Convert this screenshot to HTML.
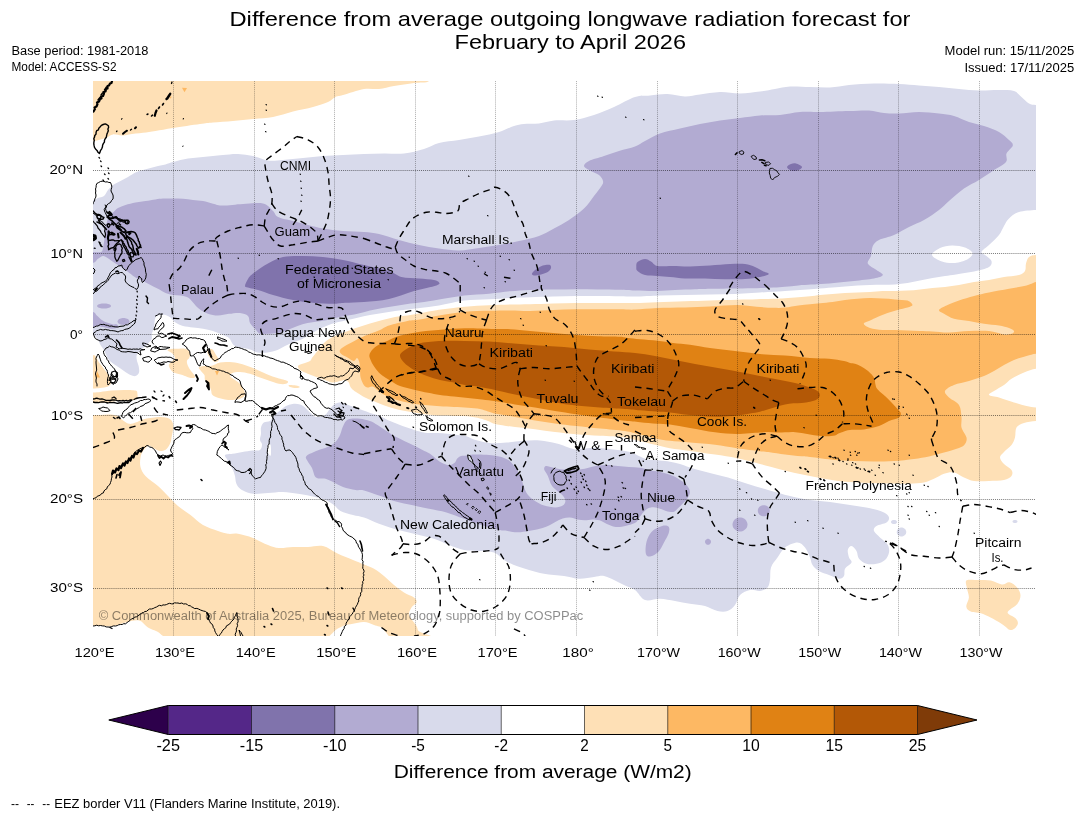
<!DOCTYPE html>
<html><head><meta charset="utf-8"><title>OLR forecast</title>
<style>
html,body{margin:0;padding:0;background:#fff;}
body{width:1085px;height:816px;overflow:hidden;font-family:"Liberation Sans",sans-serif;}
svg{display:block;position:absolute;left:0;top:0;}
svg text{font-family:"Liberation Sans",sans-serif;fill:#000;}
.tx{filter:grayscale(1);}
</style></head><body>
<svg width="1085" height="816" viewBox="0 0 1085 816">
<rect x="0" y="0" width="1085" height="816" fill="#fff"/>
<defs><clipPath id="mc"><rect x="93" y="81" width="943" height="555"/></clipPath></defs>
<g clip-path="url(#mc)" stroke="none">
<path fill="#fee0b6" d="M80.0,70.0C138.2,58.0 370.8,68.2 429.0,70.0C487.2,71.8 431.5,78.8 429.0,81.0C426.5,83.2 419.8,82.2 414.0,83.0C408.2,83.8 399.8,85.0 394.0,86.0C388.2,87.0 384.0,88.5 379.0,89.0C374.0,89.5 370.0,88.0 364.0,89.0C358.0,90.0 347.8,93.7 343.0,95.0C338.2,96.3 338.0,95.8 335.5,97.0C333.0,98.2 331.8,100.3 328.0,102.0C324.2,103.7 318.8,105.4 313.0,107.0C307.2,108.6 299.7,109.8 293.0,111.5C286.3,113.2 279.7,115.8 273.0,117.0C266.3,118.2 259.7,118.3 253.0,119.0C246.3,119.7 239.7,120.4 233.0,121.0C226.3,121.6 218.5,122.0 213.0,122.5C207.5,123.0 206.7,123.1 200.0,124.0C193.3,124.9 180.4,126.8 173.0,128.0C165.6,129.2 160.5,130.2 155.5,131.0C150.5,131.8 147.4,132.2 143.0,132.8C138.6,133.4 132.5,133.9 129.0,134.4C125.5,134.9 124.5,135.6 121.8,135.6C119.1,135.6 115.5,134.1 113.0,134.4C110.5,134.7 108.9,136.7 106.8,137.5C104.7,138.3 102.8,138.8 100.5,139.4C98.2,140.0 96.4,140.6 93.0,141.0C89.6,141.4 82.2,153.8 80.0,142.0C77.8,130.2 21.8,82.0 80.0,70.0Z"/>
<path fill="#fee0b6" d="M80.0,354.0C82.2,348.4 90.3,354.5 93.0,355.0C95.7,355.5 95.0,355.8 96.0,357.0C97.0,358.2 97.8,360.8 99.0,362.5C100.2,364.2 101.7,365.8 103.0,367.5C104.3,369.2 105.5,370.8 106.8,372.5C108.0,374.2 109.8,375.8 110.5,377.5C111.2,379.2 111.4,381.5 111.0,383.0C110.6,384.5 109.8,385.7 108.0,386.5C106.2,387.3 102.5,387.7 100.0,388.0C97.5,388.3 96.3,388.4 93.0,388.5C89.7,388.6 82.2,394.2 80.0,388.5C77.8,382.8 77.8,359.6 80.0,354.0Z"/>
<path fill="#fee0b6" d="M80.0,392.5C82.2,390.8 89.6,392.6 93.0,392.5C96.4,392.4 97.4,392.3 100.5,392.0C103.6,391.7 107.9,390.9 111.8,390.6C115.7,390.3 120.0,390.0 124.0,390.0C128.0,390.0 133.3,390.0 135.5,390.6C137.7,391.2 137.2,392.4 137.4,393.8C137.6,395.2 138.0,397.7 136.8,398.8C135.7,399.9 133.6,400.2 130.5,400.6C127.4,401.0 122.2,400.7 118.0,401.0C113.8,401.3 108.8,402.2 105.5,402.5C102.2,402.8 100.1,402.7 98.0,402.8C95.9,402.9 96.0,403.0 93.0,403.0C90.0,403.0 82.2,404.8 80.0,403.0C77.8,401.2 77.8,394.2 80.0,392.5Z"/>
<path fill="#fee0b6" d="M80.0,415.0C82.2,376.2 89.6,415.0 93.0,415.0C96.4,415.0 97.8,415.1 100.5,415.0C103.2,414.9 106.3,414.3 109.0,414.4C111.7,414.5 114.7,414.8 116.8,415.6C118.9,416.4 119.8,418.0 121.8,419.4C123.8,420.8 126.7,423.3 129.0,423.8C131.3,424.3 133.2,423.2 135.5,422.5C137.8,421.8 140.5,420.1 143.0,419.4C145.5,418.6 148.0,418.4 150.5,418.0C153.0,417.6 155.5,417.1 158.0,417.0C160.5,416.9 163.4,417.1 165.5,417.5C167.6,417.9 169.2,418.3 170.5,419.4C171.8,420.4 172.6,422.0 173.0,423.8C173.4,425.6 173.2,428.0 173.0,430.0C172.8,432.0 172.2,433.9 171.8,436.0C171.4,438.1 171.3,440.4 170.5,442.5C169.7,444.6 168.2,447.4 166.8,448.8C165.4,450.2 163.5,450.8 161.8,451.0C160.1,451.2 158.5,450.7 156.8,450.0C155.1,449.3 153.3,447.7 151.8,447.0C150.3,446.3 149.5,445.3 148.0,446.0C146.5,446.7 144.2,449.1 143.0,451.0C141.8,452.9 140.9,454.8 140.5,457.5C140.1,460.2 139.7,463.9 140.5,467.0C141.3,470.1 142.6,472.8 145.5,476.0C148.4,479.2 154.2,482.7 158.0,486.0C161.8,489.3 164.7,492.7 168.0,496.0C171.3,499.3 174.2,502.8 178.0,506.0C181.8,509.2 186.3,511.8 190.5,515.0C194.7,518.2 198.4,522.3 203.0,525.0C207.6,527.7 213.8,529.5 218.0,531.0C222.2,532.5 224.7,533.3 228.0,533.8C231.3,534.3 233.8,533.1 238.0,533.8C242.2,534.5 248.0,536.1 253.0,538.0C258.0,539.9 263.7,543.3 268.0,545.0C272.3,546.7 274.8,547.7 279.0,548.0C283.2,548.3 288.2,547.2 293.0,547.0C297.8,546.8 303.0,547.2 308.0,547.0C313.0,546.8 318.0,544.9 323.0,546.0C328.0,547.1 333.0,551.5 338.0,553.8C343.0,556.1 348.7,558.2 353.0,560.0C357.3,561.8 360.5,563.0 364.0,564.5C367.5,566.0 370.7,566.9 374.0,568.8C377.3,570.7 380.7,573.3 384.0,576.0C387.3,578.7 390.7,582.2 394.0,585.0C397.3,587.8 400.7,590.4 404.0,592.5C407.3,594.6 411.9,595.8 414.0,597.5C416.1,599.2 416.9,600.8 416.5,602.5C416.1,604.2 412.8,605.4 411.5,607.5C410.2,609.6 408.6,612.5 409.0,615.0C409.4,617.5 412.5,620.0 414.0,622.5C415.5,625.0 417.2,625.8 417.8,630.0C418.4,634.2 474.1,645.0 417.8,648.0C361.5,651.0 136.3,686.8 80.0,648.0C23.7,609.2 77.8,453.8 80.0,415.0Z"/>
<path fill="#ffffff" d="M80.0,625.5C82.2,621.8 87.5,625.4 93.0,625.5C98.5,625.6 107.6,626.5 113.0,626.0C118.4,625.5 121.2,623.4 125.5,622.5C129.8,621.6 135.2,619.7 139.0,620.5C142.8,621.3 144.4,625.2 148.0,627.5C151.6,629.8 157.2,630.6 160.5,634.0C163.8,637.4 181.4,645.7 168.0,648.0C154.6,650.3 94.7,651.8 80.0,648.0C65.3,644.2 77.8,629.2 80.0,625.5Z"/>
<path fill="#ffffff" d="M325.5,648.0C316.2,645.4 330.1,636.2 333.0,632.5C335.9,628.8 339.7,627.5 343.0,626.0C346.3,624.5 349.5,624.5 353.0,623.8C356.5,623.1 360.5,621.8 364.0,622.0C367.5,622.2 370.7,623.7 374.0,625.0C377.3,626.3 381.5,626.2 384.0,630.0C386.5,633.8 398.8,645.0 389.0,648.0C379.2,651.0 334.8,650.6 325.5,648.0Z"/>
<path fill="#fee0b6" d="M167.5,350.0C168.0,349.4 171.9,349.0 173.8,348.8C175.7,348.6 176.9,348.8 178.8,348.8C180.7,348.8 183.1,348.3 185.0,348.8C186.9,349.3 189.3,350.6 190.0,352.0C190.7,353.4 189.9,356.0 189.4,357.5C188.9,359.0 187.1,359.6 186.9,361.0C186.7,362.4 187.3,364.3 188.0,366.0C188.7,367.7 189.8,369.3 191.0,371.0C192.2,372.7 194.5,374.8 195.0,376.0C195.5,377.2 194.8,377.8 193.8,378.0C192.8,378.2 190.7,378.0 188.8,377.5C186.9,377.0 184.8,375.8 182.5,375.0C180.2,374.2 176.9,373.8 175.0,373.0C173.1,372.2 172.0,371.3 171.0,370.0C170.0,368.7 168.6,366.5 168.8,365.0C169.1,363.5 171.5,362.0 172.5,361.0C173.5,360.0 174.8,359.8 175.0,358.8C175.2,357.8 174.5,356.1 173.8,355.0C173.1,353.9 172.1,353.3 171.0,352.5C169.9,351.7 167.0,350.6 167.5,350.0Z"/>
<path fill="#fee0b6" d="M207.5,350.0C208.2,349.2 211.1,348.6 212.5,349.4C213.9,350.2 214.9,353.2 216.0,355.0C217.1,356.8 219.0,358.8 218.8,360.0C218.6,361.2 216.3,362.2 215.0,362.0C213.7,361.8 212.2,360.1 211.0,358.8C209.8,357.5 208.6,355.9 208.0,354.4C207.4,352.9 206.8,350.8 207.5,350.0Z"/>
<path fill="#fee0b6" d="M198.8,367.5C199.3,366.7 201.9,366.2 203.8,366.0C205.7,365.8 208.1,366.3 210.0,366.0C211.9,365.7 213.3,365.0 215.0,364.4C216.7,363.8 217.9,362.9 220.0,362.5C222.1,362.1 224.6,361.9 227.5,362.0C230.4,362.1 234.2,362.3 237.5,363.0C240.8,363.7 244.2,364.8 247.5,366.0C250.8,367.2 254.2,368.6 257.5,370.0C260.8,371.4 264.2,373.1 267.5,374.4C270.8,375.7 274.2,376.9 277.5,378.0C280.8,379.1 286.1,380.0 287.5,381.0C288.9,382.0 287.4,383.3 286.0,383.8C284.6,384.3 281.5,384.3 278.8,383.8C276.1,383.3 273.1,382.1 270.0,381.0C266.9,379.9 263.3,378.7 260.0,377.5C256.7,376.3 253.3,374.7 250.0,373.8C246.7,372.9 242.9,372.1 240.0,372.0C237.1,371.9 234.2,372.3 232.5,373.0C230.8,373.7 229.6,374.8 230.0,376.0C230.4,377.2 233.3,378.7 235.0,380.0C236.7,381.3 238.5,382.1 240.0,383.8C241.5,385.5 243.0,388.1 243.8,390.0C244.6,391.9 245.6,393.5 245.0,395.0C244.4,396.5 242.1,398.0 240.0,398.8C237.9,399.6 235.0,399.9 232.5,400.0C230.0,400.1 227.3,399.7 225.0,399.4C222.7,399.1 220.9,398.7 218.8,398.0C216.7,397.3 213.8,396.3 212.5,395.0C211.2,393.7 211.6,391.7 211.0,390.0C210.4,388.3 209.8,386.7 208.8,385.0C207.8,383.3 205.7,381.7 205.0,380.0C204.3,378.3 205.1,376.5 204.4,375.0C203.7,373.5 201.9,372.2 201.0,371.0C200.1,369.8 198.3,368.3 198.8,367.5Z"/>
<path fill="#fee0b6" d="M289.0,385.0C290.0,384.8 294.2,385.2 296.0,385.5C297.8,385.8 300.0,386.6 300.0,387.0C300.0,387.4 297.7,388.0 296.0,388.0C294.3,388.0 291.2,387.5 290.0,387.0C288.8,386.5 288.0,385.2 289.0,385.0Z"/>
<path fill="#fee0b6" d="M298.0,366.0C298.4,365.0 300.5,364.6 302.5,363.8C304.5,363.0 308.4,362.0 310.0,361.0C311.6,360.0 310.8,359.7 312.0,358.0C313.2,356.3 315.8,353.2 317.5,351.0C319.2,348.8 320.3,346.8 322.0,345.0C323.7,343.2 325.3,341.5 327.5,340.0C329.7,338.5 332.1,337.3 335.0,336.0C337.9,334.7 341.2,333.4 345.0,332.0C348.8,330.6 353.3,328.9 357.5,327.5C361.7,326.1 365.8,324.8 370.0,323.5C374.2,322.2 378.3,321.1 382.5,320.0C386.7,318.9 390.8,317.8 395.0,317.0C399.2,316.2 403.3,316.1 407.5,315.5C411.7,314.9 414.8,314.2 420.0,313.3C425.2,312.4 431.5,310.9 439.0,309.8C446.5,308.7 456.7,307.4 465.0,306.7C473.3,305.9 481.5,305.6 489.0,305.3C496.5,305.0 503.2,304.8 510.0,304.6C516.8,304.4 522.8,304.5 530.0,304.3C537.2,304.1 545.3,303.7 553.0,303.5C560.7,303.3 568.5,303.1 576.0,303.0C583.5,302.9 590.7,303.0 598.0,303.0C605.3,303.0 613.8,303.0 620.0,303.0C626.2,303.0 628.8,303.1 635.0,303.0C641.2,302.9 648.7,302.5 657.0,302.2C665.3,301.9 676.2,301.6 685.0,301.3C693.8,301.0 701.3,300.8 710.0,300.5C718.7,300.2 729.2,299.9 737.0,299.7C744.8,299.5 750.7,299.4 756.7,299.2C762.8,299.1 768.6,299.0 773.3,298.8C778.0,298.6 780.8,298.5 785.0,298.2C789.2,297.9 794.1,297.5 798.3,297.2C802.5,296.9 806.4,296.7 810.0,296.3C813.6,295.9 816.2,295.4 820.0,295.0C823.8,294.6 828.3,294.3 832.5,294.0C836.7,293.7 840.8,293.2 845.0,293.0C849.2,292.8 853.3,292.7 857.5,292.5C861.7,292.3 865.8,292.2 870.0,292.0C874.2,291.8 878.3,291.2 882.5,291.0C886.7,290.8 890.8,291.1 895.0,291.0C899.2,290.9 903.3,290.9 907.5,290.6C911.7,290.3 915.8,289.8 920.0,289.4C924.2,289.0 928.3,288.4 932.5,288.0C936.7,287.6 940.6,287.5 945.0,287.0C949.4,286.5 954.2,285.8 959.0,285.0C963.8,284.2 969.0,282.8 974.0,282.0C979.0,281.2 984.0,280.8 989.0,280.0C994.0,279.2 999.0,277.8 1004.0,277.0C1009.0,276.2 1015.5,276.0 1019.0,275.0C1022.5,274.0 1023.8,272.9 1025.0,271.0C1026.2,269.1 1025.3,265.8 1026.0,263.5C1026.7,261.2 1027.3,258.4 1029.0,257.0C1030.7,255.6 1032.8,255.3 1036.0,255.0C1039.2,254.7 1046.0,236.0 1048.0,255.0C1050.0,274.0 1050.0,349.8 1048.0,368.8C1046.0,387.8 1040.0,368.2 1036.0,368.8C1032.0,369.4 1028.1,370.8 1024.0,372.5C1019.9,374.2 1014.8,376.7 1011.5,378.8C1008.2,380.9 1006.9,383.0 1004.0,385.0C1001.1,387.0 996.5,389.3 994.0,391.0C991.5,392.7 988.2,393.9 989.0,395.0C989.8,396.1 994.8,396.2 999.0,397.5C1003.2,398.8 1009.4,401.1 1014.0,402.5C1018.6,403.9 1022.8,405.2 1026.5,406.0C1030.2,406.8 1032.4,407.2 1036.0,407.5C1039.6,407.8 1046.0,405.2 1048.0,407.5C1050.0,409.8 1050.0,418.8 1048.0,421.0C1046.0,423.2 1040.0,420.7 1036.0,421.0C1032.0,421.3 1027.2,421.9 1024.0,423.0C1020.8,424.1 1018.0,425.1 1016.5,427.5C1015.0,429.9 1015.8,434.6 1015.0,437.5C1014.2,440.4 1013.3,442.6 1011.5,445.0C1009.7,447.4 1005.9,449.9 1004.0,452.0C1002.1,454.1 1000.0,455.5 1000.0,457.5C1000.0,459.5 1002.1,461.9 1004.0,464.0C1005.9,466.1 1010.2,468.0 1011.5,470.0C1012.8,472.0 1012.8,474.3 1011.5,476.0C1010.2,477.7 1007.8,479.2 1004.0,480.0C1000.2,480.8 994.0,480.8 989.0,481.0C984.0,481.2 978.2,481.6 974.0,481.0C969.8,480.4 967.3,478.9 964.0,477.5C960.7,476.1 957.3,473.1 954.0,472.5C950.7,471.9 947.3,472.8 944.0,473.8C940.7,474.9 937.3,477.4 934.0,478.8C930.7,480.2 928.2,481.7 924.0,482.5C919.8,483.3 914.8,483.6 909.0,483.8C903.2,484.0 895.7,483.6 889.0,483.5C882.3,483.4 875.7,483.2 869.0,483.0C862.3,482.8 854.7,482.4 849.0,482.0C843.3,481.6 840.7,481.3 835.0,480.5C829.3,479.7 821.7,478.2 815.0,477.0C808.3,475.8 801.7,474.5 795.0,473.0C788.3,471.5 780.8,469.5 775.0,468.0C769.2,466.5 766.3,465.6 760.0,464.0C753.7,462.4 744.5,459.9 737.0,458.3C729.5,456.7 722.8,455.8 715.0,454.6C707.2,453.4 697.5,452.1 690.0,451.0C682.5,449.9 675.5,449.2 670.0,448.3C664.5,447.4 662.0,446.5 657.0,445.3C652.0,444.1 645.3,442.3 640.0,441.0C634.7,439.7 631.7,438.3 625.0,437.4C618.3,436.5 608.2,436.3 600.0,435.8C591.8,435.3 583.5,434.8 576.0,434.2C568.5,433.6 561.8,432.8 555.0,432.0C548.2,431.2 541.7,430.0 535.0,429.2C528.3,428.4 521.5,427.8 515.0,427.0C508.5,426.2 500.5,425.2 496.0,424.2C491.5,423.2 490.7,421.9 488.0,421.0C485.3,420.1 483.3,419.3 480.0,418.5C476.7,417.7 472.3,416.7 468.0,416.3C463.7,415.9 458.7,416.1 454.0,416.0C449.3,415.9 444.0,415.8 440.0,415.6C436.0,415.4 433.3,415.2 430.0,414.8C426.7,414.4 423.2,414.0 420.0,413.5C416.8,413.0 413.9,412.5 411.0,412.0C408.1,411.5 405.2,411.1 402.5,410.6C399.8,410.1 397.5,409.5 395.0,408.8C392.5,408.1 390.0,407.3 387.5,406.5C385.0,405.7 382.5,404.8 380.0,403.8C377.5,402.8 375.0,401.7 372.5,400.6C370.0,399.6 367.5,398.8 365.0,397.5C362.5,396.2 359.6,394.3 357.5,393.0C355.4,391.7 353.8,390.7 352.5,389.5C351.2,388.3 350.6,387.2 350.0,386.0C349.4,384.8 349.6,383.5 348.8,382.5C348.0,381.5 346.5,380.2 345.0,380.0C343.5,379.8 342.1,380.6 340.0,381.0C337.9,381.4 335.0,382.7 332.5,382.5C330.0,382.3 327.5,380.8 325.0,380.0C322.5,379.2 319.8,378.3 317.5,377.5C315.2,376.7 313.1,375.8 311.0,375.0C308.9,374.2 306.8,373.3 305.0,372.5C303.2,371.7 301.2,371.1 300.0,370.0C298.8,368.9 297.6,367.0 298.0,366.0Z"/>
<path fill="#fee0b6" d="M966.3,580.6C967.6,579.2 970.9,580.0 975.0,580.0C979.1,580.0 986.3,579.9 990.8,580.6C995.3,581.4 998.7,584.2 1001.8,584.5C1004.9,584.8 1006.9,581.7 1009.5,582.2C1012.1,582.7 1015.5,585.5 1017.3,587.7C1019.1,589.9 1020.5,592.8 1020.5,595.5C1020.5,598.2 1019.4,601.1 1017.3,603.9C1015.1,606.7 1007.9,609.9 1007.6,612.3C1007.3,614.6 1013.6,616.2 1015.3,618.0C1017.0,619.8 1018.0,621.5 1017.9,623.2C1017.8,624.9 1016.1,627.3 1014.7,628.4C1013.3,629.5 1011.6,630.5 1009.5,629.7C1007.4,629.0 1006.1,626.5 1001.8,623.9C997.5,621.3 988.9,616.2 983.7,614.2C978.5,612.2 973.7,612.9 970.8,611.6C967.9,610.3 966.6,608.9 966.3,606.5C966.0,604.1 968.8,600.4 968.9,597.4C969.0,594.4 967.4,591.2 967.0,588.4C966.6,585.6 965.0,582.0 966.3,580.6Z"/>
<path fill="#d8daeb" d="M80.0,200.0C82.2,177.5 90.0,200.3 93.0,200.0C96.0,199.7 96.2,198.7 98.0,198.0C99.8,197.3 102.3,197.3 104.0,196.0C105.7,194.7 106.5,191.8 108.0,190.0C109.5,188.2 110.9,186.5 113.0,185.0C115.1,183.5 118.0,182.3 120.5,181.0C123.0,179.7 125.5,178.4 128.0,177.0C130.5,175.6 133.0,173.7 135.5,172.5C138.0,171.3 140.5,170.8 143.0,170.0C145.5,169.2 148.0,168.7 150.5,168.0C153.0,167.3 155.5,166.6 158.0,166.0C160.5,165.4 163.0,165.1 165.5,164.4C168.0,163.7 170.1,162.8 173.0,162.0C175.9,161.2 179.7,160.1 183.0,159.4C186.3,158.7 189.7,158.4 193.0,158.0C196.3,157.6 199.7,157.3 203.0,157.0C206.3,156.7 209.7,156.3 213.0,156.0C216.3,155.7 218.8,155.3 223.0,155.0C227.2,154.7 233.0,153.8 238.0,154.0C243.0,154.2 248.0,154.9 253.0,156.0C258.0,157.1 263.0,159.8 268.0,160.5C273.0,161.2 277.2,160.4 283.0,160.0C288.8,159.6 296.3,158.7 303.0,158.0C309.7,157.3 316.3,156.5 323.0,156.0C329.7,155.5 336.2,155.3 343.0,155.0C349.8,154.7 357.2,154.2 364.0,154.0C370.8,153.8 377.3,153.6 384.0,153.5C390.7,153.4 397.3,154.2 404.0,153.5C410.7,152.8 418.2,150.8 424.0,149.0C429.8,147.2 433.2,144.5 439.0,143.0C444.8,141.5 452.3,141.1 459.0,140.0C465.7,138.9 472.3,137.8 479.0,136.5C485.7,135.2 493.2,133.8 499.0,132.0C504.8,130.2 509.8,127.3 514.0,126.0C518.2,124.7 519.8,124.4 524.0,124.0C528.2,123.6 534.0,124.1 539.0,123.5C544.0,122.9 548.2,121.1 554.0,120.5C559.8,119.9 567.3,120.9 574.0,120.0C580.7,119.1 587.3,117.2 594.0,115.0C600.7,112.8 607.2,110.0 614.0,107.0C620.8,104.0 629.0,98.9 635.0,97.0C641.0,95.1 644.6,96.0 650.0,95.5C655.4,95.0 661.7,93.8 667.5,94.0C673.3,94.2 679.6,96.4 685.0,96.5C690.4,96.6 694.2,95.2 700.0,94.5C705.8,93.8 713.3,92.2 720.0,92.0C726.7,91.8 733.3,93.6 740.0,93.5C746.7,93.4 754.2,92.2 760.0,91.5C765.8,90.8 770.0,89.8 775.0,89.0C780.0,88.2 784.2,86.8 790.0,86.5C795.8,86.2 803.3,86.8 810.0,87.0C816.7,87.2 823.5,87.8 830.0,87.5C836.5,87.2 841.7,85.7 849.0,85.0C856.3,84.3 865.7,83.7 874.0,83.5C882.3,83.3 891.5,83.7 899.0,84.0C906.5,84.3 912.3,85.0 919.0,85.5C925.7,86.0 932.3,86.4 939.0,87.0C945.7,87.6 952.3,88.4 959.0,89.0C965.7,89.6 972.3,90.3 979.0,90.5C985.7,90.7 993.2,89.9 999.0,90.0C1004.8,90.1 1010.2,89.8 1014.0,91.0C1017.8,92.2 1019.0,94.9 1021.5,97.0C1024.0,99.1 1026.6,102.2 1029.0,103.5C1031.4,104.8 1032.8,104.8 1036.0,105.0C1039.2,105.2 1046.0,87.5 1048.0,105.0C1050.0,122.5 1050.0,192.5 1048.0,210.0C1046.0,227.5 1040.8,209.7 1036.0,210.0C1031.2,210.3 1023.5,210.6 1019.0,212.0C1014.5,213.4 1011.5,216.2 1009.0,218.5C1006.5,220.8 1005.7,223.2 1004.0,226.0C1002.3,228.8 1001.5,231.8 999.0,235.0C996.5,238.2 991.9,242.2 989.0,245.0C986.1,247.8 981.9,250.2 981.5,252.0C981.1,253.8 984.8,254.5 986.5,256.0C988.2,257.5 991.1,259.2 991.5,261.0C991.9,262.8 991.9,265.2 989.0,267.0C986.1,268.8 979.5,270.3 974.0,271.5C968.5,272.7 960.8,273.6 956.0,274.4C951.2,275.1 948.9,275.4 945.0,276.0C941.1,276.6 936.7,277.2 932.5,278.0C928.3,278.8 924.2,279.8 920.0,280.6C915.8,281.4 911.7,282.4 907.5,283.0C903.3,283.6 899.2,284.1 895.0,284.4C890.8,284.7 886.7,284.7 882.5,284.8C878.3,284.9 874.2,284.9 870.0,285.0C865.8,285.1 861.7,285.4 857.5,285.6C853.3,285.9 849.2,286.2 845.0,286.5C840.8,286.8 837.7,287.1 832.5,287.5C827.3,287.9 821.9,288.4 814.0,289.0C806.1,289.6 794.0,290.4 785.0,291.0C776.0,291.6 768.3,292.0 760.0,292.5C751.7,293.0 743.3,293.7 735.0,294.0C726.7,294.3 718.3,294.3 710.0,294.5C701.7,294.7 693.3,294.8 685.0,295.0C676.7,295.2 668.3,295.2 660.0,295.5C651.7,295.8 641.7,296.5 635.0,296.6C628.3,296.7 626.2,296.4 620.0,296.3C613.8,296.2 605.3,296.2 598.0,296.1C590.7,296.1 583.5,295.9 576.0,296.0C568.5,296.1 560.7,296.3 553.0,296.5C545.3,296.7 537.2,297.0 530.0,297.2C522.8,297.4 516.8,297.5 510.0,297.9C503.2,298.2 496.7,298.9 489.0,299.3C481.3,299.7 472.3,299.5 464.0,300.5C455.7,301.5 446.3,304.2 439.0,305.5C431.7,306.8 425.2,307.3 420.0,308.0C414.8,308.7 411.7,309.0 407.5,309.5C403.3,310.0 399.2,310.4 395.0,311.0C390.8,311.6 386.7,312.3 382.5,313.0C378.3,313.7 374.2,314.2 370.0,315.0C365.8,315.8 361.7,316.9 357.5,317.8C353.3,318.7 348.8,319.7 345.0,320.6C341.2,321.5 337.9,322.2 335.0,323.0C332.1,323.8 330.4,324.3 327.5,325.5C324.6,326.7 320.8,328.2 317.5,330.0C314.2,331.8 310.4,334.3 307.5,336.0C304.6,337.7 302.5,338.9 300.0,340.0C297.5,341.1 295.0,341.5 292.5,342.5C290.0,343.5 287.5,344.8 285.0,346.0C282.5,347.2 280.4,348.9 277.5,350.0C274.6,351.1 270.8,352.1 267.5,352.5C264.2,352.9 260.4,353.0 257.5,352.5C254.6,352.0 252.9,350.2 250.0,349.4C247.1,348.6 242.5,348.1 240.0,347.5C237.5,346.9 236.2,346.6 235.0,346.0C233.8,345.4 233.5,345.1 232.5,343.8C231.5,342.5 230.6,339.5 229.0,338.0C227.4,336.5 225.7,336.2 223.0,335.0C220.3,333.8 216.3,332.0 213.0,331.0C209.7,330.0 206.3,329.4 203.0,328.8C199.7,328.2 196.3,328.0 193.0,327.5C189.7,327.0 185.9,326.8 183.0,326.0C180.1,325.2 177.6,323.9 175.5,322.5C173.4,321.1 172.2,318.8 170.5,317.5C168.8,316.2 167.2,315.4 165.5,315.0C163.8,314.6 162.2,314.6 160.5,315.0C158.8,315.4 156.6,315.4 155.5,317.5C154.4,319.6 154.6,324.8 154.0,327.5C153.4,330.2 152.2,331.9 151.8,333.8C151.4,335.7 152.3,337.4 151.8,338.8C151.3,340.2 150.1,341.3 149.0,342.5C147.9,343.7 146.9,344.8 145.5,346.0C144.1,347.2 141.9,348.5 140.5,350.0C139.1,351.5 137.4,353.3 136.8,355.0C136.2,356.7 136.5,358.2 136.8,360.0C137.1,361.8 138.2,363.9 138.6,366.0C139.0,368.1 139.5,370.8 139.0,372.5C138.5,374.2 136.9,375.6 135.5,376.0C134.1,376.4 132.4,375.8 130.5,375.0C128.6,374.2 126.3,372.5 124.0,371.0C121.7,369.5 119.3,367.8 116.8,366.0C114.3,364.2 111.1,362.7 109.0,360.0C106.9,357.3 105.4,352.5 104.0,350.0C102.6,347.5 101.5,346.7 100.5,345.0C99.5,343.3 99.2,341.7 98.0,340.0C96.8,338.3 96.0,335.8 93.0,335.0C90.0,334.2 82.2,357.5 80.0,335.0C77.8,312.5 77.8,222.5 80.0,200.0Z"/>
<path fill="#ffffff" d="M932.0,255.0C931.7,252.8 936.7,249.6 940.0,248.0C943.3,246.4 947.8,245.6 952.0,245.5C956.2,245.4 961.6,246.2 965.0,247.5C968.4,248.8 972.0,251.1 972.5,253.0C973.0,254.9 970.9,257.3 968.0,259.0C965.1,260.7 959.3,262.6 955.0,263.0C950.7,263.4 945.8,262.8 942.0,261.5C938.2,260.2 932.3,257.2 932.0,255.0Z"/>
<path fill="#d8daeb" d="M341.0,402.5C339.3,402.5 336.8,402.8 335.0,403.8C333.2,404.9 331.7,406.9 330.0,408.8C328.3,410.7 327.3,413.6 325.0,415.0C322.7,416.4 318.5,417.4 316.0,417.0C313.5,416.6 311.8,414.1 310.0,412.5C308.2,410.9 306.7,408.9 305.0,407.5C303.3,406.1 302.1,405.0 300.0,404.4C297.9,403.8 294.8,403.7 292.5,404.0C290.2,404.3 288.1,404.9 286.0,406.0C283.9,407.1 282.2,408.8 280.0,410.6C277.8,412.4 274.7,415.3 273.0,417.0C271.3,418.7 271.5,420.1 270.0,421.0C268.5,421.9 265.3,421.4 263.8,422.5C262.3,423.6 261.5,425.6 261.0,427.5C260.5,429.4 261.2,431.7 261.0,433.8C260.8,435.9 259.8,438.2 260.0,440.0C260.2,441.8 262.0,442.7 262.0,444.4C262.0,446.1 261.6,449.0 260.0,450.0C258.4,451.0 255.4,450.3 252.5,450.6C249.6,450.9 245.8,451.5 242.5,452.0C239.2,452.5 235.4,453.3 232.5,453.8C229.6,454.3 225.8,454.0 225.0,455.0C224.2,456.0 226.7,458.3 227.5,460.0C228.3,461.7 229.1,463.3 230.0,465.0C230.9,466.7 232.2,468.2 233.0,470.0C233.8,471.8 234.5,473.9 235.0,476.0C235.5,478.1 235.4,480.6 236.0,482.5C236.6,484.4 237.6,486.2 238.8,487.5C240.0,488.8 240.6,489.4 243.0,490.5C245.4,491.6 248.8,493.4 253.0,493.8C257.2,494.2 263.0,493.3 268.0,493.0C273.0,492.7 278.0,491.9 283.0,492.0C288.0,492.1 293.4,493.1 298.0,493.8C302.6,494.5 305.9,495.0 310.5,496.0C315.1,497.0 321.6,498.5 325.5,500.0C329.4,501.5 331.5,503.2 334.0,505.0C336.5,506.8 337.3,509.3 340.5,511.0C343.7,512.7 349.1,513.9 353.0,515.0C356.9,516.1 359.7,516.0 364.0,517.5C368.3,519.0 374.0,521.9 379.0,523.8C384.0,525.7 388.2,527.1 394.0,528.8C399.8,530.5 407.3,532.1 414.0,533.8C420.7,535.5 428.2,536.9 434.0,538.8C439.8,540.7 444.0,543.1 449.0,545.0C454.0,546.9 459.0,549.0 464.0,550.0C469.0,551.0 474.0,550.6 479.0,551.0C484.0,551.4 489.8,551.0 494.0,552.5C498.2,554.0 500.7,557.9 504.0,560.0C507.3,562.1 509.8,563.3 514.0,565.0C518.2,566.7 524.0,568.5 529.0,570.0C534.0,571.5 538.2,572.8 544.0,573.8C549.8,574.8 558.2,575.2 564.0,576.0C569.8,576.8 574.0,578.6 579.0,578.8C584.0,579.0 589.8,577.5 594.0,577.0C598.2,576.5 600.7,575.5 604.0,576.0C607.3,576.5 610.7,578.5 614.0,580.0C617.3,581.5 620.5,583.3 624.0,585.0C627.5,586.7 631.5,587.5 635.0,590.0C638.5,592.5 640.8,598.5 645.0,600.0C649.2,601.5 655.0,598.6 660.0,598.8C665.0,599.0 670.0,600.2 675.0,601.0C680.0,601.8 685.0,603.0 690.0,603.8C695.0,604.6 700.4,604.8 705.0,606.0C709.6,607.2 713.8,610.2 717.5,611.0C721.2,611.8 724.6,612.0 727.5,611.0C730.4,610.0 732.9,607.7 735.0,605.0C737.1,602.3 737.5,597.5 740.0,595.0C742.5,592.5 746.7,590.7 750.0,590.0C753.3,589.3 757.1,591.4 760.0,591.0C762.9,590.6 765.8,589.3 767.5,587.5C769.2,585.7 769.4,583.3 770.0,580.0C770.6,576.7 769.8,571.2 771.0,567.5C772.2,563.8 775.2,560.8 777.5,557.5C779.8,554.2 781.7,550.0 785.0,547.5C788.3,545.0 794.2,542.5 797.5,542.5C800.8,542.5 802.9,545.0 805.0,547.5C807.1,550.0 808.8,554.6 810.0,557.5C811.2,560.4 811.0,562.8 812.5,565.0C814.0,567.2 816.2,569.3 819.0,571.0C821.8,572.7 825.7,573.7 829.0,575.0C832.3,576.3 836.5,578.6 839.0,578.8C841.5,579.0 843.0,577.7 844.0,576.0C845.0,574.3 843.8,571.0 845.0,568.8C846.2,566.5 850.8,564.4 851.5,562.5C852.2,560.6 849.6,559.6 849.0,557.5C848.4,555.4 847.4,551.9 847.8,550.0C848.2,548.1 850.0,545.8 851.5,546.0C853.0,546.2 855.2,548.9 856.5,551.0C857.8,553.1 857.3,556.7 859.0,558.8C860.7,560.9 863.6,563.0 866.5,563.8C869.4,564.6 873.4,564.4 876.5,563.8C879.6,563.2 882.9,561.9 885.0,560.0C887.1,558.1 888.5,555.0 889.0,552.5C889.5,550.0 889.0,547.3 887.8,545.0C886.5,542.7 883.8,541.1 881.5,538.8C879.2,536.5 874.8,533.1 874.0,531.0C873.2,528.9 874.4,527.4 876.5,526.0C878.6,524.6 884.4,523.9 886.5,522.5C888.6,521.1 889.4,519.2 889.0,517.5C888.6,515.8 887.3,514.1 884.0,512.5C880.7,510.9 874.7,509.2 869.0,508.0C863.3,506.8 856.5,506.0 850.0,505.0C843.5,504.0 836.7,502.8 830.0,502.0C823.3,501.2 816.7,501.0 810.0,500.0C803.3,499.0 797.0,497.7 790.0,496.0C783.0,494.3 775.0,492.0 768.0,490.0C761.0,488.0 754.7,486.1 748.0,484.0C741.3,481.9 734.7,479.4 728.0,477.5C721.3,475.6 714.3,474.2 708.0,472.5C701.7,470.8 694.7,468.9 690.0,467.5C685.3,466.1 683.3,465.0 680.0,464.0C676.7,463.0 673.3,462.3 670.0,461.7C666.7,461.1 663.7,460.9 660.0,460.5C656.3,460.1 651.3,460.2 648.0,459.5C644.7,458.8 643.0,457.8 640.0,456.5C637.0,455.2 634.5,453.2 630.0,452.0C625.5,450.8 618.8,450.2 613.3,449.5C607.8,448.8 602.2,447.9 596.7,447.8C591.2,447.7 583.9,448.8 580.0,449.0C576.1,449.2 577.2,449.9 573.3,449.0C569.4,448.1 562.2,444.9 556.7,443.5C551.2,442.1 545.6,440.9 540.0,440.4C534.4,439.9 528.8,440.3 523.3,440.7C517.8,441.1 512.2,442.1 506.7,442.5C501.1,442.9 495.4,443.5 490.0,443.0C484.6,442.5 478.0,440.7 474.0,439.5C470.0,438.3 468.8,436.8 466.0,436.0C463.2,435.2 460.6,435.4 457.5,435.0C454.4,434.6 450.8,434.1 447.5,433.8C444.2,433.5 440.8,433.1 437.5,433.0C434.2,432.9 430.8,433.3 427.5,433.0C424.2,432.7 420.4,431.8 417.5,431.0C414.6,430.2 412.5,429.3 410.0,428.5C407.5,427.7 405.0,426.9 402.5,426.0C400.0,425.1 397.5,424.0 395.0,423.0C392.5,422.0 390.0,421.2 387.5,420.0C385.0,418.8 382.5,417.0 380.0,416.0C377.5,415.0 375.0,414.6 372.5,413.8C370.0,413.0 367.9,412.1 365.0,411.0C362.1,409.9 358.3,408.7 355.0,407.5C351.7,406.3 347.3,404.6 345.0,403.8C342.7,403.0 342.7,402.5 341.0,402.5Z"/>
<path fill="#d8daeb" d="M897.0,522.0C897.0,522.4 896.8,522.9 896.4,523.2C896.1,523.5 895.5,523.8 894.9,523.9C894.4,524.0 893.6,524.0 893.1,523.9C892.5,523.8 891.9,523.5 891.6,523.2C891.2,522.9 891.0,522.4 891.0,522.0C891.0,521.6 891.2,521.1 891.6,520.8C891.9,520.5 892.5,520.2 893.1,520.1C893.6,520.0 894.4,520.0 894.9,520.1C895.5,520.2 896.1,520.5 896.4,520.8C896.8,521.1 897.0,521.6 897.0,522.0Z"/>
<path fill="#d8daeb" d="M906.3,532.0C906.3,532.9 905.9,533.9 905.4,534.6C904.8,535.4 903.9,536.0 903.0,536.3C902.1,536.6 900.9,536.6 900.0,536.3C899.1,536.0 898.2,535.4 897.6,534.6C897.1,533.9 896.7,532.9 896.7,532.0C896.7,531.1 897.1,530.1 897.6,529.4C898.2,528.6 899.1,528.0 900.0,527.7C900.9,527.4 902.1,527.4 903.0,527.7C903.9,528.0 904.8,528.6 905.4,529.4C905.9,530.1 906.3,531.1 906.3,532.0Z"/>
<path fill="#d8daeb" d="M1017.5,521.5C1017.5,521.8 1017.3,522.1 1017.0,522.4C1016.7,522.6 1016.2,522.8 1015.8,522.9C1015.3,523.0 1014.7,523.0 1014.2,522.9C1013.8,522.8 1013.3,522.6 1013.0,522.4C1012.7,522.1 1012.5,521.8 1012.5,521.5C1012.5,521.2 1012.7,520.9 1013.0,520.6C1013.3,520.4 1013.8,520.2 1014.2,520.1C1014.7,520.0 1015.3,520.0 1015.8,520.1C1016.2,520.2 1016.7,520.4 1017.0,520.6C1017.3,520.9 1017.5,521.2 1017.5,521.5Z"/>
<path fill="#b2abd2" d="M113.0,212.5C114.5,211.2 115.9,209.2 118.0,208.0C120.1,206.8 122.6,205.9 125.5,205.0C128.4,204.1 132.2,203.2 135.5,202.5C138.8,201.8 142.2,201.5 145.5,201.0C148.8,200.5 152.6,199.8 155.5,199.4C158.4,199.0 160.1,198.7 163.0,198.5C165.9,198.3 169.7,198.4 173.0,198.5C176.3,198.6 179.7,198.6 183.0,198.8C186.3,199.1 189.7,199.6 193.0,200.0C196.3,200.4 199.7,200.4 203.0,201.0C206.3,201.6 209.7,203.0 213.0,203.8C216.3,204.6 218.0,205.6 223.0,205.6C228.0,205.6 236.3,204.3 243.0,204.0C249.7,203.7 258.0,202.3 263.0,203.5C268.0,204.7 270.5,208.8 273.0,211.0C275.5,213.2 274.7,215.3 278.0,217.0C281.3,218.7 288.0,219.7 293.0,221.0C298.0,222.3 303.0,223.8 308.0,225.0C313.0,226.2 317.2,227.5 323.0,228.5C328.8,229.5 336.2,230.4 343.0,231.0C349.8,231.6 358.0,231.5 364.0,232.0C370.0,232.5 373.2,232.7 379.0,234.0C384.8,235.3 392.3,238.2 399.0,240.0C405.7,241.8 412.3,243.6 419.0,245.0C425.7,246.4 432.3,247.6 439.0,248.5C445.7,249.4 452.3,250.6 459.0,250.5C465.7,250.4 472.3,248.9 479.0,248.0C485.7,247.1 492.3,246.2 499.0,245.0C505.7,243.8 512.3,242.5 519.0,241.0C525.7,239.5 533.2,238.1 539.0,236.0C544.8,233.9 549.0,231.2 554.0,228.5C559.0,225.8 564.0,223.3 569.0,220.0C574.0,216.7 579.8,212.5 584.0,208.5C588.2,204.5 591.1,199.8 594.0,196.0C596.9,192.2 600.0,188.5 601.5,186.0C603.0,183.5 603.4,182.8 603.0,181.0C602.6,179.2 601.3,176.8 599.0,175.0C596.7,173.2 591.5,171.5 589.0,170.0C586.5,168.5 584.0,167.5 584.0,166.0C584.0,164.5 585.7,162.7 589.0,161.0C592.3,159.3 599.0,157.7 604.0,156.0C609.0,154.3 613.8,152.6 619.0,151.0C624.2,149.4 630.7,148.2 635.0,146.5C639.3,144.8 640.8,143.2 645.0,141.0C649.2,138.8 654.2,135.6 660.0,133.5C665.8,131.4 673.3,130.1 680.0,128.5C686.7,126.9 693.3,125.3 700.0,124.0C706.7,122.7 713.3,121.5 720.0,120.5C726.7,119.5 733.3,118.8 740.0,118.0C746.7,117.2 753.3,116.0 760.0,115.5C766.7,115.0 773.3,115.6 780.0,115.0C786.7,114.4 793.3,112.5 800.0,112.0C806.7,111.5 811.8,112.2 820.0,112.0C828.2,111.8 840.8,111.2 849.0,111.0C857.2,110.8 863.2,110.2 869.0,110.5C874.8,110.8 879.0,112.5 884.0,113.0C889.0,113.5 893.2,113.7 899.0,113.5C904.8,113.3 912.3,112.0 919.0,112.0C925.7,112.0 933.2,112.8 939.0,113.5C944.8,114.2 949.0,114.6 954.0,116.0C959.0,117.4 964.0,120.3 969.0,122.0C974.0,123.7 979.0,124.3 984.0,126.0C989.0,127.7 994.8,129.7 999.0,132.0C1003.2,134.3 1006.7,137.8 1009.0,140.0C1011.3,142.2 1013.2,143.2 1012.8,145.5C1012.4,147.8 1007.6,150.8 1006.5,153.5C1005.4,156.2 1008.1,159.2 1006.0,162.0C1003.9,164.8 998.5,167.0 994.0,170.0C989.5,173.0 984.0,176.9 979.0,180.0C974.0,183.1 969.0,185.0 964.0,188.5C959.0,192.0 953.2,197.4 949.0,201.0C944.8,204.6 943.2,206.8 939.0,210.0C934.8,213.2 929.0,217.2 924.0,220.0C919.0,222.8 914.0,224.5 909.0,227.0C904.0,229.5 899.0,232.8 894.0,235.0C889.0,237.2 882.5,238.2 879.0,240.0C875.5,241.8 874.1,243.3 872.8,246.0C871.5,248.7 871.8,253.1 871.0,256.0C870.2,258.9 866.9,261.2 867.8,263.5C868.7,265.8 874.0,268.1 876.5,270.0C879.0,271.9 883.2,273.6 882.8,275.0C882.4,276.4 878.8,277.5 874.0,278.5C869.2,279.5 860.7,280.2 854.0,281.0C847.3,281.8 840.1,282.4 834.0,283.0C827.9,283.6 821.4,284.0 817.5,284.3C813.6,284.6 814.0,284.4 810.8,284.6C807.6,284.8 802.6,285.1 798.3,285.5C794.0,285.9 789.2,286.4 785.0,286.8C780.8,287.1 778.0,287.4 773.3,287.6C768.6,287.8 762.8,288.1 756.7,288.2C750.7,288.3 744.8,288.3 737.0,288.4C729.2,288.5 717.0,288.6 710.0,288.8C703.0,289.0 700.8,289.1 695.0,289.3C689.2,289.5 681.3,289.7 675.0,290.0C668.7,290.3 663.7,290.8 657.0,290.9C650.3,291.0 641.2,290.7 635.0,290.5C628.8,290.3 626.2,289.9 620.0,289.7C613.8,289.5 605.3,289.5 598.0,289.4C590.7,289.3 583.5,289.2 576.0,289.2C568.5,289.3 560.7,289.5 553.0,289.6C545.3,289.7 537.2,289.7 530.0,290.0C522.8,290.3 516.8,290.7 510.0,291.3C503.2,291.9 496.7,293.0 489.0,293.7C481.3,294.4 472.3,294.5 464.0,295.5C455.7,296.5 446.3,298.3 439.0,299.5C431.7,300.7 425.2,301.8 420.0,302.5C414.8,303.2 411.7,303.4 407.5,304.0C403.3,304.6 399.2,305.3 395.0,306.0C390.8,306.7 386.7,307.2 382.5,308.0C378.3,308.8 374.2,309.6 370.0,310.6C365.8,311.6 361.7,312.9 357.5,313.8C353.3,314.7 348.8,315.3 345.0,316.0C341.2,316.7 337.9,317.3 335.0,318.0C332.1,318.7 330.4,319.4 327.5,320.0C324.6,320.6 320.8,321.0 317.5,321.5C314.2,322.0 310.8,322.2 307.5,323.0C304.2,323.8 300.8,324.8 297.5,326.0C294.2,327.2 290.8,328.8 287.5,330.0C284.2,331.2 280.8,332.4 277.5,333.0C274.2,333.6 270.4,333.7 267.5,333.8C264.6,333.9 262.1,334.6 260.0,333.8C257.9,333.0 256.7,330.6 255.0,328.8C253.3,327.0 251.2,325.1 250.0,323.0C248.8,320.9 249.7,317.7 248.0,316.0C246.3,314.3 243.2,313.4 240.0,313.0C236.8,312.6 232.7,313.4 229.0,313.8C225.3,314.2 221.5,315.6 218.0,315.6C214.5,315.6 211.2,314.9 208.0,313.8C204.8,312.7 201.5,310.7 199.0,308.8C196.5,306.9 194.8,304.4 193.0,302.5C191.2,300.6 190.1,298.6 188.0,297.5C185.9,296.4 183.0,296.0 180.5,295.6C178.0,295.2 175.5,295.4 173.0,295.0C170.5,294.6 168.0,294.0 165.5,293.0C163.0,292.0 160.5,290.1 158.0,288.8C155.5,287.5 153.0,286.3 150.5,285.0C148.0,283.7 145.5,282.2 143.0,281.0C140.5,279.8 137.6,278.7 135.5,277.5C133.4,276.3 132.2,275.1 130.5,273.8C128.8,272.6 127.6,271.5 125.5,270.0C123.4,268.5 120.3,266.5 118.0,265.0C115.7,263.5 113.7,262.2 111.8,261.0C109.9,259.8 108.3,258.3 106.8,257.5C105.3,256.7 104.5,255.8 103.0,256.0C101.5,256.2 99.7,257.6 98.0,258.8C96.3,260.0 96.0,262.3 93.0,263.0C90.0,263.7 82.2,264.8 80.0,263.0C77.8,261.2 77.8,253.8 80.0,252.0C82.2,250.2 89.5,252.0 93.0,252.0C96.5,252.0 99.3,252.7 101.0,252.0C102.7,251.3 102.3,250.8 103.0,248.0C103.7,245.2 104.6,238.2 105.0,235.0C105.4,231.8 105.2,230.9 105.5,228.8C105.8,226.7 106.2,224.6 106.8,222.5C107.4,220.4 108.0,217.7 109.0,216.0C110.0,214.3 111.5,213.8 113.0,212.5Z"/>
<path fill="#b2abd2" d="M111.0,306.0C111.0,306.5 110.5,307.1 109.7,307.5C108.9,307.9 107.5,308.3 106.2,308.5C104.9,308.6 103.1,308.6 101.8,308.5C100.5,308.3 99.1,307.9 98.3,307.5C97.5,307.1 97.0,306.5 97.0,306.0C97.0,305.5 97.5,304.9 98.3,304.5C99.1,304.1 100.5,303.7 101.8,303.5C103.1,303.4 104.9,303.4 106.2,303.5C107.5,303.7 108.9,304.1 109.7,304.5C110.5,304.9 111.0,305.5 111.0,306.0Z"/>
<path fill="#b2abd2" d="M129.5,321.5C129.5,322.2 129.0,323.0 128.4,323.6C127.7,324.1 126.5,324.6 125.4,324.8C124.2,325.0 122.8,325.0 121.6,324.8C120.5,324.6 119.3,324.1 118.6,323.6C118.0,323.0 117.5,322.2 117.5,321.5C117.5,320.8 118.0,320.0 118.6,319.4C119.3,318.9 120.5,318.4 121.6,318.2C122.8,318.0 124.2,318.0 125.4,318.2C126.5,318.4 127.7,318.9 128.4,319.4C129.0,320.0 129.5,320.8 129.5,321.5Z"/>
<path fill="#b2abd2" d="M80.0,312.0C82.2,309.5 90.2,311.4 93.0,312.0C95.8,312.6 95.3,314.3 96.8,315.6C98.3,316.9 100.1,318.9 101.8,320.0C103.5,321.1 104.9,321.8 106.8,322.5C108.7,323.2 111.3,324.1 113.0,324.4C114.7,324.7 116.0,324.1 116.8,324.5C117.6,324.9 118.8,326.3 118.0,327.0C117.2,327.7 114.3,328.8 111.8,328.8C109.3,328.8 105.5,327.5 103.0,327.0C100.5,326.5 98.5,326.0 96.8,326.0C95.1,326.0 95.8,326.8 93.0,327.0C90.2,327.2 82.2,329.5 80.0,327.0C77.8,324.5 77.8,314.5 80.0,312.0Z"/>
<path fill="#b2abd2" d="M370.0,421.0C372.9,422.0 375.0,423.5 377.5,425.0C380.0,426.5 382.5,428.3 385.0,430.0C387.5,431.7 390.0,433.5 392.5,435.0C395.0,436.5 397.5,437.6 400.0,438.8C402.5,440.1 405.0,441.3 407.5,442.5C410.0,443.7 412.5,444.8 415.0,446.0C417.5,447.2 420.0,448.7 422.5,450.0C425.0,451.3 427.5,452.1 430.0,453.8C432.5,455.5 435.2,458.3 437.5,460.0C439.8,461.7 441.7,463.0 443.8,463.8C445.9,464.6 448.1,465.2 450.0,465.0C451.9,464.8 453.8,463.5 455.0,462.5C456.2,461.5 456.0,459.9 457.0,458.8C458.0,457.7 459.2,456.5 461.0,456.0C462.8,455.5 465.3,455.9 467.5,455.6C469.7,455.4 469.6,454.5 474.0,454.5C478.4,454.5 488.4,454.7 494.0,455.5C499.6,456.3 503.9,457.6 507.4,459.5C510.8,461.4 512.6,464.1 514.7,466.9C516.9,469.6 518.8,472.6 520.3,476.0C521.8,479.4 522.8,483.9 524.0,487.0C525.2,490.1 525.8,492.2 527.6,494.5C529.4,496.8 532.2,499.1 535.0,501.0C537.8,502.9 540.8,504.5 544.2,505.6C547.6,506.7 552.2,507.4 555.3,507.4C558.4,507.4 561.0,506.7 562.7,505.6C564.4,504.5 565.4,502.7 565.4,501.0C565.4,499.3 564.1,497.1 562.7,495.4C561.3,493.7 558.9,492.5 557.0,490.8C555.1,489.1 553.1,487.8 551.6,485.3C550.1,482.8 549.1,478.6 547.9,476.0C546.7,473.4 544.5,471.3 544.2,469.6C543.9,467.9 544.5,466.3 546.0,466.0C547.5,465.7 550.7,467.2 553.5,467.8C556.3,468.4 559.3,469.3 562.7,469.6C566.1,469.9 570.0,469.8 573.7,469.6C577.4,469.5 581.1,469.3 584.8,468.7C588.5,468.1 592.2,466.6 595.9,466.0C599.6,465.4 603.2,465.0 606.9,465.0C610.6,465.0 614.3,465.7 618.0,466.0C621.7,466.3 625.3,466.6 629.0,466.9C632.7,467.2 636.3,467.2 640.0,467.8C643.7,468.4 647.3,469.8 651.0,470.6C654.7,471.4 658.5,471.5 662.2,472.4C665.9,473.3 669.9,474.5 673.3,476.0C676.7,477.5 680.0,479.8 682.5,481.6C685.0,483.4 686.8,485.1 688.0,487.0C689.2,488.9 690.1,490.7 689.9,492.7C689.7,494.7 688.2,497.2 687.0,499.0C685.8,500.8 684.2,502.0 682.5,503.7C680.8,505.4 678.5,507.9 677.0,509.3C675.5,510.7 675.1,511.7 673.3,512.0C671.5,512.3 668.5,511.6 666.0,511.0C663.5,510.4 661.0,508.9 658.5,508.3C656.0,507.7 653.1,507.1 651.0,507.4C648.9,507.7 647.4,508.5 645.6,510.0C643.8,511.5 641.5,514.6 640.0,516.6C638.5,518.6 638.2,520.6 636.4,522.0C634.6,523.4 631.5,524.2 629.0,525.0C626.5,525.8 624.2,526.5 621.7,526.8C619.2,527.1 616.8,527.3 614.3,526.8C611.8,526.3 609.4,525.1 606.9,524.0C604.4,522.9 602.0,521.1 599.5,520.3C597.0,519.5 594.7,519.4 592.2,519.4C589.8,519.4 587.3,520.3 584.8,520.3C582.3,520.3 579.9,519.8 577.4,519.4C574.9,519.0 572.5,517.8 570.0,517.6C567.5,517.5 565.2,517.8 562.7,518.5C560.2,519.2 557.8,520.8 555.3,522.0C552.8,523.2 551.0,524.6 547.9,525.9C544.8,527.1 540.6,528.6 536.9,529.5C533.2,530.4 529.5,530.9 525.8,531.4C522.1,531.9 518.1,532.4 514.7,532.3C511.3,532.1 508.1,530.9 505.5,530.5C502.9,530.1 503.0,530.9 499.0,530.0C495.0,529.1 487.3,526.9 481.5,525.0C475.7,523.1 469.8,520.9 464.0,518.8C458.2,516.7 452.3,514.2 446.5,512.5C440.7,510.8 434.4,510.0 429.0,508.8C423.6,507.6 419.8,506.8 414.0,505.5C408.2,504.2 399.8,502.7 394.0,501.0C388.2,499.3 384.0,497.2 379.0,495.5C374.0,493.8 367.9,491.4 364.0,490.5C360.1,489.6 359.0,490.6 355.5,490.0C352.0,489.4 346.8,488.3 343.0,487.0C339.2,485.7 335.9,483.4 333.0,482.0C330.1,480.6 328.3,479.6 325.5,478.8C322.7,478.1 318.2,479.3 316.0,477.5C313.8,475.7 313.4,470.8 312.0,468.0C310.6,465.2 308.4,463.0 307.5,461.0C306.6,459.0 304.8,457.8 306.5,456.0C308.2,454.2 314.0,452.0 317.5,450.5C321.0,449.0 324.6,448.3 327.5,447.0C330.4,445.7 332.9,444.5 335.0,442.5C337.1,440.5 338.8,437.5 340.0,435.0C341.2,432.5 341.5,429.8 342.5,427.5C343.5,425.2 344.6,422.4 346.0,421.0C347.4,419.6 348.7,419.2 351.0,418.8C353.3,418.4 356.8,418.4 360.0,418.8C363.2,419.2 367.1,420.0 370.0,421.0Z"/>
<path fill="#b2abd2" d="M645.6,548.0C645.8,545.2 646.3,541.7 647.5,538.8C648.7,535.9 650.5,532.6 653.0,530.5C655.5,528.4 659.6,526.5 662.2,525.9C664.8,525.3 667.6,525.6 668.7,526.8C669.8,528.0 669.5,530.6 668.7,533.2C667.9,535.8 665.7,539.3 664.0,542.4C662.3,545.5 660.7,549.4 658.5,551.7C656.3,554.0 653.0,555.7 651.0,556.3C649.0,556.9 647.4,556.7 646.5,555.3C645.6,553.9 645.4,550.8 645.6,548.0Z"/>
<path fill="#d8daeb" d="M468.0,455.5C468.5,455.2 469.8,455.2 470.6,456.0C471.4,456.8 472.2,458.5 472.8,460.0C473.4,461.5 474.2,464.3 474.0,464.8C473.8,465.3 472.3,463.7 471.5,463.0C470.7,462.3 469.6,461.5 469.0,460.6C468.4,459.7 467.8,458.4 467.6,457.5C467.4,456.6 467.5,455.8 468.0,455.5Z"/>
<path fill="#ffffff" d="M268.0,445.0C268.5,444.2 270.1,443.3 270.6,445.0C271.1,446.7 271.2,453.4 270.9,455.0C270.6,456.6 269.4,455.2 268.8,454.4C268.2,453.6 267.6,451.6 267.5,450.0C267.4,448.4 267.5,445.8 268.0,445.0Z"/>
<path fill="#b2abd2" d="M747.5,524.5C747.5,525.9 746.9,527.5 746.1,528.6C745.2,529.7 743.7,530.7 742.3,531.2C740.9,531.6 739.1,531.6 737.7,531.2C736.3,530.7 734.8,529.7 733.9,528.6C733.1,527.5 732.5,525.9 732.5,524.5C732.5,523.1 733.1,521.5 733.9,520.4C734.8,519.3 736.3,518.3 737.7,517.8C739.1,517.4 740.9,517.4 742.3,517.8C743.7,518.3 745.2,519.3 746.1,520.4C746.9,521.5 747.5,523.1 747.5,524.5Z"/>
<path fill="#b2abd2" d="M769.8,510.8C769.8,511.9 769.3,513.2 768.7,514.0C768.0,514.9 766.8,515.7 765.7,516.0C764.5,516.4 763.1,516.4 761.9,516.0C760.8,515.7 759.6,514.9 758.9,514.0C758.3,513.2 757.8,511.9 757.8,510.8C757.8,509.7 758.3,508.4 758.9,507.6C759.6,506.7 760.8,505.9 761.9,505.6C763.1,505.2 764.5,505.2 765.7,505.6C766.8,505.9 768.0,506.7 768.7,507.6C769.3,508.4 769.8,509.7 769.8,510.8Z"/>
<path fill="#b2abd2" d="M711.0,541.8C711.0,542.4 710.8,543.1 710.4,543.6C710.1,544.0 709.5,544.5 708.9,544.7C708.4,544.8 707.6,544.8 707.1,544.7C706.5,544.5 705.9,544.0 705.6,543.6C705.2,543.1 705.0,542.4 705.0,541.8C705.0,541.2 705.2,540.5 705.6,540.0C705.9,539.6 706.5,539.1 707.1,538.9C707.6,538.8 708.4,538.8 708.9,538.9C709.5,539.1 710.1,539.6 710.4,540.0C710.8,540.5 711.0,541.2 711.0,541.8Z"/>
<path fill="#8073ac" d="M245.0,286.0C245.0,284.6 246.7,281.1 248.0,279.0C249.3,276.9 249.7,276.1 253.0,273.5C256.3,270.9 263.0,266.2 268.0,263.5C273.0,260.8 277.2,258.2 283.0,257.0C288.8,255.8 296.3,256.0 303.0,256.0C309.7,256.0 316.3,256.3 323.0,257.0C329.7,257.7 336.2,258.7 343.0,260.0C349.8,261.3 356.3,263.2 364.0,265.0C371.7,266.8 382.8,269.0 389.0,271.0C395.2,273.0 396.5,275.8 401.5,277.0C406.5,278.2 413.6,278.0 419.0,278.5C424.4,279.0 430.7,279.3 434.0,280.0C437.3,280.7 438.6,281.6 439.0,282.5C439.4,283.4 440.7,284.1 436.5,285.5C432.3,286.9 421.9,288.8 414.0,291.0C406.1,293.2 397.3,297.2 389.0,299.0C380.7,300.8 371.3,301.4 364.0,302.0C356.7,302.6 350.2,302.5 345.0,302.8C339.8,303.1 338.3,303.8 333.0,303.8C327.7,303.8 319.7,303.4 313.0,302.8C306.3,302.2 299.7,301.3 293.0,300.0C286.3,298.7 278.8,296.7 273.0,295.0C267.2,293.3 262.2,291.2 258.0,290.0C253.8,288.8 250.2,288.2 248.0,287.5C245.8,286.8 245.0,287.4 245.0,286.0Z"/>
<path fill="#8073ac" d="M636.3,267.3C636.3,265.8 636.0,263.4 637.5,262.0C639.0,260.6 642.8,259.1 645.0,259.0C647.2,258.9 648.9,260.3 651.0,261.5C653.1,262.7 653.9,265.2 657.5,266.0C661.1,266.8 667.1,265.9 672.5,266.0C677.9,266.1 683.8,266.6 690.0,266.5C696.2,266.4 703.3,265.9 710.0,265.5C716.7,265.1 724.2,264.2 730.0,264.0C735.8,263.8 740.8,263.5 745.0,264.0C749.2,264.5 752.1,265.8 755.0,267.0C757.9,268.2 760.2,269.8 762.5,271.0C764.8,272.2 769.2,273.0 768.8,274.0C768.4,275.0 764.0,276.2 760.0,277.0C756.0,277.8 750.8,278.6 745.0,279.0C739.2,279.4 731.7,279.4 725.0,279.3C718.3,279.2 711.7,278.6 705.0,278.5C698.3,278.4 690.8,278.8 685.0,278.5C679.2,278.2 674.6,277.4 670.0,277.0C665.4,276.6 661.7,276.3 657.5,276.0C653.3,275.7 648.3,275.8 645.0,275.0C641.7,274.2 639.0,272.3 637.5,271.0C636.0,269.7 636.3,268.8 636.3,267.3Z"/>
<path fill="#8073ac" d="M532.0,273.5C532.4,272.4 534.7,270.3 536.5,269.0C538.3,267.7 540.6,266.2 542.8,265.5C545.0,264.8 548.1,264.4 549.5,264.8C550.9,265.2 551.3,266.8 551.0,268.0C550.7,269.2 549.6,270.9 547.8,272.0C546.0,273.1 542.3,274.2 540.0,274.8C537.7,275.4 535.3,275.7 534.0,275.5C532.7,275.3 531.6,274.6 532.0,273.5Z"/>
<path fill="#8073ac" d="M787.0,167.0C787.0,165.9 789.5,164.6 791.0,164.0C792.5,163.4 794.2,163.0 796.0,163.5C797.8,164.0 801.8,165.8 802.0,167.0C802.2,168.2 799.3,169.9 797.5,170.5C795.7,171.1 792.8,171.1 791.0,170.5C789.2,169.9 787.0,168.1 787.0,167.0Z"/>
<path fill="#fdb863" d="M340.0,350.0C340.7,348.7 342.9,347.3 345.0,346.0C347.1,344.7 350.0,343.3 352.5,342.0C355.0,340.7 357.1,339.4 360.0,338.0C362.9,336.6 366.7,335.1 370.0,333.8C373.3,332.5 376.8,331.4 380.0,330.0C383.2,328.6 384.4,327.0 389.0,325.5C393.6,324.0 402.3,322.0 407.5,321.0C412.7,320.0 414.8,320.5 420.0,319.6C425.2,318.7 431.5,316.8 439.0,315.5C446.5,314.2 456.7,312.5 465.0,311.7C473.3,310.9 481.5,311.0 489.0,310.8C496.5,310.6 503.2,310.4 510.0,310.4C516.8,310.4 522.8,311.1 530.0,311.0C537.2,310.9 545.3,310.3 553.0,310.0C560.7,309.7 568.5,309.4 576.0,309.3C583.5,309.2 590.7,309.3 598.0,309.3C605.3,309.3 613.8,309.2 620.0,309.3C626.2,309.4 628.8,309.8 635.0,309.6C641.2,309.4 648.7,308.4 657.0,308.0C665.3,307.6 676.2,307.6 685.0,307.4C693.8,307.1 701.3,306.9 710.0,306.5C718.7,306.1 729.2,305.0 737.0,305.0C744.8,305.0 750.7,306.3 756.7,306.8C762.8,307.2 768.6,307.7 773.3,307.8C778.0,307.9 780.8,308.0 785.0,307.6C789.2,307.2 794.1,306.1 798.3,305.5C802.5,304.9 806.4,304.7 810.0,304.3C813.6,303.9 816.2,303.6 820.0,303.2C823.8,302.8 828.3,302.5 832.5,302.0C836.7,301.5 840.8,300.5 845.0,300.0C849.2,299.5 853.3,299.1 857.5,298.8C861.7,298.5 865.8,298.1 870.0,298.0C874.2,297.9 878.3,298.3 882.5,298.5C886.7,298.7 890.8,299.0 895.0,299.4C899.2,299.8 904.6,299.7 907.5,300.6C910.4,301.5 912.5,303.9 912.5,305.0C912.5,306.1 910.0,306.7 907.5,307.5C905.0,308.3 900.8,309.1 897.5,310.0C894.2,310.9 890.8,311.8 887.5,313.0C884.2,314.2 880.4,315.7 877.5,317.0C874.6,318.3 872.3,319.5 870.0,320.6C867.7,321.7 863.8,322.6 863.8,323.8C863.8,325.0 866.9,327.0 870.0,328.0C873.1,329.0 878.3,329.7 882.5,330.0C886.7,330.3 890.8,329.9 895.0,330.0C899.2,330.1 903.3,330.4 907.5,330.6C911.7,330.8 915.8,330.9 920.0,331.0C924.2,331.1 927.7,331.2 932.5,331.5C937.3,331.8 942.9,332.6 949.0,332.5C955.1,332.4 962.3,331.2 969.0,331.0C975.7,330.8 983.2,330.4 989.0,331.0C994.8,331.6 1000.2,334.0 1004.0,334.5C1007.8,335.0 1009.8,334.4 1011.5,333.8C1013.2,333.2 1014.4,332.0 1014.0,331.0C1013.6,330.0 1011.5,328.9 1009.0,328.0C1006.5,327.1 1003.2,326.2 999.0,325.5C994.8,324.8 989.0,324.6 984.0,323.8C979.0,323.1 974.0,321.8 969.0,321.0C964.0,320.2 958.2,320.0 954.0,318.8C949.8,317.6 946.5,315.3 944.0,313.8C941.5,312.3 938.6,311.4 939.0,310.0C939.4,308.6 943.2,307.1 946.5,305.5C949.8,303.9 954.4,302.1 959.0,300.5C963.6,298.9 969.0,297.3 974.0,296.0C979.0,294.7 983.2,293.7 989.0,292.5C994.8,291.3 1002.8,290.0 1009.0,288.8C1015.2,287.6 1022.0,286.6 1026.5,285.5C1031.0,284.4 1032.4,282.8 1036.0,282.0C1039.6,281.2 1046.0,269.0 1048.0,281.0C1050.0,293.0 1050.0,341.7 1048.0,353.8C1046.0,365.9 1039.6,353.4 1036.0,353.8C1032.4,354.2 1030.2,355.0 1026.5,356.0C1022.8,357.0 1017.8,358.5 1014.0,360.0C1010.2,361.5 1007.3,363.2 1004.0,365.0C1000.7,366.8 997.3,369.2 994.0,371.0C990.7,372.8 988.2,374.3 984.0,376.0C979.8,377.7 974.0,379.5 969.0,381.0C964.0,382.5 958.0,383.3 954.0,385.0C950.0,386.7 945.8,388.9 945.0,391.0C944.2,393.1 946.7,395.2 949.0,397.5C951.3,399.8 956.9,401.7 959.0,405.0C961.1,408.3 961.1,413.8 961.5,417.5C961.9,421.2 960.7,424.2 961.5,427.5C962.3,430.8 965.9,434.8 966.5,437.5C967.1,440.2 966.2,442.2 965.0,444.0C963.8,445.8 962.5,446.6 959.0,448.0C955.5,449.4 949.0,451.1 944.0,452.5C939.0,453.9 934.0,455.4 929.0,456.5C924.0,457.6 919.8,458.2 914.0,459.0C908.2,459.8 900.7,460.6 894.0,461.0C887.3,461.4 880.7,461.5 874.0,461.5C867.3,461.5 860.5,461.2 854.0,461.0C847.5,460.8 842.3,460.7 835.0,460.0C827.7,459.3 815.5,457.6 810.0,457.0C804.5,456.4 804.5,456.5 801.7,456.2C798.9,456.0 796.1,455.7 793.3,455.4C790.5,455.1 787.8,455.0 785.0,454.6C782.2,454.2 779.5,453.7 776.7,453.3C773.9,452.9 771.1,452.4 768.3,452.0C765.5,451.6 765.2,451.8 760.0,451.2C754.8,450.6 744.5,449.4 737.0,448.3C729.5,447.2 722.8,445.7 715.0,444.8C707.2,443.8 697.5,443.2 690.0,442.5C682.5,441.8 675.5,441.4 670.0,440.8C664.5,440.2 662.0,439.8 657.0,438.7C652.0,437.6 645.3,435.8 640.0,434.5C634.7,433.2 631.7,432.0 625.0,431.0C618.3,430.0 608.2,429.3 600.0,428.5C591.8,427.7 583.5,426.8 576.0,426.0C568.5,425.2 561.8,424.4 555.0,423.5C548.2,422.6 541.7,421.6 535.0,420.5C528.3,419.4 521.5,418.1 515.0,417.0C508.5,415.9 500.5,414.7 496.0,413.8C491.5,412.8 490.7,412.3 488.0,411.5C485.3,410.7 483.3,409.6 480.0,409.0C476.7,408.4 472.3,408.1 468.0,407.8C463.7,407.5 458.7,407.2 454.0,407.0C449.3,406.8 444.3,406.6 440.0,406.3C435.7,406.0 431.8,405.6 428.0,405.3C424.2,405.0 420.5,404.7 417.5,404.3C414.5,403.9 412.5,403.5 410.0,403.0C407.5,402.5 405.0,402.1 402.5,401.5C400.0,400.9 397.3,400.1 395.0,399.4C392.7,398.6 390.9,397.9 388.8,397.0C386.7,396.1 384.4,395.0 382.5,393.8C380.6,392.6 379.2,391.2 377.5,390.0C375.8,388.8 374.2,386.9 372.5,386.5C370.8,386.1 368.9,387.8 367.5,387.5C366.1,387.2 364.9,386.7 363.8,385.0C362.7,383.3 361.2,380.0 360.6,377.5C360.0,375.0 360.2,372.5 360.0,370.0C359.8,367.5 359.9,364.5 359.4,362.5C358.9,360.5 357.9,358.2 357.0,358.0C356.1,357.8 355.4,361.1 353.8,361.0C352.2,360.9 349.6,358.7 347.5,357.5C345.4,356.3 342.2,355.1 341.0,353.8C339.8,352.6 339.3,351.3 340.0,350.0Z"/>
<path fill="#fdb863" d="M95.5,377.5 L97.0,371.0 L100.0,377.5Z"/>
<path fill="#fdb863" d="M182.0,87.8 L187.0,88.0 L184.5,92.3Z"/>
<path fill="#fdb863" d="M169.3,96.3 L171.6,96.8 L170.6,98.8Z"/>
<path fill="#fdb863" d="M215.0,371.0 L219.0,371.0 L217.0,375.5Z"/>
<path fill="#e08214" d="M369.4,355.0C369.7,353.2 371.1,351.1 372.5,349.5C373.9,347.9 375.2,346.8 377.5,345.5C379.8,344.2 382.4,343.1 386.0,341.5C389.6,339.9 393.3,337.6 399.0,336.0C404.7,334.4 412.5,332.8 420.0,331.7C427.5,330.6 436.5,330.1 444.0,329.5C451.5,328.9 456.7,328.4 465.0,328.3C473.3,328.2 486.5,328.9 494.0,329.0C501.5,329.1 504.0,328.9 510.0,329.2C516.0,329.5 522.8,330.4 530.0,331.0C537.2,331.6 545.3,332.3 553.0,333.0C560.7,333.7 568.5,334.4 576.0,335.0C583.5,335.6 590.7,336.0 598.0,336.3C605.3,336.6 615.0,336.5 620.0,336.8C625.0,337.1 624.7,337.6 628.0,338.0C631.3,338.4 635.1,338.8 640.0,339.2C644.9,339.6 652.0,340.1 657.5,340.7C663.0,341.3 667.6,342.2 673.0,342.9C678.4,343.6 683.8,343.9 690.0,344.8C696.2,345.7 702.5,347.0 710.0,348.0C717.5,349.0 726.7,350.0 735.0,351.0C743.3,352.0 751.7,353.2 760.0,354.0C768.3,354.8 776.7,354.8 785.0,355.5C793.3,356.2 802.7,357.4 810.0,358.0C817.3,358.6 823.3,358.3 829.0,358.8C834.7,359.3 840.5,360.3 844.0,361.0C847.5,361.7 848.2,362.5 850.0,363.0C851.8,363.5 853.2,363.2 855.0,363.8C856.8,364.3 858.8,365.2 860.8,366.2C862.8,367.3 864.9,368.6 866.7,370.0C868.5,371.4 870.4,373.1 871.7,374.6C873.0,376.1 874.0,377.6 874.6,379.2C875.2,380.8 875.0,382.7 875.4,384.2C875.8,385.7 875.8,386.9 876.7,388.3C877.6,389.7 879.3,391.1 880.8,392.5C882.3,393.9 884.1,395.2 885.8,396.7C887.5,398.2 889.3,400.1 890.8,401.7C892.3,403.3 893.6,404.7 895.0,406.2C896.4,407.8 898.2,409.6 899.2,410.8C900.2,412.0 900.8,412.4 900.8,413.5C900.8,414.6 901.0,416.2 899.0,417.5C897.0,418.8 892.3,419.6 889.0,421.0C885.7,422.4 883.2,424.6 879.0,426.0C874.8,427.4 868.8,428.8 864.0,429.5C859.2,430.2 853.5,429.6 850.0,430.0C846.5,430.4 845.1,431.1 843.3,431.7C841.5,432.2 840.4,432.7 839.0,433.3C837.6,433.9 837.0,434.9 835.0,435.4C833.0,435.9 829.5,436.2 826.7,436.2C823.9,436.3 821.1,436.1 818.3,435.8C815.5,435.5 812.8,435.1 810.0,434.6C807.2,434.1 804.5,433.4 801.7,433.0C798.9,432.6 796.1,432.1 793.3,432.0C790.5,431.9 787.8,432.2 785.0,432.3C782.2,432.4 779.5,432.6 776.7,432.5C773.9,432.4 771.1,432.0 768.3,432.0C765.5,432.0 765.2,432.2 760.0,432.5C754.8,432.8 744.5,434.0 737.0,434.0C729.5,434.0 722.8,433.3 715.0,432.3C707.2,431.3 697.5,429.3 690.0,428.0C682.5,426.7 675.5,425.2 670.0,424.5C664.5,423.8 662.0,424.1 657.0,423.7C652.0,423.3 645.3,422.7 640.0,422.2C634.7,421.7 631.7,421.5 625.0,420.8C618.3,420.0 608.2,418.6 600.0,417.5C591.8,416.4 583.5,415.3 576.0,414.2C568.5,413.1 561.8,412.1 555.0,411.0C548.2,409.9 541.7,408.6 535.0,407.5C528.3,406.4 521.5,405.5 515.0,404.5C508.5,403.5 501.5,402.1 496.0,401.3C490.5,400.5 486.7,400.1 482.0,399.5C477.3,398.9 472.7,398.5 468.0,398.0C463.3,397.5 458.7,397.0 454.0,396.5C449.3,396.0 444.3,395.6 440.0,395.0C435.7,394.4 432.2,393.6 428.0,392.8C423.8,392.0 419.7,391.1 415.0,390.0C410.3,388.9 403.8,387.3 400.0,386.0C396.2,384.7 394.8,383.3 392.5,382.0C390.2,380.7 388.3,379.6 386.0,378.0C383.7,376.4 380.8,374.5 378.8,372.5C376.8,370.5 375.2,368.1 373.8,366.0C372.4,363.9 371.3,361.8 370.6,360.0C369.9,358.2 369.1,356.8 369.4,355.0Z"/>
<path fill="#b35806" d="M400.0,355.0C400.4,352.8 403.3,350.9 406.5,349.0C409.7,347.1 413.6,344.8 419.0,343.5C424.4,342.2 431.5,341.4 439.0,341.0C446.5,340.6 455.7,340.9 464.0,341.0C472.3,341.1 480.7,341.1 489.0,341.5C497.3,341.9 505.7,342.8 514.0,343.5C522.3,344.2 530.7,344.9 539.0,345.5C547.3,346.1 555.7,346.3 564.0,347.0C572.3,347.7 580.7,348.8 589.0,349.5C597.3,350.2 606.3,350.9 614.0,351.5C621.7,352.1 628.2,352.2 635.0,353.0C641.8,353.8 648.3,354.8 655.0,356.0C661.7,357.2 668.3,358.7 675.0,360.0C681.7,361.3 688.3,362.8 695.0,364.0C701.7,365.2 708.3,366.3 715.0,367.5C721.7,368.7 728.3,369.8 735.0,371.0C741.7,372.2 748.3,373.7 755.0,375.0C761.7,376.3 768.3,377.7 775.0,379.0C781.7,380.3 789.2,381.6 795.0,383.0C800.8,384.4 806.2,386.1 810.0,387.5C813.8,388.9 816.4,390.1 818.0,391.5C819.6,392.9 820.0,394.4 819.8,395.8C819.6,397.2 818.3,398.6 816.7,399.6C815.1,400.6 812.5,401.1 810.0,401.7C807.5,402.2 804.5,402.6 801.7,402.9C798.9,403.2 796.1,403.0 793.3,403.3C790.5,403.6 787.8,404.0 785.0,404.6C782.2,405.2 779.5,405.9 776.7,406.7C773.9,407.5 771.1,408.4 768.3,409.2C765.5,410.0 763.0,411.0 760.0,411.7C757.0,412.4 753.8,412.9 750.0,413.5C746.2,414.1 742.8,414.9 737.0,415.4C731.2,415.9 722.8,416.8 715.0,416.7C707.2,416.6 697.5,415.7 690.0,415.0C682.5,414.3 675.5,413.1 670.0,412.5C664.5,411.9 662.0,412.0 657.0,411.6C652.0,411.2 645.3,410.7 640.0,410.3C634.7,409.9 631.7,409.5 625.0,409.0C618.3,408.5 608.2,408.1 600.0,407.5C591.8,406.9 583.5,406.3 576.0,405.5C568.5,404.7 561.8,403.7 555.0,402.5C548.2,401.3 541.7,399.8 535.0,398.5C528.3,397.2 521.5,395.9 515.0,394.5C508.5,393.1 502.2,391.5 496.0,390.2C489.8,388.9 482.8,387.5 477.6,386.6C472.4,385.7 469.2,385.7 465.0,385.0C460.8,384.3 456.7,383.0 452.5,382.2C448.3,381.4 444.2,381.0 440.0,380.0C435.8,379.0 431.3,377.7 427.0,376.0C422.7,374.3 417.8,372.2 414.0,370.0C410.2,367.8 406.3,365.0 404.0,362.5C401.7,360.0 399.6,357.2 400.0,355.0Z"/>
</g>
<g stroke="#000" fill="none" stroke-width="1">
<line x1="173.5" y1="81" x2="173.5" y2="636" stroke-opacity="0.3" stroke-dasharray="1.1 0.95"/>
<line x1="254.5" y1="81" x2="254.5" y2="636" stroke-opacity="0.3" stroke-dasharray="1.1 0.95"/>
<line x1="334.5" y1="81" x2="334.5" y2="636" stroke-opacity="0.3" stroke-dasharray="1.1 0.95"/>
<line x1="415.5" y1="81" x2="415.5" y2="636" stroke-opacity="0.3" stroke-dasharray="1.1 0.95"/>
<line x1="495.5" y1="81" x2="495.5" y2="636" stroke-opacity="0.3" stroke-dasharray="1.1 0.95"/>
<line x1="576.5" y1="81" x2="576.5" y2="636" stroke-opacity="0.3" stroke-dasharray="1.1 0.95"/>
<line x1="657.5" y1="81" x2="657.5" y2="636" stroke-opacity="0.3" stroke-dasharray="1.1 0.95"/>
<line x1="737.5" y1="81" x2="737.5" y2="636" stroke-opacity="0.3" stroke-dasharray="1.1 0.95"/>
<line x1="818.5" y1="81" x2="818.5" y2="636" stroke-opacity="0.3" stroke-dasharray="1.1 0.95"/>
<line x1="898.5" y1="81" x2="898.5" y2="636" stroke-opacity="0.3" stroke-dasharray="1.1 0.95"/>
<line x1="979.5" y1="81" x2="979.5" y2="636" stroke-opacity="0.3" stroke-dasharray="1.1 0.95"/>
<line x1="93" y1="170.5" x2="1036" y2="170.5" stroke-opacity="0.52" stroke-dasharray="1 1.05"/>
<line x1="93" y1="253.5" x2="1036" y2="253.5" stroke-opacity="0.52" stroke-dasharray="1 1.05"/>
<line x1="93" y1="334.5" x2="1036" y2="334.5" stroke-opacity="0.52" stroke-dasharray="1 1.05"/>
<line x1="93" y1="415.5" x2="1036" y2="415.5" stroke-opacity="0.52" stroke-dasharray="1 1.05"/>
<line x1="93" y1="499.5" x2="1036" y2="499.5" stroke-opacity="0.52" stroke-dasharray="1 1.05"/>
<line x1="93" y1="588.5" x2="1036" y2="588.5" stroke-opacity="0.52" stroke-dasharray="1 1.05"/>
</g>
<g clip-path="url(#mc)" fill="none" stroke="#000">
<path d="M105.2,123.9 L106.9,124.7 L108.4,125.8 L108.6,127.5 L107.9,129.0 L108.3,130.7 L107.7,132.3 L107.0,133.9 L106.6,135.6 L106.3,137.3 L105.2,138.7 L104.5,140.3 L104.4,142.1 L103.3,143.6 L102.6,145.2 L102.4,147.1 L101.7,148.8 L100.6,150.3 L100.1,151.9 L99.4,153.5 L98.0,152.3 L97.0,150.4 L95.5,149.0 L94.5,147.4 L94.1,145.7 L93.8,143.9 L93.9,142.2 L94.3,140.4 L93.8,138.7 L94.5,137.1 L94.8,135.5 L96.0,134.1 L96.1,132.3 L96.7,130.7 L98.4,129.9 L98.8,128.2 L100.0,127.0 L101.4,125.4 L103.2,124.5Z" stroke-width="1.4" stroke-linejoin="round" stroke-linecap="round"/>
<path d="M93.5,111.5 L95.0,109.0 L94.5,107.5 L96.5,106.5 L97.5,104.0 L97.0,102.5 L99.0,101.5 L100.0,99.0 L101.5,98.5 L101.0,96.5 L103.0,96.0 L104.0,93.5 L103.5,92.0 L105.5,91.5 L106.0,89.0 L107.5,88.5 L107.5,86.0 L109.0,85.5 L110.0,83.5 L111.5,83.0 L112.0,81.0" stroke-width="2.2" stroke-linejoin="round" stroke-linecap="round"/>
<path d="M98.0,100.0 L100.0,97.5" stroke-width="1.5" stroke-linejoin="round" stroke-linecap="round"/>
<path d="M104.5,90.0 L106.5,87.0" stroke-width="1.5" stroke-linejoin="round" stroke-linecap="round"/>
<path d="M101.0,95.0 L102.5,93.0" stroke-width="1.3" stroke-linejoin="round" stroke-linecap="round"/>
<path d="M172.0,82.0 L171.5,83.5" stroke-width="1.3" stroke-linejoin="round" stroke-linecap="round"/>
<path d="M170.2,93.8 L168.8,96.0 L167.2,98.5 L166.5,99.0" stroke-width="2.4" stroke-linejoin="round" stroke-linecap="round"/>
<path d="M163.5,103.5 L162.5,105.0" stroke-width="1.6" stroke-linejoin="round" stroke-linecap="round"/>
<path d="M159.5,107.0 L158.5,108.5" stroke-width="1.6" stroke-linejoin="round" stroke-linecap="round"/>
<path d="M156.5,110.5 L155.5,113.0 L154.8,115.8" stroke-width="2.2" stroke-linejoin="round" stroke-linecap="round"/>
<path d="M152.5,115.2 L151.5,116.0" stroke-width="1.6" stroke-linejoin="round" stroke-linecap="round"/>
<path d="M148.0,114.0 L147.0,114.5" stroke-width="1.4" stroke-linejoin="round" stroke-linecap="round"/>
<path d="M136.0,127.3 L135.0,128.3" stroke-width="2" stroke-linejoin="round" stroke-linecap="round"/>
<path d="M131.5,129.3 L130.5,130.0" stroke-width="1.4" stroke-linejoin="round" stroke-linecap="round"/>
<path d="M127.0,130.7 L125.0,132.0 L123.0,133.8" stroke-width="2" stroke-linejoin="round" stroke-linecap="round"/>
<path d="M117.0,131.0 L116.5,131.6" stroke-width="1.3" stroke-linejoin="round" stroke-linecap="round"/>
<path d="M122.0,118.5 L121.5,119.2" stroke-width="1.1" stroke-linejoin="round" stroke-linecap="round"/>
<path d="M167.0,113.0 L166.7,113.6" stroke-width="1.1" stroke-linejoin="round" stroke-linecap="round"/>
<path d="M183.5,118.5 L183.2,119.0" stroke-width="1.1" stroke-linejoin="round" stroke-linecap="round"/>
<path d="M183.0,146.0 L182.8,146.5" stroke-width="1" stroke-linejoin="round" stroke-linecap="round"/>
<path d="M104.5,174.0 L105.1,174.6" stroke-width="1.3" stroke-linejoin="round" stroke-linecap="round"/>
<path d="M108.5,173.0 L109.1,173.6" stroke-width="1.3" stroke-linejoin="round" stroke-linecap="round"/>
<path d="M108.0,178.5 L108.6,179.1" stroke-width="1.3" stroke-linejoin="round" stroke-linecap="round"/>
<path d="M103.0,180.0 L103.6,180.6" stroke-width="1.3" stroke-linejoin="round" stroke-linecap="round"/>
<path d="M101.0,166.0 L101.6,166.6" stroke-width="1.3" stroke-linejoin="round" stroke-linecap="round"/>
<path d="M100.5,161.0 L101.1,161.6" stroke-width="1.3" stroke-linejoin="round" stroke-linecap="round"/>
<path d="M99.0,157.5 L99.6,158.1" stroke-width="1.3" stroke-linejoin="round" stroke-linecap="round"/>
<path d="M108.0,168.0 L108.6,168.6" stroke-width="1.3" stroke-linejoin="round" stroke-linecap="round"/>
<path d="M93.0,204.0 L93.4,202.3 L94.5,201.0 L94.8,198.9 L95.8,197.1 L96.0,195.0 L95.5,193.0 L95.8,191.0 L95.5,189.0 L96.1,187.2 L96.2,185.3 L96.8,183.5 L98.7,182.5 L100.5,181.5 L102.2,181.2 L103.9,181.4 L105.5,182.0 L107.2,181.8 L108.8,182.5 L110.5,182.5 L111.2,184.2 L111.8,186.0 L111.7,187.7 L111.2,189.3 L111.0,191.0 L112.0,193.0 L113.0,195.0 L113.2,197.0 L113.0,199.0 L111.5,200.6 L110.5,202.5 L108.5,203.6 L106.8,205.0 L106.4,207.0 L105.5,208.8 L106.1,210.7 L106.8,212.5 L108.4,213.0 L110.0,213.5 L110.7,215.0 L112.0,216.0 L113.4,217.0 L115.0,217.5 L118.0,218.5 L119.8,218.8 L121.5,219.5 L123.2,220.3 L125.0,220.0 L128.0,221.0 L127.0,223.5 L124.5,222.5 L121.5,221.5 L118.5,222.0 L117.5,223.5 L116.0,224.5 L113.5,223.0 L112.3,224.1 L111.0,225.0 L108.5,223.5 L107.1,224.3 L106.0,225.5 L104.2,224.3 L103.0,222.5 L101.5,221.5 L100.0,220.5 L98.3,219.0 L97.5,217.0 L96.4,215.6 L95.0,214.5 L93.0,213.0" stroke-width="1.0" stroke-linejoin="round" stroke-linecap="round"/>
<path d="M108.0,213.0 L109.5,211.5 L111.5,213.5 L110.0,215.0Z" stroke-width="1.2" stroke-linejoin="round" stroke-linecap="round"/>
<path d="M105.2,205.0 L105.8,206.9 L104.2,209.4 L104.5,211.0 L105.2,212.5 L106.4,215.0 L107.4,216.9 L108.6,218.4" stroke-width="1.0" stroke-linejoin="round" stroke-linecap="round"/>
<path d="M107.4,212.5 L109.9,213.4 L111.8,214.7 L108.6,215.6 L107.4,217.2 L109.9,218.4 L113.0,218.1 L116.1,216.9 L117.4,218.4 L119.2,220.0 L122.4,220.6 L124.9,220.9" stroke-width="2.0" stroke-linejoin="round" stroke-linecap="round"/>
<path d="M125.2,222.0 L126.1,220.3 L128.0,220.2 L129.1,221.6 L128.6,223.4 L127.1,223.9 L125.6,223.2Z" stroke-width="1.5" stroke-linejoin="round" stroke-linecap="round"/>
<path d="M93.0,210.9 L94.9,213.1 L96.8,214.4 L98.6,214.4 L100.5,215.3 L102.4,216.9 L103.9,217.5 L103.0,219.1 L100.5,219.4 L98.6,220.6 L99.9,222.5 L101.8,223.8 L103.0,225.6 L104.9,227.5 L106.4,229.4" stroke-width="1.5" stroke-linejoin="round" stroke-linecap="round"/>
<path d="M96.8,215.6 L99.2,215.0 L101.1,216.6 L100.5,218.4 L98.3,219.1 L97.1,217.5Z" stroke-width="1.3" stroke-linejoin="round" stroke-linecap="round"/>
<path d="M93.0,221.2 L94.2,222.6 L95.5,223.8 L97.4,226.2 L98.0,228.0 L99.2,229.4 L100.4,230.8 L101.1,232.5 L103.0,235.0 L104.9,237.5 L105.5,234.4 L105.2,232.8 L104.6,231.2 L105.2,228.8 L103.6,226.2 L101.8,224.4 L99.2,223.1 L96.8,221.9" stroke-width="1.2" stroke-linejoin="round" stroke-linecap="round"/>
<path d="M93.0,235.6 L94.9,236.2 L95.2,238.1 L93.6,239.4 L93.0,239.4" stroke-width="3.5" stroke-linejoin="round" stroke-linecap="round"/>
<path d="M98.9,241.9 L100.2,243.1" stroke-width="1.4" stroke-linejoin="round" stroke-linecap="round"/>
<path d="M99.6,243.8 L101.1,245.0" stroke-width="1.4" stroke-linejoin="round" stroke-linecap="round"/>
<path d="M100.5,245.6 L102.1,246.6" stroke-width="1.4" stroke-linejoin="round" stroke-linecap="round"/>
<path d="M94.2,248.1 L95.2,248.4" stroke-width="1.2" stroke-linejoin="round" stroke-linecap="round"/>
<path d="M107.4,224.4 L108.9,223.8 L109.9,225.6 L108.6,227.5 L107.4,226.6Z" stroke-width="1.3" stroke-linejoin="round" stroke-linecap="round"/>
<path d="M108.6,218.4 L110.1,219.6 L111.8,220.6 L113.0,221.9 L114.2,223.1 L115.5,224.4 L116.8,225.6 L117.8,227.0 L119.2,228.1 L121.4,230.0" stroke-width="1.6" stroke-linejoin="round" stroke-linecap="round"/>
<path d="M116.1,226.2 L118.0,225.6 L119.4,226.5 L121.1,226.9 L122.7,227.8 L124.2,228.8 L126.1,231.2 L124.2,232.5 L121.8,231.2 L119.2,229.4 L117.1,227.8Z" stroke-width="1.6" stroke-linejoin="round" stroke-linecap="round"/>
<path d="M108.3,231.9 L111.1,232.8 L112.6,233.6 L114.2,234.1 L113.6,235.0 L111.1,234.4 L108.9,235.0 L108.3,237.5 L108.6,240.6 L111.8,240.0 L113.5,240.0 L114.9,240.9 L118.0,240.6 L119.9,240.6 L118.0,242.5 L116.6,243.6 L115.5,245.0 L113.6,247.5 L111.1,248.1 L108.6,249.7 L108.5,247.9 L108.0,246.2 L108.7,244.4 L108.3,242.5 L108.3,240.6 L107.7,238.8 L107.6,237.0 L107.9,235.3 L108.3,233.6Z" stroke-width="1.4" stroke-linejoin="round" stroke-linecap="round"/>
<path d="M108.6,231.2 L109.2,233.8" stroke-width="2.0" stroke-linejoin="round" stroke-linecap="round"/>
<path d="M111.8,232.5 L114.6,234.4" stroke-width="2.0" stroke-linejoin="round" stroke-linecap="round"/>
<path d="M125.5,233.1 L128.0,231.9 L131.1,231.6 L133.6,231.9 L135.2,232.8 L136.1,234.4 L136.8,235.9 L137.4,237.5 L138.2,239.0 L138.3,240.6 L139.3,242.0 L139.6,243.8 L140.5,245.2 L140.5,246.9 L138.6,248.1 L136.8,245.6 L136.1,243.9 L134.9,242.5 L133.0,240.0 L130.5,238.1 L128.0,236.9 L126.1,235.0Z" stroke-width="1.5" stroke-linejoin="round" stroke-linecap="round"/>
<path d="M126.8,236.2 L128.6,238.1 L130.5,240.6 L131.5,242.0 L131.8,243.8 L132.6,245.2 L133.0,246.9 L133.6,250.0 L134.9,252.5 L136.1,255.0 L134.2,254.4 L133.2,252.9 L132.4,251.2 L131.8,249.5 L130.5,248.1 L129.2,246.8 L128.6,245.0 L127.9,243.1 L127.4,241.2 L127.0,239.7 L126.4,238.1Z" stroke-width="1.5" stroke-linejoin="round" stroke-linecap="round"/>
<path d="M122.4,242.5 L124.2,243.8 L124.8,245.5 L126.1,246.9 L126.7,248.9 L128.0,250.6 L128.6,252.7 L129.9,254.4 L128.6,255.0 L127.5,253.6 L126.8,251.9 L125.7,250.0 L124.9,248.1 L123.8,246.6 L123.0,245.0Z" stroke-width="1.3" stroke-linejoin="round" stroke-linecap="round"/>
<path d="M116.8,245.0 L119.2,243.8 L121.1,245.0 L121.4,246.7 L122.4,248.1 L121.7,250.0 L122.1,251.9 L121.6,253.6 L120.5,255.0 L119.2,257.5 L118.0,260.0 L116.8,261.2 L115.5,258.8 L114.8,256.9 L114.9,255.0 L114.6,253.1 L115.0,251.2 L115.6,248.1 L115.9,246.5Z" stroke-width="1.3" stroke-linejoin="round" stroke-linecap="round"/>
<path d="M130.5,252.5 L133.0,253.1 L133.9,255.0 L133.0,256.9 L130.8,256.6 L129.9,254.7Z" stroke-width="1.2" stroke-linejoin="round" stroke-linecap="round"/>
<path d="M128.0,232.5 L130.5,233.1 L129.2,234.4" stroke-width="2.0" stroke-linejoin="round" stroke-linecap="round"/>
<path d="M120.5,232.5 L122.4,234.4 L124.2,236.2 L125.5,238.8" stroke-width="2.0" stroke-linejoin="round" stroke-linecap="round"/>
<path d="M118.0,233.8 L118.6,237.5" stroke-width="2.0" stroke-linejoin="round" stroke-linecap="round"/>
<path d="M114.2,248.1 L116.1,248.8 L115.5,250.6 L113.9,250.0Z" stroke-width="1.2" stroke-linejoin="round" stroke-linecap="round"/>
<path d="M136.8,248.8 L137.7,251.2 L138.3,254.4" stroke-width="2.2" stroke-linejoin="round" stroke-linecap="round"/>
<path d="M139.6,246.2 L141.1,247.5" stroke-width="1.5" stroke-linejoin="round" stroke-linecap="round"/>
<path d="M129.9,255.0 L130.5,256.6 L131.1,258.1 L131.5,259.7 L132.1,261.2 L131.4,261.9 L130.2,259.4 L128.9,256.9" stroke-width="1.3" stroke-linejoin="round" stroke-linecap="round"/>
<path d="M121.1,240.0 L123.0,241.9" stroke-width="1.8" stroke-linejoin="round" stroke-linecap="round"/>
<path d="M119.2,223.8 L120.5,225.0" stroke-width="1.6" stroke-linejoin="round" stroke-linecap="round"/>
<path d="M111.8,223.1 L113.6,225.0" stroke-width="1.6" stroke-linejoin="round" stroke-linecap="round"/>
<path d="M122.4,260.0 L124.2,259.4 L124.9,260.9 L123.0,261.6Z" stroke-width="1.2" stroke-linejoin="round" stroke-linecap="round"/>
<path d="M93.0,290.0 L94.8,288.5 L96.8,287.5 L97.6,285.9 L99.2,285.0 L100.5,283.8 L102.1,282.7 L103.9,282.0 L105.5,281.0 L107.2,279.5 L108.0,277.5 L109.0,275.9 L109.7,274.2 L110.5,272.5 L111.8,271.3 L113.0,270.0 L114.4,269.2 L115.2,267.6 L117.0,267.3 L118.0,266.0 L120.0,265.8 L121.8,265.0 L122.3,267.1 L123.6,268.8 L126.0,270.6 L127.3,269.0 L128.0,267.0 L129.2,265.3 L130.5,263.8 L132.2,262.3 L134.0,261.0 L135.8,259.5 L138.0,258.8 L139.6,258.3 L141.0,257.5 L142.4,258.8 L143.0,260.6 L144.0,262.7 L144.0,265.0 L144.8,266.9 L145.4,268.9 L145.5,271.0 L145.8,272.6 L146.3,274.3 L146.0,276.0 L145.8,277.9 L145.0,279.5 L144.0,281.0 L142.4,282.5 L141.7,280.7 L141.8,278.8 L140.3,277.5 L139.0,276.0 L138.7,278.2 L137.4,280.0 L137.4,281.8 L138.1,283.4 L138.6,285.0 L138.1,287.3 L136.8,289.4 L135.2,288.7 L134.0,287.5 L132.2,286.9 L130.5,286.0 L128.9,285.0 L127.4,283.8 L125.8,282.1 L125.0,280.0 L125.6,278.0 L125.5,276.0 L123.6,273.8 L122.3,272.6 L120.5,272.5 L118.0,273.8 L115.5,273.0 L113.7,274.0 L111.8,275.0 L110.4,276.9 L109.0,278.8 L108.2,280.3 L107.0,281.6 L105.5,282.5 L104.4,283.8 L103.2,285.0 L101.8,286.0 L100.3,286.9 L99.5,288.5 L98.0,289.4 L97.0,291.0 L95.0,291.4 L94.0,293.0 L93.0,293.8" stroke-width="1.0" stroke-linejoin="round" stroke-linecap="round"/>
<path d="M116.0,271.5 L117.5,271.0 L118.5,272.0" stroke-width="1.6" stroke-linejoin="round" stroke-linecap="round"/>
<path d="M95.0,290.5 L97.0,288.5" stroke-width="1.8" stroke-linejoin="round" stroke-linecap="round"/>
<path d="M137.0,291.0 L137.3,292.0" stroke-width="1.2" stroke-linejoin="round" stroke-linecap="round"/>
<path d="M137.3,296.0 L137.6,297.0" stroke-width="1.2" stroke-linejoin="round" stroke-linecap="round"/>
<path d="M136.6,299.5 L136.9,300.5" stroke-width="1.2" stroke-linejoin="round" stroke-linecap="round"/>
<path d="M137.0,303.5 L137.3,304.5" stroke-width="1.2" stroke-linejoin="round" stroke-linecap="round"/>
<path d="M136.3,307.0 L136.6,308.0" stroke-width="1.2" stroke-linejoin="round" stroke-linecap="round"/>
<path d="M136.6,311.0 L136.9,312.0" stroke-width="1.2" stroke-linejoin="round" stroke-linecap="round"/>
<path d="M136.0,315.0 L136.3,316.0" stroke-width="1.2" stroke-linejoin="round" stroke-linecap="round"/>
<path d="M135.6,318.5 L135.9,319.5" stroke-width="1.2" stroke-linejoin="round" stroke-linecap="round"/>
<path d="M93.0,268.0 L95.0,270.0 L94.0,273.0 L93.0,274.0" stroke-width="1.0" stroke-linejoin="round" stroke-linecap="round"/>
<path d="M93.0,327.5 L94.7,327.0 L96.2,326.1 L98.0,326.0 L100.5,324.4 L102.2,324.6 L103.9,324.3 L105.5,325.0 L107.6,325.4 L109.6,326.2 L111.8,326.0 L113.8,326.7 L115.9,326.9 L118.0,327.0 L120.0,326.4 L122.0,326.2 L124.0,326.0 L125.5,324.9 L127.5,324.8 L129.0,323.8 L130.4,322.9 L131.8,322.2 L133.0,321.0 L135.5,320.0 L135.0,323.0 L133.5,324.6 L131.8,326.0 L130.1,327.6 L128.0,328.8 L126.2,329.1 L124.5,329.5 L123.0,330.6 L121.2,330.7 L119.6,331.2 L118.0,332.0 L116.0,331.2 L113.9,330.8 L111.8,330.6 L110.2,330.6 L108.7,330.0 L107.0,329.9 L105.5,329.4 L103.8,329.9 L102.2,329.9 L100.5,329.4 L98.7,330.2 L96.8,330.6 L95.3,332.0 L93.5,333.0 L93.8,335.1 L94.5,337.0 L95.4,338.6 L97.0,339.5 L98.5,340.2 L100.0,341.0 L102.2,340.7 L104.0,339.5 L106.2,339.0 L108.0,337.5 L109.6,338.7 L111.5,339.0 L113.1,340.1 L114.5,341.5 L116.0,342.5 L117.0,344.0 L116.0,347.0 L117.7,347.7 L119.0,349.0 L120.6,348.5 L122.3,348.3 L124.0,348.5 L126.0,348.8 L128.0,349.3 L130.0,349.0 L131.8,349.4 L133.5,349.0 L135.2,349.2 L137.0,349.0 L138.6,349.4 L140.2,348.7 L141.8,349.5 L143.4,349.8 L145.0,349.5 L143.2,349.7 L141.6,350.2 L140.0,351.0 L140.5,353.0 L141.0,355.0 L139.3,354.3 L138.0,353.0 L136.1,352.4 L134.0,352.5 L132.0,352.0 L130.0,351.7 L128.0,351.5 L126.0,352.0 L124.3,351.9 L122.7,351.8 L121.0,351.5 L119.2,350.1 L117.0,349.5 L115.1,348.0 L113.0,347.0 L111.2,346.8 L109.5,346.0 L108.0,347.4 L106.0,348.0 L105.0,349.7 L103.5,351.0 L103.6,352.8 L104.2,354.4 L105.0,356.0 L106.5,357.4 L107.0,359.5 L108.5,361.0 L109.0,362.9 L110.4,364.4 L111.5,366.0 L113.1,367.4 L114.5,369.0 L115.5,371.0 L116.5,373.0 L116.1,375.1 L115.0,377.0 L113.4,376.1 L112.5,374.5 L110.5,376.5 L109.3,378.6 L109.0,381.0 L110.5,379.0 L113.5,379.5 L116.0,378.5 L116.9,376.3 L117.5,374.0 L117.6,375.7 L117.4,377.4 L118.0,379.0 L117.1,381.0 L116.0,383.0 L114.3,383.4 L113.0,384.5 L112.0,383.0 L110.5,382.0 L109.5,383.7 L108.0,385.0 L107.6,383.4 L107.4,381.7 L107.5,380.0 L107.6,378.3 L108.3,376.7 L108.5,375.0 L107.7,373.4 L107.4,371.7 L107.0,370.0 L105.7,368.9 L105.4,367.1 L104.0,366.0 L102.9,364.6 L102.0,363.0 L101.0,361.5 L100.3,359.2 L99.5,357.0 L99.1,355.3 L98.0,354.0 L97.3,355.5 L96.5,357.0 L95.9,358.6 L96.2,360.3 L96.0,362.0 L96.1,364.0 L96.3,366.0 L96.5,368.0 L96.7,370.1 L95.9,372.0 L95.5,374.0 L96.0,376.0 L96.4,378.0 L96.0,380.0 L96.0,382.1 L97.0,383.9 L97.0,386.0" stroke-width="1.0" stroke-linejoin="round" stroke-linecap="round"/>
<path d="M112.0,372.0 L115.0,371.0 L116.3,372.0 L117.5,373.0 L116.8,374.7 L116.5,376.5 L114.7,376.7 L113.0,377.0 L111.0,375.0Z" stroke-width="1.3" stroke-linejoin="round" stroke-linecap="round"/>
<path d="M110.0,378.0 L111.8,377.9 L113.5,378.0 L114.7,379.0 L116.0,380.0 L115.0,381.5 L114.0,383.0 L111.0,382.5 L110.7,380.2Z" stroke-width="1.3" stroke-linejoin="round" stroke-linecap="round"/>
<path d="M105.5,337.0 L108.0,335.5 L109.0,337.5" stroke-width="1.5" stroke-linejoin="round" stroke-linecap="round"/>
<path d="M116.5,340.0 L118.5,342.0 L119.5,343.4 L120.0,345.0 L121.0,346.5 L122.0,348.0" stroke-width="1.6" stroke-linejoin="round" stroke-linecap="round"/>
<path d="M143.0,343.0 L144.7,343.3 L146.4,343.9 L148.0,344.5 L149.4,345.4 L151.0,346.0 L149.0,346.5 L147.0,347.0 L145.3,346.2 L143.5,345.5Z" stroke-width="1.0" stroke-linejoin="round" stroke-linecap="round"/>
<path d="M155.0,348.0 L156.7,347.8 L158.5,347.4 L160.0,346.5 L161.7,346.6 L163.3,347.0 L165.0,347.0 L166.7,347.2 L168.3,347.3 L170.0,347.5 L167.9,348.1 L166.0,349.0 L164.0,349.2 L162.0,349.3 L160.0,349.5 L158.3,349.0 L156.8,348.0Z" stroke-width="1.0" stroke-linejoin="round" stroke-linecap="round"/>
<path d="M155.5,316.0 L157.4,315.1 L159.0,313.8 L160.7,314.2 L162.4,313.8 L161.2,315.5 L161.0,317.5 L159.7,319.4 L158.0,321.0 L157.1,322.6 L155.9,324.1 L155.5,326.0 L154.4,327.9 L154.0,330.0 L155.9,329.0 L158.0,328.8 L158.7,327.3 L160.0,326.2 L161.0,325.0 L161.6,323.5 L163.0,322.5 L163.8,324.2 L164.0,326.0 L163.2,327.6 L161.5,328.5 L160.5,330.0 L159.0,331.3 L158.0,333.0 L159.6,333.7 L161.4,333.2 L163.0,333.8 L164.8,335.1 L166.8,336.0 L164.8,336.6 L163.0,337.5 L161.2,337.4 L159.8,336.1 L158.0,336.0 L156.4,336.5 L155.5,338.1 L154.0,338.8 L152.6,340.1 L152.0,342.0 L153.5,344.0" stroke-width="1.0" stroke-linejoin="round" stroke-linecap="round"/>
<path d="M146.0,296.0 L147.5,298.0 L147.3,300.0 L147.0,302.0 L148.5,303.5" stroke-width="1.4" stroke-linejoin="round" stroke-linecap="round"/>
<path d="M168.0,334.0 L172.0,333.0 L176.0,334.5 L180.0,336.0 L177.0,338.0 L172.0,337.0 L169.0,338.5" stroke-width="1.8" stroke-linejoin="round" stroke-linecap="round"/>
<path d="M176.0,338.0 L179.0,339.0 L182.0,338.0" stroke-width="1.6" stroke-linejoin="round" stroke-linecap="round"/>
<path d="M152.0,348.0 L154.0,347.0 L156.0,346.0 L157.1,347.3 L158.5,348.2 L160.0,349.0 L158.5,350.2 L156.7,351.0 L155.0,352.0 L153.0,351.5 L151.0,351.0Z" stroke-width="1.0" stroke-linejoin="round" stroke-linecap="round"/>
<path d="M143.0,358.0 L145.0,357.4 L146.9,356.8 L149.0,356.5 L150.6,357.7 L152.0,359.0 L150.4,360.4 L149.0,362.0 L147.3,362.0 L145.7,361.3 L144.0,361.0Z" stroke-width="1.0" stroke-linejoin="round" stroke-linecap="round"/>
<path d="M154.5,360.0 L156.3,359.1 L157.9,357.9 L160.0,357.5 L162.0,357.1 L164.0,357.3 L166.0,357.0 L168.0,357.3 L170.1,357.2 L172.0,358.0 L173.8,359.2 L175.9,359.6 L178.0,360.0 L175.8,360.5 L174.0,362.0 L172.0,362.3 L170.0,361.9 L168.0,361.5 L166.1,362.3 L163.9,361.9 L162.0,362.5 L160.4,363.1 L158.7,363.6 L157.0,363.5 L155.7,361.8Z" stroke-width="1.0" stroke-linejoin="round" stroke-linecap="round"/>
<path d="M158.5,363.0 L161.0,365.0 L164.0,364.0" stroke-width="1.5" stroke-linejoin="round" stroke-linecap="round"/>
<path d="M182.5,343.8 L184.0,342.8 L185.1,341.5 L186.0,340.0 L187.5,338.9 L189.2,338.0 L191.0,337.5 L192.6,338.1 L194.3,337.9 L196.0,338.0 L197.6,338.7 L199.5,338.5 L201.0,339.4 L203.2,339.7 L205.0,341.0 L205.8,343.1 L206.9,345.0 L207.2,346.7 L207.8,348.3 L207.5,350.0 L205.6,352.5 L203.2,352.3 L201.0,353.0 L199.3,352.6 L197.5,352.5 L195.5,353.5 L193.8,355.0 L192.3,355.9 L190.6,356.0 L190.0,353.8 L189.8,351.8 L188.8,350.0 L187.2,349.0 L186.6,347.1 L185.0,346.0 L183.7,344.9Z" stroke-width="1.0" stroke-linejoin="round" stroke-linecap="round"/>
<path d="M193.8,356.0 L195.1,357.9 L196.0,360.0 L196.7,361.9 L197.5,363.8 L198.4,365.3 L200.0,366.0 L200.3,364.2 L201.0,362.5 L202.1,360.4 L203.8,358.8 L203.5,360.5 L203.6,362.2 L203.0,363.8 L204.8,364.6 L206.0,366.0 L207.8,366.4 L209.4,366.9 L211.0,367.8 L212.5,368.8 L214.1,368.9 L215.7,369.2 L217.2,370.0 L218.8,370.0 L220.4,370.3 L221.9,371.0 L223.6,371.2 L225.0,372.0 L226.6,372.6 L228.2,373.0 L229.6,374.0 L231.0,375.0 L232.9,375.5 L234.2,377.2 L236.0,378.0 L237.3,379.0 L238.9,379.7 L240.0,381.0 L240.5,383.0 L241.0,385.0 L242.0,387.2 L243.8,388.8 L245.3,390.4 L246.0,392.5 L246.0,395.0 L245.0,398.0 L245.0,401.0 L246.9,401.3 L248.7,400.7 L250.6,400.7 L252.5,400.6 L255.0,402.5 L256.0,403.9 L257.6,404.7 L258.8,406.0 L260.6,407.4 L262.5,408.8 L264.4,409.0 L266.2,409.3 L268.1,408.6 L270.0,408.8 L271.8,408.2 L273.4,407.1 L275.0,406.0 L276.7,405.4 L278.3,404.4 L280.0,403.8 L281.6,402.4 L283.0,400.9 L285.0,400.0 L285.5,398.3 L286.3,396.8 L287.5,395.6 L289.3,395.6 L291.0,395.0 L293.1,395.2 L295.0,396.0 L296.8,396.6 L298.6,397.5 L300.0,398.8 L301.7,400.2 L303.8,401.0 L304.5,403.2 L306.0,405.0 L306.9,406.4 L308.2,407.4 L309.2,408.6 L310.0,410.0 L311.4,411.1 L312.6,412.5 L313.8,413.8 L315.8,414.6 L317.5,416.0 L319.2,415.9 L320.8,415.7 L322.5,416.0 L324.0,417.0 L325.7,417.5 L327.5,417.5 L329.2,418.0 L330.9,418.1 L332.5,418.8 L334.0,419.7 L335.9,419.4 L337.5,420.0 L339.2,419.8 L340.8,419.5 L342.5,420.0 L343.7,418.9 L345.0,418.0 L343.8,416.0 L341.0,415.0 L339.2,415.0 L337.5,415.0 L336.3,413.7 L335.0,412.5 L333.5,411.5 L332.5,410.0 L330.7,409.0 L328.8,408.0 L326.8,408.3 L325.0,407.5 L323.6,406.4 L322.5,405.0 L320.9,403.2 L320.0,401.0 L318.6,399.9 L317.0,399.0 L316.0,397.5 L313.9,396.7 L312.5,395.0 L311.1,393.1 L310.0,391.0 L312.5,389.4 L314.1,388.5 L315.9,388.2 L317.5,387.5 L316.8,385.6 L316.0,383.8 L314.6,382.9 L313.1,382.2 L311.6,381.5 L310.0,381.0 L308.6,380.1 L306.9,380.0 L305.3,379.5 L303.8,378.8 L302.6,377.0 L300.6,376.0 L300.4,374.0 L301.0,372.0 L299.5,370.7 L297.8,369.7 L296.0,368.8 L294.1,368.3 L292.8,366.6 L291.0,366.0 L289.7,364.9 L288.1,364.4 L286.6,363.5 L285.0,363.0 L283.2,362.1 L281.1,362.2 L279.4,361.2 L277.5,360.6 L275.6,359.9 L273.9,359.0 L272.0,358.3 L270.0,358.0 L268.2,357.1 L266.3,356.7 L264.5,355.8 L262.5,355.6 L260.7,355.1 L258.8,354.8 L256.8,355.0 L255.0,354.4 L253.3,354.2 L251.8,353.4 L250.4,352.5 L248.8,352.1 L247.5,351.0 L246.1,350.1 L244.5,349.7 L243.1,349.1 L241.6,348.5 L240.0,348.0 L238.4,347.5 L236.7,347.3 L235.0,347.0 L233.6,348.5 L231.5,348.7 L230.0,350.0 L228.2,350.6 L226.7,351.7 L225.0,352.5 L223.7,353.7 L222.5,355.0 L221.1,356.1 L220.4,357.9 L218.8,358.8 L216.8,359.7 L215.0,361.0 L213.6,360.1 L212.5,358.8 L210.9,357.2 L210.0,355.0 L208.9,353.4 L208.6,351.6 L207.5,350.0" stroke-width="1.0" stroke-linejoin="round" stroke-linecap="round"/>
<path d="M235.0,402.0 L235.5,400.3 L236.9,399.1 L237.5,397.5 L239.6,396.3 L241.0,394.4 L243.0,394.1 L245.0,393.8 L246.0,396.0 L245.6,398.0 L245.0,400.0 L243.0,401.3 L241.0,402.5 L239.0,402.1 L237.0,401.9Z" stroke-width="1.0" stroke-linejoin="round" stroke-linecap="round"/>
<path d="M262.0,408.0 L266.0,409.5 L270.0,408.0 L274.0,409.0 L278.0,407.0" stroke-width="2.2" stroke-linejoin="round" stroke-linecap="round"/>
<path d="M205.5,345.0 L203.0,348.0 L205.0,352.0" stroke-width="2.0" stroke-linejoin="round" stroke-linecap="round"/>
<path d="M209.0,349.0 L210.0,353.0 L211.5,357.0" stroke-width="1.8" stroke-linejoin="round" stroke-linecap="round"/>
<path d="M218.0,337.0 L219.6,337.7 L221.3,338.4 L223.0,339.0 L225.1,339.7 L227.0,341.0 L225.3,341.2 L223.7,341.2 L222.0,341.0 L220.1,339.8 L218.0,339.0Z" stroke-width="1.0" stroke-linejoin="round" stroke-linecap="round"/>
<path d="M215.0,343.0 L217.0,343.5 L219.0,344.4 L221.0,345.0 L223.1,345.0 L225.1,345.4 L227.0,346.0" stroke-width="1.6" stroke-linejoin="round" stroke-linecap="round"/>
<path d="M206.0,381.0 L208.0,383.5 L207.0,386.0 L209.0,389.5 L208.5,383.0Z" stroke-width="1.8" stroke-linejoin="round" stroke-linecap="round"/>
<path d="M185.0,393.0 L189.0,389.5 L191.5,388.0 L190.0,391.5 L187.0,395.5 L183.5,399.0" stroke-width="2.0" stroke-linejoin="round" stroke-linecap="round"/>
<path d="M175.5,401.0 L176.5,402.5" stroke-width="1.5" stroke-linejoin="round" stroke-linecap="round"/>
<path d="M196.0,375.0 L198.0,379.0 L197.0,381.0" stroke-width="1.8" stroke-linejoin="round" stroke-linecap="round"/>
<path d="M317.5,378.8 L319.3,379.2 L320.8,380.2 L322.5,380.6 L324.0,381.6 L325.6,382.4 L327.3,382.8 L328.8,383.8 L330.9,384.2 L332.9,384.6 L335.0,385.0 L337.0,384.6 L338.9,383.8 L341.0,383.8 L342.9,382.9 L344.1,381.0 L346.0,380.0 L348.3,379.2 L350.0,377.5 L351.6,375.9 L352.5,373.8 L353.4,372.0 L355.0,371.0 L356.9,371.5 L358.8,372.0 L359.7,370.1 L360.0,368.0 L358.0,365.6 L356.3,365.8 L355.0,367.0 L353.0,368.8 L350.0,368.0 L349.5,369.5 L348.8,371.0 L347.4,372.6 L345.6,373.8 L344.2,375.2 L342.5,376.0 L340.7,375.9 L339.2,377.0 L337.5,377.0 L335.7,376.2 L333.8,375.6 L331.9,376.2 L330.0,376.0 L328.3,376.6 L326.5,376.9 L325.0,378.0 L323.3,378.2 L321.7,377.3 L320.0,377.5Z" stroke-width="1.0" stroke-linejoin="round" stroke-linecap="round"/>
<path d="M335.0,355.0 L336.5,355.8 L337.8,356.9 L339.4,357.5 L341.0,358.0 L342.7,358.5 L344.1,359.9 L345.9,360.2 L347.5,361.0 L349.4,361.6 L350.9,362.5 L352.2,364.0 L353.8,365.0 L355.2,366.0 L356.7,366.8 L358.0,368.0 L359.1,369.3 L359.4,371.0 L358.1,369.9 L357.0,368.5 L355.2,367.5 L353.9,365.9 L352.0,365.0 L350.2,364.6 L349.1,363.0 L347.7,362.1 L346.0,361.5 L344.3,361.1 L343.2,359.6 L341.6,359.0 L340.0,358.5 L338.6,357.0 L336.5,356.4Z" stroke-width="1.0" stroke-linejoin="round" stroke-linecap="round"/>
<path d="M305.0,352.0 L307.0,351.7 L309.0,351.5 L312.0,352.5 L310.0,353.1 L308.0,353.5 L306.7,352.4Z" stroke-width="1.0" stroke-linejoin="round" stroke-linecap="round"/>
<path d="M301.0,375.0 L303.0,377.0 L302.0,379.5 L300.5,378.0Z" stroke-width="1.0" stroke-linejoin="round" stroke-linecap="round"/>
<path d="M371.9,376.0 L372.8,378.0 L373.8,380.0 L375.2,381.6 L376.3,383.3 L377.5,385.0 L378.9,386.3 L380.2,387.6 L381.0,389.4 L383.0,391.0 L382.0,392.5 L380.4,391.6 L379.4,390.0 L378.4,388.4 L376.7,387.5 L375.6,386.0 L374.9,384.4 L373.3,383.5 L372.5,382.0 L371.5,380.1 L371.0,378.0Z" stroke-width="1.0" stroke-linejoin="round" stroke-linecap="round"/>
<path d="M381.0,390.5 L383.0,392.0" stroke-width="2.4" stroke-linejoin="round" stroke-linecap="round"/>
<path d="M386.0,388.8 L388.0,389.7 L390.0,390.6 L391.8,391.2 L393.4,392.1 L395.0,393.0 L396.3,394.3 L398.0,395.0 L396.0,395.6 L394.1,394.5 L392.0,393.8 L390.8,392.7 L389.4,391.9 L388.0,391.0Z" stroke-width="1.0" stroke-linejoin="round" stroke-linecap="round"/>
<path d="M400.0,394.4 L401.5,395.7 L403.1,396.6 L405.0,397.0 L406.6,398.0 L408.2,399.2 L410.0,400.0 L412.2,400.8 L413.8,402.5 L412.0,403.0 L410.6,402.0 L409.0,401.4 L407.5,400.6 L406.0,399.3 L404.3,398.4 L402.5,397.5 L401.1,396.1Z" stroke-width="1.0" stroke-linejoin="round" stroke-linecap="round"/>
<path d="M387.0,397.0 L389.5,399.0 L388.5,401.0 L391.0,401.5 L393.0,403.0 L395.0,402.5 L397.0,404.0 L400.0,405.0" stroke-width="2.2" stroke-linejoin="round" stroke-linecap="round"/>
<path d="M389.0,396.5 L392.0,398.5 L394.0,400.5" stroke-width="1.4" stroke-linejoin="round" stroke-linecap="round"/>
<path d="M420.0,402.0 L421.7,403.3 L423.0,405.0 L423.6,406.6 L425.0,407.8 L425.6,409.4 L426.6,411.2 L427.5,413.0 L426.0,413.0 L424.8,411.3 L423.8,409.4 L422.3,407.6 L421.0,405.6 L420.7,403.8Z" stroke-width="1.0" stroke-linejoin="round" stroke-linecap="round"/>
<path d="M411.9,410.0 L414.0,409.7 L416.0,408.8 L417.8,409.7 L419.3,411.0 L421.0,412.0 L422.5,414.4 L420.8,414.7 L419.2,414.8 L417.5,415.0 L416.0,414.4 L414.4,413.9 L413.0,413.0Z" stroke-width="1.0" stroke-linejoin="round" stroke-linecap="round"/>
<path d="M427.0,417.5 L428.6,417.9 L430.0,418.8 L431.6,419.5 L433.0,420.6 L431.0,421.0 L428.0,420.0Z" stroke-width="1.0" stroke-linejoin="round" stroke-linecap="round"/>
<path d="M407.0,407.8 L408.5,408.3" stroke-width="1.8" stroke-linejoin="round" stroke-linecap="round"/>
<path d="M415.5,407.0 L416.5,407.5" stroke-width="1.4" stroke-linejoin="round" stroke-linecap="round"/>
<path d="M420.5,398.5 L421.0,399.0" stroke-width="1.2" stroke-linejoin="round" stroke-linecap="round"/>
<path d="M426.0,416.0 L427.0,416.5" stroke-width="1.2" stroke-linejoin="round" stroke-linecap="round"/>
<path d="M413.0,427.0 L413.6,427.4" stroke-width="1.2" stroke-linejoin="round" stroke-linecap="round"/>
<path d="M336.0,409.0 L339.0,408.0 L340.2,409.6 L342.0,410.5 L340.0,412.5 L342.0,412.7 L344.0,413.0 L343.0,416.0 L340.9,415.8 L339.0,415.0 L339.6,416.7 L341.0,418.0 L339.1,417.0 L337.0,417.0 L335.5,415.5 L334.0,414.0" stroke-width="1.3" stroke-linejoin="round" stroke-linecap="round"/>
<path d="M338.0,411.0 L341.0,413.0 L338.0,415.0" stroke-width="1.3" stroke-linejoin="round" stroke-linecap="round"/>
<path d="M341.5,402.5 L343.0,404.0" stroke-width="1.2" stroke-linejoin="round" stroke-linecap="round"/>
<path d="M345.0,403.5 L346.0,404.5" stroke-width="1.2" stroke-linejoin="round" stroke-linecap="round"/>
<path d="M354.0,407.0 L356.5,408.0 L358.5,408.5" stroke-width="1.8" stroke-linejoin="round" stroke-linecap="round"/>
<path d="M351.0,410.0 L351.5,410.5" stroke-width="1.2" stroke-linejoin="round" stroke-linecap="round"/>
<path d="M343.0,407.0 L343.5,407.6" stroke-width="1.1" stroke-linejoin="round" stroke-linecap="round"/>
<path d="M353.0,421.0 L356.0,422.0 L359.0,424.0" stroke-width="1.0" stroke-linejoin="round" stroke-linecap="round"/>
<path d="M360.0,424.5 L362.0,426.5 L364.0,428.0" stroke-width="1.6" stroke-linejoin="round" stroke-linecap="round"/>
<path d="M366.5,426.5 L368.0,427.0" stroke-width="1.8" stroke-linejoin="round" stroke-linecap="round"/>
<path d="M444.4,495.0 L445.7,496.0 L446.7,497.3 L447.5,498.8 L449.1,499.7 L450.1,501.2 L451.6,502.2 L452.5,503.8 L453.9,504.6 L455.2,505.7 L456.2,507.0 L457.5,508.0 L458.5,509.4 L459.8,510.5 L461.3,511.3 L462.5,512.5 L464.2,513.6 L465.8,514.9 L467.5,516.0 L469.3,517.3 L471.0,518.8 L470.0,520.0 L467.9,519.2 L466.0,518.0 L464.1,517.2 L462.5,515.8 L461.0,514.4 L460.1,512.9 L458.2,512.5 L457.3,511.1 L456.0,510.0 L454.8,508.8 L453.8,507.5 L452.0,506.9 L451.0,505.6 L449.5,504.2 L448.1,502.7 L447.0,501.0 L445.8,499.4 L444.8,497.7 L443.8,496.0Z" stroke-width="1.0" stroke-linejoin="round" stroke-linecap="round"/>
<path d="M470.0,518.5 L471.5,519.5" stroke-width="2.2" stroke-linejoin="round" stroke-linecap="round"/>
<path d="M447.5,500.0 L448.5,501.0" stroke-width="1.6" stroke-linejoin="round" stroke-linecap="round"/>
<path d="M471.8,507.3 L473.0,506.1 L474.2,507.3 L473.0,508.5Z" stroke-width="0.9" stroke-linejoin="round" stroke-linecap="round"/>
<path d="M475.5,509.5 L476.5,508.5 L477.5,509.5 L476.5,510.5Z" stroke-width="0.9" stroke-linejoin="round" stroke-linecap="round"/>
<path d="M478.2,512.0 L479.5,510.7 L480.8,512.0 L479.5,513.3Z" stroke-width="0.9" stroke-linejoin="round" stroke-linecap="round"/>
<path d="M466.7,504.0 L467.5,503.2 L468.3,504.0 L467.5,504.8Z" stroke-width="0.9" stroke-linejoin="round" stroke-linecap="round"/>
<path d="M468.0,455.0 L470.6,456.0 L471.3,458.1 L472.5,460.0 L472.9,462.3 L473.8,464.4 L472.0,462.5 L470.9,461.3 L469.4,460.6 L468.4,459.2 L468.0,457.5Z" stroke-width="1.0" stroke-linejoin="round" stroke-linecap="round"/>
<path d="M478.0,459.4 L480.0,461.0 L480.8,462.9 L481.0,465.0 L480.7,466.9 L480.6,468.8 L479.4,467.0 L479.7,465.0 L479.5,463.0" stroke-width="1.0" stroke-linejoin="round" stroke-linecap="round"/>
<path d="M474.0,464.0 L475.0,465.2 L476.0,466.5 L478.5,468.0 L477.0,469.5 L475.0,467.5 L474.6,465.7Z" stroke-width="1.0" stroke-linejoin="round" stroke-linecap="round"/>
<path d="M481.5,478.5 L483.5,478.0 L484.3,480.0 L482.3,480.8Z" stroke-width="1.0" stroke-linejoin="round" stroke-linecap="round"/>
<path d="M475.4,445.2 L475.9,446.0" stroke-width="1.2" stroke-linejoin="round" stroke-linecap="round"/>
<path d="M474.8,450.2 L475.3,451.0" stroke-width="1.2" stroke-linejoin="round" stroke-linecap="round"/>
<path d="M480.0,451.0 L480.4,451.6" stroke-width="1.0" stroke-linejoin="round" stroke-linecap="round"/>
<path d="M487.5,487.0 L488.8,488.0 L488.3,489.5 L487.0,488.5Z" stroke-width="0.9" stroke-linejoin="round" stroke-linecap="round"/>
<path d="M490.0,493.0 L491.3,493.8 L490.8,495.0Z" stroke-width="0.9" stroke-linejoin="round" stroke-linecap="round"/>
<path d="M493.5,500.3 L494.2,501.0" stroke-width="1.2" stroke-linejoin="round" stroke-linecap="round"/>
<path d="M476.0,470.0 L478.0,471.5" stroke-width="1.0" stroke-linejoin="round" stroke-linecap="round"/>
<path d="M480.0,473.0 L481.0,474.0" stroke-width="1.0" stroke-linejoin="round" stroke-linecap="round"/>
<path d="M553.8,476.0 L554.4,474.0 L556.0,472.5 L558.0,471.6 L560.0,471.0 L561.7,472.2 L563.8,472.5 L564.6,474.4 L566.0,476.0 L566.1,478.4 L566.9,480.6 L565.2,482.2 L564.4,484.4 L562.2,485.0 L560.0,485.0 L557.8,484.4 L556.0,483.0 L554.7,481.7 L554.0,480.0 L553.9,478.0Z" stroke-width="1.0" stroke-linejoin="round" stroke-linecap="round"/>
<path d="M551.0,473.0 L552.5,470.0 L555.0,468.0" stroke-width="1.0" stroke-linejoin="round" stroke-linecap="round"/>
<path d="M564.4,471.0 L568.8,468.8 L573.8,467.0 L577.5,466.0 L578.8,468.8 L576.0,471.0 L571.0,472.5 L567.0,473.0Z" stroke-width="1.8" stroke-linejoin="round" stroke-linecap="round"/>
<path d="M568.0,470.5 L570.0,469.9 L572.0,469.0 L574.1,468.8 L576.0,468.0" stroke-width="1.4" stroke-linejoin="round" stroke-linecap="round"/>
<path d="M560.0,492.0 L562.0,490.8 L564.4,490.0" stroke-width="1.6" stroke-linejoin="round" stroke-linecap="round"/>
<path d="M580.5,473.0 L581.0,473.5" stroke-width="1.2" stroke-linejoin="round" stroke-linecap="round"/>
<path d="M582.0,476.0 L582.5,476.5" stroke-width="1.2" stroke-linejoin="round" stroke-linecap="round"/>
<path d="M584.0,474.5 L584.5,475.0" stroke-width="1.2" stroke-linejoin="round" stroke-linecap="round"/>
<path d="M583.0,479.0 L583.5,479.5" stroke-width="1.2" stroke-linejoin="round" stroke-linecap="round"/>
<path d="M585.5,481.0 L586.0,481.5" stroke-width="1.2" stroke-linejoin="round" stroke-linecap="round"/>
<path d="M586.5,485.0 L587.0,485.5" stroke-width="1.2" stroke-linejoin="round" stroke-linecap="round"/>
<path d="M588.0,488.5 L588.5,489.0" stroke-width="1.2" stroke-linejoin="round" stroke-linecap="round"/>
<path d="M589.5,490.0 L590.0,490.5" stroke-width="1.2" stroke-linejoin="round" stroke-linecap="round"/>
<path d="M584.0,487.0 L584.5,487.5" stroke-width="1.2" stroke-linejoin="round" stroke-linecap="round"/>
<path d="M581.0,482.0 L581.5,482.5" stroke-width="1.2" stroke-linejoin="round" stroke-linecap="round"/>
<path d="M576.0,487.0 L576.5,487.5" stroke-width="1.2" stroke-linejoin="round" stroke-linecap="round"/>
<path d="M578.0,491.0 L578.5,491.5" stroke-width="1.2" stroke-linejoin="round" stroke-linecap="round"/>
<path d="M576.5,493.0 L577.0,493.5" stroke-width="1.2" stroke-linejoin="round" stroke-linecap="round"/>
<path d="M574.0,489.0 L574.5,489.5" stroke-width="1.2" stroke-linejoin="round" stroke-linecap="round"/>
<path d="M570.5,476.5 L571.0,477.0" stroke-width="1.2" stroke-linejoin="round" stroke-linecap="round"/>
<path d="M569.0,480.0 L569.5,480.5" stroke-width="1.2" stroke-linejoin="round" stroke-linecap="round"/>
<path d="M571.0,483.5 L571.5,484.0" stroke-width="1.2" stroke-linejoin="round" stroke-linecap="round"/>
<path d="M567.0,488.0 L567.5,488.5" stroke-width="1.2" stroke-linejoin="round" stroke-linecap="round"/>
<path d="M634.4,444.4 L637.0,445.0 L638.4,446.4 L640.0,447.5 L637.5,447.0 L636.0,445.6Z" stroke-width="0.9" stroke-linejoin="round" stroke-linecap="round"/>
<path d="M641.0,447.5 L644.0,448.0 L646.0,449.0 L643.0,449.2Z" stroke-width="0.9" stroke-linejoin="round" stroke-linecap="round"/>
<path d="M623.0,487.8 L623.6,488.2" stroke-width="1.2" stroke-linejoin="round" stroke-linecap="round"/>
<path d="M625.0,488.2 L625.6,488.6" stroke-width="1.2" stroke-linejoin="round" stroke-linecap="round"/>
<path d="M618.0,497.0 L618.6,497.4" stroke-width="1.2" stroke-linejoin="round" stroke-linecap="round"/>
<path d="M621.0,496.5 L621.6,496.9" stroke-width="1.2" stroke-linejoin="round" stroke-linecap="round"/>
<path d="M618.5,500.5 L619.1,500.9" stroke-width="1.2" stroke-linejoin="round" stroke-linecap="round"/>
<path d="M615.0,509.0 L615.6,509.4" stroke-width="1.2" stroke-linejoin="round" stroke-linecap="round"/>
<path d="M622.0,482.5 L622.6,482.9" stroke-width="1.2" stroke-linejoin="round" stroke-linecap="round"/>
<path d="M611.5,465.8 L612.1,466.2" stroke-width="1.2" stroke-linejoin="round" stroke-linecap="round"/>
<path d="M606.0,465.0 L606.6,465.4" stroke-width="1.2" stroke-linejoin="round" stroke-linecap="round"/>
<path d="M591.0,503.8 L591.6,504.2" stroke-width="1.2" stroke-linejoin="round" stroke-linecap="round"/>
<path d="M586.5,504.5 L587.1,504.9" stroke-width="1.2" stroke-linejoin="round" stroke-linecap="round"/>
<path d="M649.0,458.0 L649.6,458.4" stroke-width="1.2" stroke-linejoin="round" stroke-linecap="round"/>
<path d="M651.0,457.0 L651.6,457.4" stroke-width="1.2" stroke-linejoin="round" stroke-linecap="round"/>
<path d="M770.4,168.4 L772.5,168.3 L774.5,169.6 L777.0,171.0 L778.0,172.9 L779.5,174.4 L777.6,176.2 L776.1,176.9 L774.5,177.6 L772.6,180.0 L770.6,178.0 L770.2,175.5 L769.3,173.0 L769.6,170.5Z" stroke-width="0.9" stroke-linejoin="round" stroke-linecap="round"/>
<path d="M765.6,162.4 L768.5,162.0 L770.6,163.6 L769.0,165.3 L766.5,164.9Z" stroke-width="0.9" stroke-linejoin="round" stroke-linecap="round"/>
<path d="M759.4,159.9 L762.0,159.8 L764.8,160.7" stroke-width="1.5" stroke-linejoin="round" stroke-linecap="round"/>
<path d="M761.9,162.4 L764.0,163.6" stroke-width="1.6" stroke-linejoin="round" stroke-linecap="round"/>
<path d="M764.4,165.3 L766.0,165.7" stroke-width="1.5" stroke-linejoin="round" stroke-linecap="round"/>
<path d="M751.5,156.2 L753.6,155.3 L756.1,157.0 L756.5,159.0 L754.0,159.5 L752.0,157.8Z" stroke-width="0.9" stroke-linejoin="round" stroke-linecap="round"/>
<path d="M739.5,151.6 L742.0,150.6 L743.9,152.0 L743.4,154.0 L741.2,154.5 L739.5,153.3Z" stroke-width="0.9" stroke-linejoin="round" stroke-linecap="round"/>
<path d="M735.4,154.5 L737.0,152.9" stroke-width="1.6" stroke-linejoin="round" stroke-linecap="round"/>
<path d="M93.0,399.0 L94.7,398.9 L96.3,398.2 L98.0,398.5 L99.9,399.1 L102.0,398.9 L104.0,399.5 L105.9,400.3 L108.0,400.3 L110.0,400.5 L112.0,400.0 L114.0,400.0 L116.1,400.1 L118.0,401.0 L119.6,400.6 L121.3,400.8 L123.0,400.5 L124.6,400.9 L126.4,400.4 L128.0,401.0 L129.9,400.0 L132.0,400.0 L130.5,401.2 L129.0,402.5 L127.3,402.4 L125.7,402.6 L124.0,402.5 L122.4,403.0 L120.7,402.7 L119.0,403.0 L117.3,403.4 L115.6,402.9 L114.0,402.5 L112.0,402.7 L110.0,402.3 L108.0,403.0 L106.0,402.5 L104.1,401.9 L102.0,402.0 L100.3,402.2 L98.7,402.6 L97.0,402.5 L95.0,402.5 L93.0,402.0" stroke-width="1.3" stroke-linejoin="round" stroke-linecap="round"/>
<path d="M112.0,398.0 L114.0,397.0 L116.0,398.5" stroke-width="1.3" stroke-linejoin="round" stroke-linecap="round"/>
<path d="M99.0,408.5 L101.1,408.1 L103.0,407.0 L105.2,407.6 L107.5,408.0 L108.8,409.2 L110.0,410.5 L108.1,411.3 L106.0,411.5 L103.7,411.3 L101.5,411.0 L100.3,409.7Z" stroke-width="1.0" stroke-linejoin="round" stroke-linecap="round"/>
<path d="M121.5,416.0 L122.3,414.3 L122.9,412.5 L124.0,411.0 L125.5,410.0 L127.0,409.0 L128.0,407.5 L129.5,406.1 L131.0,404.7 L133.0,404.0 L134.4,403.2 L136.0,402.7 L137.6,402.3 L139.0,401.5 L140.5,400.5 L142.5,400.5 L144.0,399.5 L145.7,399.6 L147.3,399.2 L149.0,399.0 L151.0,400.5 L149.2,402.0 L147.0,403.0 L145.1,403.6 L143.8,405.2 L142.0,406.0 L140.2,406.5 L138.8,407.9 L137.0,408.5 L135.5,409.8 L133.5,410.3 L132.0,411.5 L130.4,412.7 L128.4,413.1 L127.0,414.5 L125.5,416.0 L124.0,417.5Z" stroke-width="1.0" stroke-linejoin="round" stroke-linecap="round"/>
<path d="M117.0,418.0 L119.0,417.0 L120.0,418.5" stroke-width="1.6" stroke-linejoin="round" stroke-linecap="round"/>
<path d="M113.5,417.5 L115.0,418.5" stroke-width="1.5" stroke-linejoin="round" stroke-linecap="round"/>
<path d="M134.0,399.5 L135.9,398.5 L138.0,398.0 L140.0,397.6 L142.0,397.5 L144.0,397.2 L146.0,397.0" stroke-width="1.4" stroke-linejoin="round" stroke-linecap="round"/>
<path d="M152.5,397.5 L154.0,398.0" stroke-width="1.4" stroke-linejoin="round" stroke-linecap="round"/>
<path d="M163.0,396.0 L164.0,395.0" stroke-width="1.2" stroke-linejoin="round" stroke-linecap="round"/>
<path d="M169.0,396.5 L170.0,398.0" stroke-width="1.4" stroke-linejoin="round" stroke-linecap="round"/>
<path d="M154.0,391.0 L155.0,392.0" stroke-width="1.2" stroke-linejoin="round" stroke-linecap="round"/>
<path d="M161.0,391.0 L162.0,391.5" stroke-width="1.2" stroke-linejoin="round" stroke-linecap="round"/>
<path d="M93.0,498.8 L94.6,498.2 L96.2,497.7 L97.3,496.2 L98.9,495.7 L100.5,495.0 L101.5,493.5 L103.4,492.9 L104.0,491.0 L105.2,489.7 L106.8,488.8 L107.3,487.0 L108.5,485.6 L110.0,484.3 L110.5,482.5 L111.2,480.7 L111.4,478.8 L112.0,477.0 L111.8,475.0 L113.3,473.8 L114.0,472.0 L115.2,470.8 L116.5,469.6 L118.0,468.8 L119.6,467.9 L120.7,466.5 L121.8,465.0 L123.4,463.3 L125.5,462.5 L126.9,461.4 L128.0,460.0 L129.2,458.7 L130.5,457.5 L131.6,456.2 L132.7,454.9 L134.0,453.8 L135.1,452.3 L136.3,450.9 L138.0,450.0 L139.6,449.0 L141.3,448.2 L143.0,447.5 L144.8,447.3 L146.2,445.8 L148.0,445.6 L149.7,447.0 L151.8,447.5 L153.3,448.4 L154.4,449.7 L155.5,451.0 L156.5,453.2 L158.0,455.0 L160.5,456.0 L163.0,455.0 L164.8,455.8 L166.8,456.0 L168.6,455.4 L170.5,455.0 L173.0,453.8 L171.3,452.2 L170.5,450.0 L171.3,448.3 L172.0,446.6 L173.0,445.0 L173.9,443.1 L174.0,441.0 L175.1,439.6 L176.6,438.6 L178.0,437.5 L179.6,436.6 L180.5,435.0 L181.4,433.4 L183.0,432.5 L184.9,432.4 L186.8,432.8 L188.6,432.8 L190.5,432.5 L191.3,430.4 L193.0,428.8 L191.9,427.1 L191.8,425.0 L193.7,424.5 L195.5,425.0 L197.0,426.6 L199.0,427.5 L200.7,427.9 L202.2,429.0 L203.7,429.8 L205.5,430.0 L207.2,430.7 L208.9,431.4 L210.5,432.5 L212.0,433.4 L213.8,433.5 L215.5,433.8 L217.0,432.6 L218.9,432.1 L220.5,431.0 L222.1,429.7 L223.7,428.5 L225.5,427.5 L226.7,425.8 L228.5,425.0 L228.3,426.9 L228.3,428.8 L228.7,430.6 L229.0,432.5 L227.6,433.4 L227.4,435.3 L226.2,436.4 L225.0,437.5 L223.6,438.4 L223.0,440.0 L223.2,442.0 L224.4,443.7 L225.1,445.5 L225.5,447.5 L227.3,448.7 L229.0,450.0 L227.6,449.0 L226.4,447.6 L224.5,447.3 L223.4,445.7 L221.8,445.0 L220.3,446.5 L219.0,448.1 L218.0,450.0 L217.3,451.6 L217.1,453.3 L216.8,455.0 L218.5,456.1 L220.0,457.3 L221.5,458.6 L223.0,460.0 L224.3,461.2 L226.2,461.5 L227.7,462.6 L229.0,463.8 L230.1,465.2 L231.8,466.1 L233.2,467.2 L234.6,468.4 L235.5,470.0 L237.4,470.7 L239.3,471.1 L241.0,472.4 L243.0,472.5 L244.7,472.3 L246.2,471.7 L247.4,470.4 L249.0,470.0 L250.3,471.4 L251.3,473.1 L251.8,475.0 L253.0,476.3 L254.1,477.7 L255.5,478.8 L257.2,478.3 L258.8,477.7 L260.5,477.5 L261.4,475.9 L262.6,474.6 L263.7,473.1 L264.7,471.7 L265.5,470.0 L266.1,468.4 L266.1,466.7 L265.7,464.9 L266.7,463.4 L266.4,461.6 L266.8,460.0 L267.0,458.2 L267.0,456.4 L267.6,454.7 L267.2,452.8 L267.4,451.0 L267.5,449.3 L268.0,447.5 L268.0,445.6 L269.1,444.0 L269.2,442.2 L269.2,440.3 L269.7,438.5 L270.7,436.9 L270.5,435.0 L270.7,433.3 L270.6,431.6 L271.5,430.0 L271.5,428.4 L272.1,426.7 L271.8,425.0 L271.7,423.1 L272.4,421.2 L273.0,419.4 L273.0,417.5 L272.8,415.5 L271.8,413.8 L271.7,415.7 L272.5,417.5 L273.8,418.9 L274.4,420.7 L275.0,422.5 L276.2,424.0 L277.0,425.7 L277.5,427.5 L277.6,429.4 L278.7,430.9 L279.4,432.5 L279.8,434.4 L281.3,435.8 L282.0,437.5 L281.9,439.2 L282.7,440.8 L283.0,442.5 L283.7,444.1 L283.6,445.9 L284.4,447.5 L284.8,449.5 L286.0,451.0 L287.9,450.1 L290.0,450.0 L291.2,451.3 L292.5,452.5 L293.6,454.3 L295.0,456.0 L295.9,457.6 L296.4,459.3 L296.9,461.0 L297.7,462.9 L298.0,464.9 L298.0,467.0 L299.0,468.5 L299.4,470.2 L300.1,471.9 L301.3,473.3 L301.8,475.0 L302.9,476.5 L303.2,478.3 L303.5,480.1 L304.6,481.5 L305.1,483.3 L305.5,485.0 L307.0,486.0 L307.8,487.7 L309.2,488.8 L310.8,489.7 L312.1,490.9 L313.0,492.5 L314.3,493.5 L315.5,494.6 L316.7,495.8 L318.3,496.4 L319.5,497.5 L320.5,498.8 L322.0,499.9 L323.7,500.6 L325.3,501.4 L326.8,502.5 L327.4,504.1 L327.0,505.9 L328.1,507.5 L328.2,509.2 L328.8,510.8 L329.0,512.5 L330.1,513.9 L330.7,515.7 L331.5,517.3 L333.1,518.4 L334.0,520.0 L335.7,520.3 L337.2,521.5 L339.0,521.6 L340.5,522.5 L341.6,524.2 L341.3,526.4 L342.5,528.1 L343.0,530.0 L344.0,531.5 L345.6,532.4 L346.5,534.0 L348.0,535.0 L349.5,536.0 L351.2,536.7 L352.8,537.6 L354.0,539.0 L355.5,540.0 L356.1,541.6 L356.5,543.2 L358.0,544.3 L358.2,546.1 L359.0,547.5 L360.1,549.1 L360.9,550.8 L361.8,552.5 L362.4,554.2 L362.4,556.0 L362.3,557.9 L362.0,559.7 L363.1,561.4 L362.8,563.2 L363.0,565.0 L362.8,566.7 L362.8,568.4 L363.8,570.0 L364.1,571.6 L363.3,573.4 L364.0,575.0 L363.2,576.6 L363.5,578.3 L363.8,580.1 L362.6,581.6 L362.9,583.4 L362.1,584.9 L362.2,586.6 L361.7,588.3 L361.8,590.0 L361.7,591.7 L360.5,593.0 L360.7,594.8 L360.0,596.3 L359.1,597.7 L358.6,599.3 L358.8,601.0 L358.0,602.5 L357.4,604.3 L356.4,605.9 L355.5,607.5 L354.8,609.2 L354.2,611.0 L353.0,612.5 L352.2,614.2 L350.8,615.4 L349.6,616.8 L349.4,618.8 L348.0,620.0 L347.1,621.6 L346.1,623.2 L346.0,625.2 L344.3,626.5 L344.2,628.5 L343.0,630.0 L342.3,631.5 L341.7,633.0 L341.0,634.4 L340.5,636.0" stroke-width="1.0" stroke-linejoin="round" stroke-linecap="round"/>
<path d="M112.0,474.0 L113.0,470.5 L115.0,472.5 L116.5,468.5 L118.5,470.0 L119.5,466.0 L121.0,468.0 L123.0,463.5 L124.5,465.5 L126.0,461.5 L127.5,463.0 L129.0,458.5 L130.5,460.5 L132.0,456.0 L133.5,457.5 L135.0,453.0 L137.0,454.0 L139.0,450.5 L141.0,451.5 L143.0,448.0" stroke-width="2.2" stroke-linejoin="round" stroke-linecap="round"/>
<path d="M119.0,475.0 L121.0,472.0 L120.0,477.5" stroke-width="1.8" stroke-linejoin="round" stroke-linecap="round"/>
<path d="M116.0,478.0 L117.0,474.5" stroke-width="1.6" stroke-linejoin="round" stroke-linecap="round"/>
<path d="M158.0,455.5 L159.5,458.0 L161.0,456.5 L163.5,458.5 L165.5,456.5 L168.0,457.5 L170.5,455.5 L172.5,456.0" stroke-width="1.8" stroke-linejoin="round" stroke-linecap="round"/>
<path d="M174.0,428.0 L177.0,427.0 L179.0,427.1 L181.0,427.5 L180.0,428.8 L179.0,430.0 L177.3,429.7 L175.5,429.5Z" stroke-width="1.3" stroke-linejoin="round" stroke-linecap="round"/>
<path d="M186.5,426.0 L189.0,425.5 L192.0,426.5 L190.0,428.0" stroke-width="2.0" stroke-linejoin="round" stroke-linecap="round"/>
<path d="M159.0,463.0 L160.5,461.0 L161.5,462.5 L160.0,465.5Z" stroke-width="1.1" stroke-linejoin="round" stroke-linecap="round"/>
<path d="M201.0,479.5 L202.0,480.5" stroke-width="1.6" stroke-linejoin="round" stroke-linecap="round"/>
<path d="M222.0,443.5 L224.0,441.5 L226.0,443.0 L225.0,446.0 L227.0,447.5" stroke-width="1.6" stroke-linejoin="round" stroke-linecap="round"/>
<path d="M227.5,462.5 L229.5,461.5 L230.0,464.0" stroke-width="1.8" stroke-linejoin="round" stroke-linecap="round"/>
<path d="M248.5,470.0 L250.0,468.5 L251.5,470.0 L251.0,472.5 L249.5,473.5" stroke-width="1.2" stroke-linejoin="round" stroke-linecap="round"/>
<path d="M270.0,412.5 L273.0,411.0 L275.5,413.5 L273.0,414.5" stroke-width="2.0" stroke-linejoin="round" stroke-linecap="round"/>
<path d="M326.0,504.5 L328.0,508.0 L330.0,512.0 L331.5,515.0 L333.0,519.5" stroke-width="1.8" stroke-linejoin="round" stroke-linecap="round"/>
<path d="M335.0,521.0 L337.5,523.0 L339.5,526.5" stroke-width="1.5" stroke-linejoin="round" stroke-linecap="round"/>
<path d="M360.0,541.0 L360.8,543.0 L361.5,545.0 L361.7,547.0 L362.2,549.0 L362.5,551.0" stroke-width="1.6" stroke-linejoin="round" stroke-linecap="round"/>
<path d="M93.0,626.0 L94.9,625.8 L96.7,625.2 L98.6,625.8 L100.5,625.5 L102.4,625.9 L104.3,626.0 L106.1,626.9 L108.0,627.0 L109.9,627.1 L111.7,626.5 L113.6,625.9 L115.5,626.0 L117.2,625.6 L118.7,624.8 L120.4,624.5 L122.2,624.5 L123.7,623.7 L125.5,623.8 L127.1,622.5 L128.8,621.3 L130.5,620.0 L131.7,618.7 L133.4,618.5 L134.5,617.1 L136.3,616.9 L137.7,616.1 L139.0,615.0 L140.5,614.2 L141.8,612.9 L143.5,612.5 L144.9,611.5 L146.7,611.3 L148.0,610.0 L149.5,609.0 L151.5,609.0 L153.2,608.5 L154.8,607.6 L156.5,607.0 L158.0,606.0 L159.6,605.3 L161.4,605.8 L163.0,604.9 L164.8,605.0 L166.4,604.6 L168.0,603.8 L169.6,603.3 L171.4,603.8 L173.0,603.9 L174.6,602.8 L176.3,603.0 L178.0,603.0 L179.8,603.5 L181.8,603.0 L183.6,604.0 L185.5,603.8 L187.1,604.3 L188.3,605.6 L190.2,605.7 L191.5,606.8 L193.0,607.5 L194.7,608.6 L196.9,608.4 L198.7,609.1 L200.5,610.0 L202.1,610.6 L203.7,611.1 L205.4,611.4 L206.8,612.5 L207.7,614.3 L208.3,616.1 L208.0,618.3 L209.0,620.0 L209.8,621.6 L210.6,623.2 L212.3,624.3 L213.0,626.0 L213.3,627.7 L214.6,629.1 L214.8,630.9 L215.5,632.5 L216.6,634.3 L218.0,636.0" stroke-width="1.0" stroke-linejoin="round" stroke-linecap="round"/>
<path d="M219.0,636.0 L219.9,634.4 L221.3,633.2 L222.1,631.5 L223.0,630.0 L224.3,628.8 L225.8,627.8 L226.4,625.9 L228.0,625.0 L229.6,624.1 L230.6,622.6 L231.7,621.2 L233.0,620.0 L234.1,618.6 L234.3,616.9 L235.8,615.7 L236.1,614.0 L236.8,612.5 L237.3,614.4 L237.1,616.3 L237.8,618.1 L238.0,620.0 L238.1,621.9 L237.1,623.7 L237.6,625.7 L236.8,627.5 L236.2,629.1 L236.5,630.9 L235.9,632.6 L235.2,634.2 L235.5,636.0" stroke-width="1.0" stroke-linejoin="round" stroke-linecap="round"/>
<path d="M240.5,636.0 L240.1,634.0 L239.6,632.0 L239.0,630.0 L240.0,631.3 L241.2,632.5 L241.8,634.0 L243.0,636.0" stroke-width="1.0" stroke-linejoin="round" stroke-linecap="round"/>
<path d="M207.0,613.0 L209.0,616.0 L208.0,619.0" stroke-width="1.8" stroke-linejoin="round" stroke-linecap="round"/>
<path d="M110.0,627.5 L112.0,628.5" stroke-width="1.3" stroke-linejoin="round" stroke-linecap="round"/>
<path d="M341.5,588.0 L342.3,588.5" stroke-width="1.5" stroke-linejoin="round" stroke-linecap="round"/>
<path d="M271.0,624.0 L271.8,624.5" stroke-width="1.5" stroke-linejoin="round" stroke-linecap="round"/>
<path d="M264.0,626.5 L264.8,627.0" stroke-width="1.5" stroke-linejoin="round" stroke-linecap="round"/>
<path d="M327.0,625.5 L327.8,626.0" stroke-width="1.5" stroke-linejoin="round" stroke-linecap="round"/>
<path d="M324.5,634.5 L325.3,635.0" stroke-width="1.5" stroke-linejoin="round" stroke-linecap="round"/>
<path d="M327.0,588.0 L327.8,588.5" stroke-width="1.5" stroke-linejoin="round" stroke-linecap="round"/>
<path d="M272.5,608.5 L273.5,611.0" stroke-width="1.6" stroke-linejoin="round" stroke-linecap="round"/>
<path d="M328.0,612.0 L329.0,615.0" stroke-width="1.5" stroke-linejoin="round" stroke-linecap="round"/>
<path d="M353.0,608.0 L354.5,611.0" stroke-width="1.3" stroke-linejoin="round" stroke-linecap="round"/>
<path d="M479.5,579.5 L480.0,579.9" stroke-width="1.1" stroke-linejoin="round" stroke-linecap="round"/>
<path d="M593.0,581.5 L593.5,581.9" stroke-width="1.1" stroke-linejoin="round" stroke-linecap="round"/>
<path d="M589.5,590.0 L590.0,590.4" stroke-width="1.1" stroke-linejoin="round" stroke-linecap="round"/>
<path d="M829.0,456.3 L829.5,456.7" stroke-width="1.1" stroke-linejoin="round" stroke-linecap="round"/>
<path d="M832.8,457.5 L833.3,457.9" stroke-width="1.1" stroke-linejoin="round" stroke-linecap="round"/>
<path d="M837.8,458.0 L838.3,458.4" stroke-width="1.1" stroke-linejoin="round" stroke-linecap="round"/>
<path d="M832.8,463.8 L833.3,464.2" stroke-width="1.1" stroke-linejoin="round" stroke-linecap="round"/>
<path d="M842.8,461.3 L843.3,461.7" stroke-width="1.1" stroke-linejoin="round" stroke-linecap="round"/>
<path d="M846.5,463.8 L847.0,464.2" stroke-width="1.1" stroke-linejoin="round" stroke-linecap="round"/>
<path d="M850.3,455.0 L850.8,455.4" stroke-width="1.1" stroke-linejoin="round" stroke-linecap="round"/>
<path d="M847.8,458.8 L848.3,459.2" stroke-width="1.1" stroke-linejoin="round" stroke-linecap="round"/>
<path d="M851.5,465.0 L852.0,465.4" stroke-width="1.1" stroke-linejoin="round" stroke-linecap="round"/>
<path d="M855.3,463.8 L855.8,464.2" stroke-width="1.1" stroke-linejoin="round" stroke-linecap="round"/>
<path d="M857.8,467.5 L858.3,467.9" stroke-width="1.1" stroke-linejoin="round" stroke-linecap="round"/>
<path d="M859.0,452.5 L859.5,452.9" stroke-width="1.1" stroke-linejoin="round" stroke-linecap="round"/>
<path d="M856.5,455.0 L857.0,455.4" stroke-width="1.1" stroke-linejoin="round" stroke-linecap="round"/>
<path d="M864.0,468.8 L864.5,469.2" stroke-width="1.1" stroke-linejoin="round" stroke-linecap="round"/>
<path d="M867.8,471.3 L868.3,471.7" stroke-width="1.1" stroke-linejoin="round" stroke-linecap="round"/>
<path d="M871.5,470.0 L872.0,470.4" stroke-width="1.1" stroke-linejoin="round" stroke-linecap="round"/>
<path d="M879.0,465.0 L879.5,465.4" stroke-width="1.1" stroke-linejoin="round" stroke-linecap="round"/>
<path d="M882.8,472.5 L883.3,472.9" stroke-width="1.1" stroke-linejoin="round" stroke-linecap="round"/>
<path d="M887.8,450.0 L888.3,450.4" stroke-width="1.1" stroke-linejoin="round" stroke-linecap="round"/>
<path d="M890.3,451.3 L890.8,451.7" stroke-width="1.1" stroke-linejoin="round" stroke-linecap="round"/>
<path d="M894.0,463.8 L894.5,464.2" stroke-width="1.1" stroke-linejoin="round" stroke-linecap="round"/>
<path d="M899.0,465.0 L899.5,465.4" stroke-width="1.1" stroke-linejoin="round" stroke-linecap="round"/>
<path d="M909.0,455.0 L909.5,455.4" stroke-width="1.1" stroke-linejoin="round" stroke-linecap="round"/>
<path d="M912.8,475.0 L913.3,475.4" stroke-width="1.1" stroke-linejoin="round" stroke-linecap="round"/>
<path d="M924.0,485.0 L924.5,485.4" stroke-width="1.1" stroke-linejoin="round" stroke-linecap="round"/>
<path d="M927.8,486.3 L928.3,486.7" stroke-width="1.1" stroke-linejoin="round" stroke-linecap="round"/>
<path d="M906.5,493.8 L907.0,494.2" stroke-width="1.1" stroke-linejoin="round" stroke-linecap="round"/>
<path d="M909.0,492.5 L909.5,492.9" stroke-width="1.1" stroke-linejoin="round" stroke-linecap="round"/>
<path d="M896.5,495.5 L897.0,495.9" stroke-width="1.1" stroke-linejoin="round" stroke-linecap="round"/>
<path d="M907.8,506.3 L908.3,506.7" stroke-width="1.1" stroke-linejoin="round" stroke-linecap="round"/>
<path d="M911.5,506.3 L912.0,506.7" stroke-width="1.1" stroke-linejoin="round" stroke-linecap="round"/>
<path d="M907.8,515.0 L908.3,515.4" stroke-width="1.1" stroke-linejoin="round" stroke-linecap="round"/>
<path d="M909.0,518.8 L909.5,519.2" stroke-width="1.1" stroke-linejoin="round" stroke-linecap="round"/>
<path d="M926.5,511.3 L927.0,511.7" stroke-width="1.1" stroke-linejoin="round" stroke-linecap="round"/>
<path d="M929.0,515.0 L929.5,515.4" stroke-width="1.1" stroke-linejoin="round" stroke-linecap="round"/>
<path d="M935.3,512.5 L935.8,512.9" stroke-width="1.1" stroke-linejoin="round" stroke-linecap="round"/>
<path d="M939.0,526.3 L939.5,526.7" stroke-width="1.1" stroke-linejoin="round" stroke-linecap="round"/>
<path d="M822.8,528.0 L823.3,528.4" stroke-width="1.1" stroke-linejoin="round" stroke-linecap="round"/>
<path d="M837.8,533.0 L838.3,533.4" stroke-width="1.1" stroke-linejoin="round" stroke-linecap="round"/>
<path d="M974.0,533.0 L974.5,533.4" stroke-width="1.1" stroke-linejoin="round" stroke-linecap="round"/>
<path d="M864.0,566.3 L864.5,566.7" stroke-width="1.1" stroke-linejoin="round" stroke-linecap="round"/>
<path d="M870.3,568.0 L870.8,568.4" stroke-width="1.1" stroke-linejoin="round" stroke-linecap="round"/>
<path d="M742.5,303.8 L743.0,304.2" stroke-width="1.1" stroke-linejoin="round" stroke-linecap="round"/>
<path d="M770.0,380.0 L770.5,380.4" stroke-width="1.1" stroke-linejoin="round" stroke-linecap="round"/>
<path d="M816.0,415.0 L816.5,415.4" stroke-width="1.1" stroke-linejoin="round" stroke-linecap="round"/>
<path d="M803.8,427.5 L804.3,427.9" stroke-width="1.1" stroke-linejoin="round" stroke-linecap="round"/>
<path d="M892.5,398.8 L893.0,399.2" stroke-width="1.1" stroke-linejoin="round" stroke-linecap="round"/>
<path d="M898.8,406.3 L899.3,406.7" stroke-width="1.1" stroke-linejoin="round" stroke-linecap="round"/>
<path d="M894.0,399.0 L894.5,399.4" stroke-width="1.1" stroke-linejoin="round" stroke-linecap="round"/>
<path d="M898.5,408.0 L899.0,408.4" stroke-width="1.1" stroke-linejoin="round" stroke-linecap="round"/>
<path d="M903.0,407.0 L903.5,407.4" stroke-width="1.1" stroke-linejoin="round" stroke-linecap="round"/>
<path d="M906.5,414.0 L907.0,414.4" stroke-width="1.1" stroke-linejoin="round" stroke-linecap="round"/>
<path d="M909.0,418.0 L909.5,418.4" stroke-width="1.1" stroke-linejoin="round" stroke-linecap="round"/>
<path d="M843.8,450.0 L844.3,450.4" stroke-width="1.1" stroke-linejoin="round" stroke-linecap="round"/>
<path d="M850.0,452.0 L850.5,452.4" stroke-width="1.1" stroke-linejoin="round" stroke-linecap="round"/>
<path d="M855.0,451.3 L855.5,451.7" stroke-width="1.1" stroke-linejoin="round" stroke-linecap="round"/>
<path d="M857.5,453.0 L858.0,453.4" stroke-width="1.1" stroke-linejoin="round" stroke-linecap="round"/>
<path d="M785.0,471.3 L785.5,471.7" stroke-width="1.1" stroke-linejoin="round" stroke-linecap="round"/>
<path d="M847.5,460.0 L848.0,460.4" stroke-width="1.1" stroke-linejoin="round" stroke-linecap="round"/>
<path d="M852.5,462.5 L853.0,462.9" stroke-width="1.1" stroke-linejoin="round" stroke-linecap="round"/>
<path d="M860.0,468.8 L860.5,469.2" stroke-width="1.1" stroke-linejoin="round" stroke-linecap="round"/>
<path d="M865.0,470.0 L865.5,470.4" stroke-width="1.1" stroke-linejoin="round" stroke-linecap="round"/>
<path d="M875.0,475.0 L875.5,475.4" stroke-width="1.1" stroke-linejoin="round" stroke-linecap="round"/>
<path d="M878.8,467.5 L879.3,467.9" stroke-width="1.1" stroke-linejoin="round" stroke-linecap="round"/>
<path d="M739.5,488.8 L740.0,489.2" stroke-width="1.1" stroke-linejoin="round" stroke-linecap="round"/>
<path d="M746.3,492.5 L746.8,492.9" stroke-width="1.1" stroke-linejoin="round" stroke-linecap="round"/>
<path d="M751.3,498.8 L751.8,499.2" stroke-width="1.1" stroke-linejoin="round" stroke-linecap="round"/>
<path d="M757.5,500.0 L758.0,500.4" stroke-width="1.1" stroke-linejoin="round" stroke-linecap="round"/>
<path d="M739.5,510.0 L740.0,510.4" stroke-width="1.1" stroke-linejoin="round" stroke-linecap="round"/>
<path d="M754.5,515.0 L755.0,515.4" stroke-width="1.1" stroke-linejoin="round" stroke-linecap="round"/>
<path d="M795.0,522.0 L795.5,522.4" stroke-width="1.1" stroke-linejoin="round" stroke-linecap="round"/>
<path d="M807.5,520.5 L808.0,520.9" stroke-width="1.1" stroke-linejoin="round" stroke-linecap="round"/>
<path d="M468.5,176.0 L469.0,176.4" stroke-width="1.1" stroke-linejoin="round" stroke-linecap="round"/>
<path d="M487.5,215.5 L488.0,215.9" stroke-width="1.1" stroke-linejoin="round" stroke-linecap="round"/>
<path d="M597.5,96.0 L598.0,96.4" stroke-width="1.1" stroke-linejoin="round" stroke-linecap="round"/>
<path d="M602.0,97.0 L602.5,97.4" stroke-width="1.1" stroke-linejoin="round" stroke-linecap="round"/>
<path d="M625.5,117.0 L626.0,117.4" stroke-width="1.1" stroke-linejoin="round" stroke-linecap="round"/>
<path d="M643.5,119.5 L644.0,119.9" stroke-width="1.1" stroke-linejoin="round" stroke-linecap="round"/>
<path d="M660.0,198.0 L660.5,198.4" stroke-width="1.1" stroke-linejoin="round" stroke-linecap="round"/>
<path d="M643.0,461.0 L643.5,461.4" stroke-width="1.1" stroke-linejoin="round" stroke-linecap="round"/>
<path d="M652.0,469.0 L652.5,469.4" stroke-width="1.1" stroke-linejoin="round" stroke-linecap="round"/>
<path d="M702.0,447.0 L702.5,447.4" stroke-width="1.1" stroke-linejoin="round" stroke-linecap="round"/>
<path d="M728.0,463.0 L728.5,463.4" stroke-width="1.1" stroke-linejoin="round" stroke-linecap="round"/>
<path d="M759.0,449.5 L759.5,449.9" stroke-width="1.1" stroke-linejoin="round" stroke-linecap="round"/>
<path d="M467.0,258.5 L467.5,258.9" stroke-width="1.1" stroke-linejoin="round" stroke-linecap="round"/>
<path d="M474.0,261.0 L474.5,261.4" stroke-width="1.1" stroke-linejoin="round" stroke-linecap="round"/>
<path d="M478.0,266.0 L478.5,266.4" stroke-width="1.1" stroke-linejoin="round" stroke-linecap="round"/>
<path d="M485.0,272.0 L485.5,272.4" stroke-width="1.1" stroke-linejoin="round" stroke-linecap="round"/>
<path d="M500.0,256.0 L500.5,256.4" stroke-width="1.1" stroke-linejoin="round" stroke-linecap="round"/>
<path d="M509.0,259.5 L509.5,259.9" stroke-width="1.1" stroke-linejoin="round" stroke-linecap="round"/>
<path d="M514.0,270.0 L514.5,270.4" stroke-width="1.1" stroke-linejoin="round" stroke-linecap="round"/>
<path d="M409.0,257.0 L409.5,257.4" stroke-width="1.1" stroke-linejoin="round" stroke-linecap="round"/>
<path d="M238.0,258.0 L238.5,258.4" stroke-width="1.1" stroke-linejoin="round" stroke-linecap="round"/>
<path d="M259.0,255.0 L259.5,255.4" stroke-width="1.1" stroke-linejoin="round" stroke-linecap="round"/>
<path d="M278.0,258.5 L278.5,258.9" stroke-width="1.1" stroke-linejoin="round" stroke-linecap="round"/>
<path d="M314.0,277.0 L314.5,277.4" stroke-width="1.1" stroke-linejoin="round" stroke-linecap="round"/>
<path d="M330.0,281.5 L330.5,281.9" stroke-width="1.1" stroke-linejoin="round" stroke-linecap="round"/>
<path d="M352.0,268.0 L352.5,268.4" stroke-width="1.1" stroke-linejoin="round" stroke-linecap="round"/>
<path d="M388.0,279.5 L388.5,279.9" stroke-width="1.1" stroke-linejoin="round" stroke-linecap="round"/>
<path d="M540.0,312.0 L540.5,312.4" stroke-width="1.1" stroke-linejoin="round" stroke-linecap="round"/>
<path d="M520.5,318.5 L521.0,318.9" stroke-width="1.1" stroke-linejoin="round" stroke-linecap="round"/>
<path d="M523.0,325.0 L523.5,325.4" stroke-width="1.1" stroke-linejoin="round" stroke-linecap="round"/>
<path d="M546.0,345.5 L546.5,345.9" stroke-width="1.1" stroke-linejoin="round" stroke-linecap="round"/>
<path d="M545.0,380.0 L545.5,380.4" stroke-width="1.1" stroke-linejoin="round" stroke-linecap="round"/>
<path d="M574.0,381.0 L574.5,381.4" stroke-width="1.1" stroke-linejoin="round" stroke-linecap="round"/>
<path d="M484.0,287.5 L484.5,287.9" stroke-width="1.1" stroke-linejoin="round" stroke-linecap="round"/>
<path d="M505.0,281.5 L505.5,281.9" stroke-width="1.1" stroke-linejoin="round" stroke-linecap="round"/>
<path d="M266.0,104.5 L266.5,104.9" stroke-width="1.1" stroke-linejoin="round" stroke-linecap="round"/>
<path d="M266.0,110.0 L266.5,110.4" stroke-width="1.1" stroke-linejoin="round" stroke-linecap="round"/>
<path d="M264.5,124.0 L265.0,124.4" stroke-width="1.1" stroke-linejoin="round" stroke-linecap="round"/>
<path d="M265.5,131.5 L266.0,131.9" stroke-width="1.1" stroke-linejoin="round" stroke-linecap="round"/>
<path d="M300.0,174.0 L300.5,174.4" stroke-width="1.1" stroke-linejoin="round" stroke-linecap="round"/>
<path d="M300.5,181.0 L301.0,181.4" stroke-width="1.1" stroke-linejoin="round" stroke-linecap="round"/>
<path d="M301.0,188.0 L301.5,188.4" stroke-width="1.1" stroke-linejoin="round" stroke-linecap="round"/>
<path d="M301.5,195.0 L302.0,195.4" stroke-width="1.1" stroke-linejoin="round" stroke-linecap="round"/>
<path d="M300.8,201.0 L301.3,201.4" stroke-width="1.1" stroke-linejoin="round" stroke-linecap="round"/>
<path d="M758.8,318.8 L759.7,319.4" stroke-width="1.7" stroke-linejoin="round" stroke-linecap="round"/>
<path d="M753.8,407.5 L754.7,408.1" stroke-width="1.7" stroke-linejoin="round" stroke-linecap="round"/>
<path d="M800.0,467.5 L800.9,468.1" stroke-width="1.7" stroke-linejoin="round" stroke-linecap="round"/>
<path d="M805.0,468.8 L805.9,469.4" stroke-width="1.7" stroke-linejoin="round" stroke-linecap="round"/>
<path d="M807.5,471.3 L808.4,471.9" stroke-width="1.7" stroke-linejoin="round" stroke-linecap="round"/>
<path d="M820.0,478.8 L820.9,479.4" stroke-width="1.7" stroke-linejoin="round" stroke-linecap="round"/>
<path d="M823.8,480.0 L824.7,480.6" stroke-width="1.7" stroke-linejoin="round" stroke-linecap="round"/>
<path d="M830.0,456.3 L830.9,456.9" stroke-width="1.7" stroke-linejoin="round" stroke-linecap="round"/>
<path d="M835.0,457.5 L835.9,458.1" stroke-width="1.7" stroke-linejoin="round" stroke-linecap="round"/>
<path d="M838.8,460.0 L839.7,460.6" stroke-width="1.7" stroke-linejoin="round" stroke-linecap="round"/>
<path d="M856.3,467.5 L857.2,468.1" stroke-width="1.7" stroke-linejoin="round" stroke-linecap="round"/>
<path d="M868.8,471.3 L869.7,471.9" stroke-width="1.7" stroke-linejoin="round" stroke-linecap="round"/>
<g stroke-width="1.4" stroke-dasharray="6.5 5" stroke-linecap="butt">
<path d="M296.8,136.5C298.6,137.0 304.5,138.0 308.0,139.8C311.5,141.5 315.3,144.1 318.0,147.2C320.7,150.4 322.6,154.3 324.2,158.5C325.9,162.7 327.2,167.7 328.0,172.2C328.8,176.8 328.8,181.6 329.2,186.0C329.7,190.4 330.5,194.3 330.5,198.5C330.5,202.7 329.9,207.0 329.2,211.0C328.6,215.0 328.0,218.5 326.8,222.2C325.5,226.0 323.2,230.4 321.8,233.5C320.3,236.6 318.6,239.8 318.0,241.0"/>
<path d="M318.0,241.0C316.3,241.2 312.2,241.6 308.0,242.2C303.8,242.9 297.6,244.1 293.0,244.8C288.4,245.4 283.8,246.8 280.5,246.0C277.2,245.2 275.1,242.0 273.0,239.8C270.9,237.5 269.5,234.5 268.0,232.2C266.5,230.0 264.9,227.0 264.2,226.0"/>
<path d="M264.2,226.0C264.5,224.5 264.7,220.0 265.5,217.2C266.3,214.5 268.2,212.0 269.2,209.8C270.3,207.5 271.3,206.2 271.8,203.5C272.2,200.8 272.4,197.2 271.8,193.5C271.1,189.8 269.0,185.2 268.0,181.0C267.0,176.8 265.9,171.8 265.5,168.5C265.1,165.2 264.2,163.3 265.5,161.0C266.8,158.7 270.1,157.0 273.0,154.8C275.9,152.5 280.1,149.5 283.0,147.2C285.9,145.0 288.2,142.8 290.5,141.0C292.8,139.2 295.7,137.2 296.8,136.5"/>
<path d="M271.8,203.5C272.8,204.8 274.9,208.7 278.0,211.0C281.1,213.3 286.8,215.6 290.5,217.2C294.2,218.9 297.2,219.3 300.5,221.0C303.8,222.7 307.8,225.2 310.5,227.2C313.2,229.3 315.5,231.2 316.8,233.5C318.0,235.8 317.8,239.8 318.0,241.0"/>
<path d="M293.0,224.8C293.8,223.5 296.5,219.8 298.0,217.2C299.5,214.8 301.1,211.0 301.8,209.8"/>
<path d="M264.2,226.0C262.4,225.8 257.0,224.5 253.0,224.8C249.0,225.0 244.7,226.2 240.5,227.2C236.3,228.3 232.0,229.3 228.0,231.0C224.0,232.7 218.8,235.6 216.8,237.2C214.7,238.9 215.7,240.4 215.5,241.0"/>
<path d="M215.5,241.0C214.2,241.0 210.9,240.6 208.0,241.0C205.1,241.4 201.1,241.8 198.0,243.5C194.9,245.2 191.5,248.1 189.2,251.0C187.0,253.9 185.9,258.1 184.2,261.0C182.6,263.9 181.1,266.4 179.2,268.5C177.4,270.6 174.7,271.4 173.0,273.5C171.3,275.6 169.9,279.1 169.2,281.0C168.6,282.9 169.2,284.3 169.2,285.0"/>
<path d="M216.8,241.0C217.2,242.7 218.5,247.7 219.2,251.0C220.0,254.3 220.5,257.7 221.0,261.0C221.5,264.3 221.8,267.7 222.5,271.0C223.2,274.3 224.3,278.7 225.0,281.0C225.7,283.3 226.5,284.3 226.8,285.0"/>
<path d="M211.8,269.8 L208.0,277.2"/>
<path d="M318.0,241.0C319.7,240.4 324.7,238.3 328.0,237.2C331.3,236.2 334.2,235.0 338.0,234.8C341.8,234.5 346.2,235.4 350.5,236.0C354.8,236.6 361.8,238.1 364.0,238.5"/>
<path d="M364.0,238.5C365.7,239.1 370.7,241.0 374.0,242.2C377.3,243.5 381.1,245.0 384.0,246.0C386.9,247.0 389.6,248.3 391.5,248.5C393.4,248.7 394.6,247.5 395.2,247.2"/>
<path d="M395.2,247.2C395.9,245.8 397.3,241.6 399.0,238.5C400.7,235.4 403.4,231.4 405.2,228.5C407.1,225.6 408.4,223.1 410.2,221.0C412.1,218.9 413.8,217.5 416.5,216.0C419.2,214.5 423.2,212.9 426.5,212.2C429.8,211.6 433.2,212.0 436.5,212.2C439.8,212.5 443.0,213.7 446.5,213.5C450.0,213.3 455.5,212.7 457.8,211.0C460.0,209.3 458.4,205.6 460.2,203.5C462.1,201.4 465.9,200.2 469.0,198.5C472.1,196.8 475.7,195.0 479.0,193.5C482.3,192.0 486.3,190.8 489.0,189.8C491.7,188.7 492.8,187.0 495.2,187.2C497.8,187.5 501.5,189.3 504.0,191.0C506.5,192.7 508.6,194.8 510.2,197.2C511.9,199.8 512.8,202.9 514.0,206.0C515.2,209.1 516.3,213.1 517.8,216.0C519.2,218.9 521.5,220.6 522.8,223.5C524.0,226.4 524.2,230.2 525.2,233.5C526.3,236.8 528.0,240.2 529.0,243.5C530.0,246.8 530.2,250.0 531.5,253.5C532.8,257.0 535.2,261.0 536.5,264.8C537.8,268.5 538.4,272.6 539.0,276.0C539.6,279.4 540.0,283.5 540.2,285.0"/>
<path d="M395.2,247.2C395.7,248.3 396.1,251.4 397.8,253.5C399.4,255.6 402.5,257.7 405.2,259.8C408.0,261.8 410.5,264.3 414.0,266.0C417.5,267.7 422.8,268.9 426.5,269.8C430.2,270.6 433.2,270.4 436.5,271.0C439.8,271.6 443.6,272.2 446.5,273.5C449.4,274.8 451.7,276.8 454.0,278.5C456.3,280.2 459.2,282.7 460.2,283.5"/>
<path d="M504.0,277.2 L511.5,278.5"/>
<path d="M484.0,273.5 L487.8,276.0"/>
<path d="M169.2,285.0C169.5,286.7 170.1,291.2 170.5,295.0C170.9,298.8 171.3,303.8 171.8,307.5C172.2,311.2 172.8,315.8 173.0,317.5"/>
<path d="M173.0,318.2C174.7,318.3 178.8,318.7 183.0,318.8C187.2,318.8 194.2,320.2 198.0,318.8C201.8,317.3 203.0,312.5 205.5,310.0C208.0,307.5 210.5,305.6 213.0,303.8C215.5,301.9 218.0,300.2 220.5,298.8C223.0,297.3 226.8,295.6 228.0,295.0"/>
<path d="M226.8,285.0 L228.0,295.0"/>
<path d="M228.0,295.0C229.2,294.8 232.2,294.0 235.5,293.8C238.8,293.6 244.2,293.0 248.0,293.8C251.8,294.6 255.7,297.4 258.0,298.8C260.3,300.2 260.0,300.8 262.0,302.0C264.0,303.2 267.0,305.2 270.0,306.0C273.0,306.8 276.5,307.4 280.0,306.9C283.5,306.4 287.7,304.0 291.0,303.0C294.3,302.0 297.0,301.2 300.0,301.0C303.0,300.8 305.9,301.4 308.8,302.0C311.7,302.6 314.4,303.5 317.5,304.4C320.6,305.3 324.2,307.0 327.5,307.5C330.8,308.0 335.0,307.3 337.5,307.5C340.0,307.7 341.1,307.1 342.5,308.8C343.9,310.5 345.4,316.1 346.0,317.5"/>
<path d="M262.5,357.0C262.5,355.8 262.1,352.4 262.5,350.0C262.9,347.6 265.0,345.0 265.0,342.5C265.0,340.0 263.2,337.3 262.5,335.0C261.8,332.7 260.7,330.6 260.6,328.8C260.5,327.0 261.0,325.7 261.9,324.4C262.8,323.1 263.8,321.9 266.0,321.0C268.2,320.1 271.8,319.7 275.0,318.8C278.2,317.9 281.7,316.5 285.0,315.6C288.3,314.7 291.7,313.6 295.0,313.5C298.3,313.4 301.7,314.0 305.0,315.0C308.3,316.0 311.7,318.9 315.0,319.5C318.3,320.1 321.7,319.1 325.0,318.8C328.3,318.6 331.7,318.1 335.0,318.0C338.3,317.9 343.3,318.4 345.0,318.5"/>
<path d="M346.0,317.5C346.5,318.6 347.7,321.7 348.8,323.8C349.9,325.9 351.1,328.0 352.5,330.0C353.9,332.0 355.6,334.2 357.5,336.0C359.4,337.8 361.7,339.9 363.8,341.0C365.9,342.1 367.5,342.4 370.0,342.8C372.5,343.2 375.9,343.4 378.8,343.5C381.7,343.6 384.9,343.4 387.5,343.5C390.1,343.6 393.2,343.8 394.4,343.8"/>
<path d="M394.4,343.8C394.9,342.3 396.7,338.0 397.5,335.0C398.3,332.0 399.0,328.5 399.4,326.0C399.8,323.5 399.7,321.8 400.0,320.0C400.3,318.2 400.0,316.3 401.0,315.0C402.0,313.7 404.1,312.7 406.0,312.0C407.9,311.3 410.4,310.6 412.5,310.6C414.6,310.6 416.7,311.3 418.8,312.0C420.9,312.7 422.7,314.0 425.0,315.0C427.3,316.0 430.0,317.4 432.5,318.0C435.0,318.6 437.5,318.8 440.0,318.8C442.5,318.8 444.8,318.5 447.5,318.0C450.2,317.5 453.9,316.8 456.0,315.6C458.1,314.4 459.3,311.8 460.0,311.0"/>
<path d="M394.4,343.8C395.3,343.9 397.8,344.4 400.0,344.4C402.2,344.3 405.0,343.6 407.5,343.5C410.0,343.4 412.8,343.4 415.0,343.8C417.2,344.2 419.2,344.8 421.0,345.6C422.8,346.4 424.3,347.4 426.0,348.8C427.7,350.2 429.5,351.9 431.0,353.8C432.5,355.7 434.0,358.1 435.0,360.0C436.0,361.9 436.7,363.7 436.9,365.0C437.1,366.3 436.1,367.5 436.0,368.0"/>
<path d="M436.0,368.0C434.8,368.3 431.5,369.3 428.8,370.0C426.1,370.7 423.1,371.5 420.0,372.0C416.9,372.5 412.9,372.6 410.0,373.0C407.1,373.4 404.8,373.7 402.5,374.4C400.2,375.1 397.9,376.0 396.0,377.0C394.1,378.0 392.8,379.1 391.0,380.6C389.2,382.1 387.2,383.9 385.0,386.0C382.8,388.1 380.2,390.3 378.0,393.0C375.8,395.7 372.3,399.2 372.0,402.0C371.7,404.8 374.3,407.0 376.0,410.0C377.7,413.0 380.0,416.7 382.0,420.0C384.0,423.3 386.0,427.0 388.0,430.0C390.0,433.0 393.2,435.0 394.0,438.0C394.8,441.0 393.2,446.3 393.0,448.0"/>
<path d="M460.2,285.0 L460.2,310.0"/>
<path d="M460.2,310.0C461.7,310.8 465.9,313.2 469.0,314.5C472.1,315.8 476.1,317.1 479.0,318.0C481.9,318.9 485.2,319.7 486.5,320.0"/>
<path d="M486.5,320.0C485.9,321.9 483.6,327.3 482.8,331.2C481.9,335.2 481.9,339.6 481.5,343.8C481.1,347.9 480.9,352.9 480.2,356.2C479.6,359.6 479.6,362.1 477.8,363.8C475.9,365.4 471.9,366.1 469.0,366.2C466.1,366.4 463.0,365.8 460.2,364.5C457.5,363.2 454.8,361.0 452.8,358.8C450.7,356.5 449.1,354.2 447.8,351.2C446.4,348.3 444.9,344.4 444.5,341.2C444.1,338.1 444.9,335.2 445.5,332.5C446.1,329.8 447.2,327.3 448.0,325.0C448.8,322.7 449.9,319.8 450.2,318.8"/>
<path d="M486.5,320.0C487.1,318.3 488.8,312.7 490.2,310.0C491.7,307.3 493.0,305.5 495.2,303.8C497.5,302.0 500.5,300.8 504.0,299.5C507.5,298.2 512.3,297.4 516.5,296.2C520.7,295.1 524.8,293.8 529.0,292.5C533.2,291.2 539.4,289.4 541.5,288.8"/>
<path d="M541.5,285.0C541.5,285.6 540.7,286.5 541.5,288.8C542.3,291.0 545.2,295.2 546.5,298.8C547.8,302.3 548.0,306.7 549.5,310.0C551.0,313.3 552.8,316.5 555.2,318.8C557.7,321.0 561.5,321.7 564.0,323.8C566.5,325.8 568.6,328.5 570.2,331.2C571.9,334.0 573.0,336.5 574.0,340.0C575.0,343.5 575.5,348.1 576.0,352.5C576.5,356.9 576.8,364.0 577.0,366.2"/>
<path d="M479.0,363.8C480.2,364.4 483.2,366.7 486.5,367.5C489.8,368.3 495.2,369.2 499.0,368.8C502.8,368.3 506.1,366.0 509.0,365.0C511.9,364.0 514.6,361.9 516.5,362.5C518.4,363.1 519.6,367.7 520.2,368.8"/>
<path d="M520.2,368.8C522.5,368.5 529.2,367.5 534.0,367.5C538.8,367.5 544.0,368.8 549.0,368.8C554.0,368.8 559.3,367.9 564.0,367.5C568.7,367.1 574.8,366.5 577.0,366.2"/>
<path d="M437.8,368.8C435.5,369.2 428.4,370.6 424.0,371.2C419.6,371.9 415.2,371.9 411.5,372.5C407.8,373.1 403.2,374.6 401.5,375.0"/>
<path d="M436.5,369.0C435.5,366.5 432.8,357.3 430.2,353.8C427.8,350.2 425.2,349.0 421.5,347.5C417.8,346.0 410.0,345.4 407.8,345.0"/>
<path d="M437.8,368.8C438.4,369.8 439.2,373.1 441.5,375.0C443.8,376.9 448.4,378.1 451.5,380.0C454.6,381.9 456.9,385.2 460.2,386.2C463.6,387.3 467.5,385.6 471.5,386.2C475.5,386.9 480.2,388.3 484.0,390.0C487.8,391.7 490.7,394.2 494.0,396.2C497.3,398.3 500.7,400.4 504.0,402.5C507.3,404.6 511.3,406.3 514.0,408.8C516.7,411.2 518.4,414.2 520.2,417.0C522.1,419.8 524.2,424.3 525.0,425.8"/>
<path d="M534.0,413.8C535.7,414.0 540.7,414.4 544.0,415.0C547.3,415.6 551.1,415.8 554.0,417.5C556.9,419.2 559.2,422.3 561.5,425.0C563.8,427.7 565.7,430.8 567.8,433.8C569.8,436.7 572.1,440.0 574.0,442.5C575.9,445.0 578.2,447.7 579.0,448.8"/>
<path d="M520.2,368.8C519.8,370.6 518.0,376.5 517.8,380.0C517.5,383.5 518.2,386.7 519.0,390.0C519.8,393.3 521.1,397.1 522.8,400.0C524.4,402.9 527.1,405.2 529.0,407.5C530.9,409.8 533.2,412.7 534.0,413.8"/>
<path d="M534.0,413.8C533.2,414.8 530.5,417.7 529.0,420.0C527.5,422.3 526.1,425.0 525.2,427.5C524.4,430.0 524.2,432.7 524.0,435.0C523.8,437.3 524.0,440.2 524.0,441.2"/>
<path d="M524.0,441.2C522.8,442.3 519.0,445.2 516.5,447.5C514.0,449.8 511.5,454.6 509.0,455.0C506.5,455.4 504.4,451.7 501.5,450.0C498.6,448.3 494.8,447.1 491.5,445.0C488.2,442.9 484.4,439.2 481.5,437.5C478.6,435.8 476.9,435.5 474.0,435.0C471.1,434.5 467.3,434.5 464.0,434.5C460.7,434.5 456.9,434.1 454.0,435.0C451.1,435.9 448.2,437.9 446.5,440.0C444.8,442.1 444.2,444.9 443.5,447.5C442.8,450.1 442.2,454.2 442.0,455.5"/>
<path d="M577.0,366.2C577.8,367.3 579.5,369.8 581.5,372.5C583.5,375.2 586.7,379.4 589.0,382.5C591.3,385.6 593.2,389.0 595.2,391.2C597.3,393.5 599.2,395.4 601.5,396.2C603.8,397.1 607.8,396.2 609.0,396.2"/>
<path d="M635.0,330.0C632.8,332.3 626.0,340.2 621.5,343.8C617.0,347.3 611.7,349.0 607.8,351.2C603.8,353.5 600.0,354.8 597.8,357.5C595.5,360.2 594.6,364.2 594.0,367.5C593.4,370.8 593.4,374.2 594.0,377.5C594.6,380.8 596.1,384.6 597.8,387.5C599.4,390.4 601.9,392.5 604.0,395.0C606.1,397.5 609.0,399.6 610.2,402.5C611.5,405.4 611.3,410.8 611.5,412.5"/>
<path d="M602.8,413.8C604.0,414.0 607.5,413.8 610.2,415.0C613.0,416.2 615.9,419.6 619.0,421.2C622.1,422.9 627.3,424.4 629.0,425.0"/>
<path d="M579.0,448.8C579.8,446.5 581.9,439.0 584.0,435.0C586.1,431.0 588.6,428.3 591.5,425.0C594.4,421.7 598.2,417.0 601.5,415.0C604.8,413.0 609.8,413.3 611.5,413.0"/>
<path d="M635.0,331.2C637.1,331.1 643.3,329.9 647.5,330.5C651.7,331.1 656.2,332.8 660.0,335.0C663.8,337.2 667.3,340.4 670.0,343.8C672.7,347.1 674.8,351.5 676.2,355.0C677.7,358.5 679.0,361.5 678.8,365.0C678.5,368.5 676.7,372.5 675.0,376.2C673.3,380.0 670.0,385.0 668.8,387.5C667.5,390.0 667.7,390.6 667.5,391.2"/>
<path d="M635.0,387.0C637.5,387.3 644.6,388.0 650.0,388.8C655.4,389.5 664.6,390.8 667.5,391.2"/>
<path d="M667.5,391.2C668.3,392.9 672.3,397.7 672.5,401.2C672.7,404.8 669.6,409.4 668.8,412.5C667.9,415.6 667.7,418.8 667.5,420.0"/>
<path d="M635.0,417.5C637.5,417.4 644.6,417.0 650.0,416.8C655.4,416.5 664.6,415.9 667.5,415.8"/>
<path d="M672.5,401.2C673.8,400.4 676.7,397.3 680.0,396.2C683.3,395.2 688.8,394.8 692.5,395.0C696.2,395.2 700.0,396.9 702.5,397.5C705.0,398.1 706.7,398.5 707.5,398.8"/>
<path d="M707.5,398.8C708.8,397.5 712.1,393.0 715.0,391.2C717.9,389.5 721.7,388.9 725.0,388.2C728.3,387.6 731.9,388.7 735.0,387.5C738.1,386.3 742.3,382.3 743.8,381.2"/>
<path d="M730.0,288.8C728.8,290.6 725.0,296.5 722.5,300.0C720.0,303.5 715.8,307.3 715.0,310.0C714.2,312.7 715.4,314.8 717.5,316.2C719.6,317.7 724.0,318.1 727.5,318.8C731.0,319.4 735.8,318.8 738.8,320.0C741.7,321.2 742.7,323.8 745.0,326.2C747.3,328.8 750.0,331.9 752.5,335.0C755.0,338.1 759.6,341.9 760.0,345.0C760.4,348.1 756.9,350.8 755.0,353.8C753.1,356.7 750.4,359.4 748.8,362.5C747.1,365.6 745.8,369.4 745.0,372.5C744.2,375.6 744.0,379.8 743.8,381.2"/>
<path d="M765.0,285.0C766.7,286.7 772.1,292.1 775.0,295.0C777.9,297.9 780.5,299.6 782.5,302.5C784.5,305.4 786.2,309.2 787.0,312.5C787.8,315.8 787.8,319.4 787.5,322.5C787.2,325.6 786.0,328.5 785.0,331.2C784.0,334.0 781.9,337.5 781.2,338.8"/>
<path d="M781.2,338.8C782.7,339.4 787.3,341.0 790.0,342.5C792.7,344.0 795.4,345.4 797.5,347.5C799.6,349.6 801.0,352.1 802.5,355.0C804.0,357.9 806.0,361.7 806.2,365.0C806.5,368.3 804.8,371.9 803.8,375.0C802.7,378.1 800.6,382.3 800.0,383.8"/>
<path d="M797.5,388.8C799.6,388.5 805.8,387.7 810.0,387.5C814.2,387.3 818.8,386.7 822.5,387.5C826.2,388.3 829.6,390.2 832.5,392.5C835.4,394.8 838.1,397.9 840.0,401.2C841.9,404.6 843.3,409.0 843.8,412.5C844.2,416.0 842.7,420.8 842.5,422.5"/>
<path d="M743.8,381.2C745.2,382.3 749.4,385.4 752.5,387.5C755.6,389.6 759.2,391.7 762.5,393.8C765.8,395.8 769.8,398.5 772.5,400.0C775.2,401.5 777.7,402.1 778.8,402.5"/>
<path d="M778.8,402.5C778.3,404.6 776.9,411.2 776.2,415.0C775.6,418.8 774.9,421.5 775.0,425.0C775.1,428.5 776.7,434.4 777.0,436.2"/>
<path d="M777.0,436.2C775.0,435.8 768.9,433.8 765.0,433.8C761.1,433.8 757.1,435.0 753.8,436.2C750.4,437.5 747.3,439.4 745.0,441.2C742.7,443.1 741.2,444.8 740.0,447.5C738.8,450.2 738.1,455.2 737.5,457.5C736.9,459.8 736.5,460.6 736.2,461.2"/>
<path d="M777.0,436.2C775.4,436.7 770.3,437.3 767.5,438.8C764.7,440.2 762.1,442.3 760.0,445.0C757.9,447.7 756.2,452.0 755.0,455.0C753.8,458.0 752.9,461.7 752.5,463.0"/>
<path d="M777.0,436.2C778.3,437.3 782.0,440.8 785.0,442.5C788.0,444.2 791.2,445.6 795.0,446.2C798.8,446.9 803.8,447.1 807.5,446.2C811.2,445.4 814.6,443.1 817.5,441.2C820.4,439.4 822.1,436.9 825.0,435.0C827.9,433.1 832.1,431.9 835.0,430.0C837.9,428.1 841.2,424.8 842.5,423.8"/>
<path d="M667.5,420.0C667.7,421.7 667.3,427.3 668.8,430.0C670.2,432.7 673.5,434.2 676.2,436.2C679.0,438.3 682.3,440.2 685.0,442.5C687.7,444.8 690.8,447.5 692.5,450.0C694.2,452.5 695.2,454.6 695.0,457.5C694.8,460.4 692.9,464.2 691.2,467.5C689.6,470.8 686.0,475.8 685.0,477.5"/>
<path d="M635.0,431.2C636.2,431.9 640.0,433.5 642.5,435.0C645.0,436.5 648.8,439.2 650.0,440.0"/>
<path d="M843.5,423.8C845.2,423.8 850.6,423.5 854.0,423.8C857.4,424.0 861.1,424.6 864.0,425.0C866.9,425.4 870.2,426.0 871.5,426.2"/>
<path d="M872.8,422.5C871.9,420.4 868.8,414.2 867.8,410.0C866.7,405.8 866.1,401.7 866.5,397.5C866.9,393.3 868.6,388.3 870.2,385.0C871.9,381.7 873.8,379.6 876.5,377.5C879.2,375.4 882.8,373.4 886.5,372.5C890.2,371.6 895.2,371.4 899.0,372.0C902.8,372.6 905.7,374.3 909.0,376.2C912.3,378.2 915.9,381.0 919.0,383.8C922.1,386.5 925.2,389.2 927.8,392.5C930.2,395.8 932.5,400.0 934.0,403.8C935.5,407.5 936.6,411.0 937.0,415.0C937.4,419.0 937.4,423.5 936.5,427.5C935.6,431.5 932.3,436.9 931.5,438.8"/>
<path d="M364.0,453.8C366.1,453.3 371.9,452.1 376.5,451.2C381.1,450.4 389.0,449.2 391.5,448.8"/>
<path d="M391.5,448.8C392.5,450.2 395.5,454.9 397.8,457.5C400.0,460.1 404.0,463.1 405.2,464.2"/>
<path d="M405.2,464.2C403.8,466.5 399.2,473.6 396.5,477.5C393.8,481.4 390.9,484.8 389.0,487.5C387.1,490.2 385.2,491.2 385.2,493.8C385.2,496.2 387.8,499.0 389.0,502.5C390.2,506.0 391.5,510.8 392.8,515.0C394.0,519.2 395.0,523.5 396.5,527.5C398.0,531.5 400.5,536.0 401.5,538.8C402.5,541.5 402.5,542.9 402.8,543.8"/>
<path d="M402.8,543.8C404.4,543.9 409.4,544.7 412.8,544.5C416.1,544.3 419.6,543.9 422.8,542.5C425.9,541.1 428.8,537.3 431.5,536.2C434.2,535.2 436.5,535.2 439.0,536.2C441.5,537.3 444.2,540.4 446.5,542.5C448.8,544.6 450.5,546.9 452.8,548.8C455.0,550.6 459.0,552.9 460.2,553.8"/>
<path d="M405.2,464.2C407.5,464.4 414.6,465.7 419.0,465.0C423.4,464.3 427.8,461.5 431.5,460.0C435.2,458.5 439.8,456.9 441.5,456.2"/>
<path d="M441.5,456.2C442.8,457.7 446.1,461.9 449.0,465.0C451.9,468.1 455.7,471.7 459.0,475.0C462.3,478.3 465.7,481.9 469.0,485.0C472.3,488.1 475.9,490.6 479.0,493.8C482.1,496.9 485.0,500.6 487.8,503.8C490.5,506.9 494.0,511.0 495.2,512.5"/>
<path d="M495.2,512.5C497.1,511.5 503.0,508.3 506.5,506.2C510.0,504.2 513.9,502.3 516.5,500.0C519.1,497.7 521.0,495.4 522.0,492.5C523.0,489.6 523.2,485.8 522.8,482.5C522.2,479.2 520.5,475.6 519.0,472.5C517.5,469.4 515.7,466.2 514.0,463.8C512.3,461.2 509.8,458.5 509.0,457.5"/>
<path d="M495.2,512.5C495.7,514.6 497.1,520.8 497.8,525.0C498.4,529.2 498.9,533.8 499.0,537.5C499.1,541.2 498.6,545.8 498.5,547.5"/>
<path d="M460.2,553.8C462.1,553.5 467.5,552.4 471.5,552.0C475.5,551.6 480.2,551.6 484.0,551.2C487.8,550.9 491.6,550.5 494.0,550.0C496.4,549.5 497.8,548.3 498.5,548.0"/>
<path d="M524.0,440.0C524.8,441.7 528.6,446.7 529.0,450.0C529.4,453.3 527.8,456.7 526.5,460.0C525.2,463.3 523.6,467.1 521.5,470.0C519.4,472.9 515.2,476.2 514.0,477.5"/>
<path d="M520.2,502.5C520.9,504.6 523.0,510.8 524.0,515.0C525.0,519.2 525.7,523.3 526.5,527.5C527.3,531.7 528.2,537.3 529.0,540.0C529.8,542.7 531.1,543.1 531.5,543.8"/>
<path d="M531.5,543.8C533.2,543.5 538.2,543.5 541.5,542.5C544.8,541.5 548.6,539.6 551.5,537.5C554.4,535.4 557.1,532.1 559.0,530.0C560.9,527.9 562.1,525.8 562.8,525.0"/>
<path d="M562.8,525.0C564.2,526.5 568.0,531.7 571.5,533.8C575.0,535.8 581.9,536.9 584.0,537.5"/>
<path d="M584.0,537.5C585.2,535.4 589.2,529.2 591.5,525.0C593.8,520.8 595.9,517.1 597.8,512.5C599.6,507.9 601.5,502.1 602.8,497.5C604.0,492.9 605.0,488.5 605.2,485.0C605.5,481.5 605.2,479.6 604.0,476.2C602.8,472.9 598.8,466.9 597.8,465.0"/>
<path d="M597.8,465.0C596.3,464.2 591.7,461.9 589.0,460.0C586.3,458.1 584.0,456.2 581.5,453.8C579.0,451.2 576.1,447.3 574.0,445.0C571.9,442.7 569.8,440.8 569.0,440.0"/>
<path d="M597.8,465.0C599.6,464.2 605.0,461.7 609.0,460.0C613.0,458.3 617.2,456.2 621.5,455.0C625.8,453.8 632.8,452.9 635.0,452.5"/>
<path d="M584.0,537.5C585.7,539.0 590.2,544.2 594.0,546.2C597.8,548.2 602.3,549.5 606.5,549.5C610.7,549.5 615.2,547.8 619.0,546.2C622.8,544.7 626.3,541.7 629.0,540.0C631.7,538.3 634.0,536.9 635.0,536.2"/>
<path d="M460.2,553.8C458.8,555.6 453.4,560.6 451.5,565.0C449.6,569.4 449.0,575.2 449.0,580.0C449.0,584.8 449.6,589.8 451.5,593.8C453.4,597.7 456.9,601.0 460.2,603.8C463.6,606.5 467.5,608.8 471.5,610.0C475.5,611.2 479.8,611.9 484.0,611.2C488.2,610.6 492.8,608.8 496.5,606.2C500.2,603.8 504.2,600.2 506.5,596.2C508.8,592.3 509.8,587.3 510.2,582.5C510.7,577.7 510.2,571.7 509.0,567.5C507.8,563.3 504.5,560.4 502.8,557.5C501.0,554.6 499.2,551.2 498.5,550.0"/>
<path d="M391.5,555.0C393.8,554.6 400.9,552.6 405.2,552.5C409.6,552.4 413.6,552.6 417.8,554.5C421.9,556.4 426.9,560.1 430.2,563.8C433.6,567.4 436.2,571.9 437.8,576.2C439.3,580.6 439.3,585.2 439.8,590.0C440.2,594.8 440.4,600.8 440.2,605.0C440.1,609.2 440.0,611.5 439.0,615.0C438.0,618.5 436.5,623.1 434.0,626.2C431.5,629.4 427.3,632.1 424.0,633.8C420.7,635.4 415.7,635.6 414.0,636.0"/>
<path d="M403.0,544.0C402.6,544.7 401.6,546.7 400.3,548.0C399.0,549.3 396.7,550.8 395.3,552.0C393.9,553.2 392.4,554.9 391.8,555.5"/>
<path d="M381.5,627.5C382.8,628.3 386.1,631.1 389.0,632.5C391.9,633.9 397.3,635.4 399.0,636.0"/>
<path d="M514.0,628.8C515.2,629.4 519.6,631.3 521.5,632.5C523.4,633.7 524.6,635.4 525.2,636.0"/>
<path d="M638.8,460.0C639.4,461.2 641.5,465.8 642.5,467.5C643.5,469.2 644.6,469.6 645.0,470.0"/>
<path d="M645.0,470.0C647.1,470.1 653.3,470.1 657.5,470.5C661.7,470.9 665.6,471.1 670.0,472.5C674.4,473.9 681.5,477.7 683.8,478.8"/>
<path d="M683.8,478.8C684.2,480.6 685.6,486.5 686.2,490.0C686.9,493.5 687.3,498.3 687.5,500.0"/>
<path d="M645.0,470.0C644.6,472.1 643.1,478.3 642.5,482.5C641.9,486.7 641.2,491.0 641.2,495.0C641.2,499.0 641.9,502.3 642.5,506.2C643.1,510.2 644.6,516.7 645.0,518.8"/>
<path d="M645.0,518.8C646.7,519.2 651.2,521.1 655.0,521.2C658.8,521.4 663.8,520.8 667.5,519.5C671.2,518.2 674.8,516.0 677.5,513.8C680.2,511.5 682.1,508.5 683.8,506.2C685.4,504.0 686.9,501.0 687.5,500.0"/>
<path d="M645.0,518.8C644.4,520.0 642.9,524.0 641.2,526.2C639.6,528.5 636.0,531.5 635.0,532.5"/>
<path d="M687.5,500.0C689.2,501.0 694.0,504.4 697.5,506.2C701.0,508.1 706.5,509.0 708.8,511.2C711.0,513.5 709.8,516.9 711.2,520.0C712.7,523.1 714.8,527.1 717.5,530.0C720.2,532.9 723.8,535.3 727.5,537.5C731.2,539.7 735.8,541.7 740.0,543.0C744.2,544.3 748.8,545.2 752.5,545.5C756.2,545.8 759.8,545.0 762.5,544.5C765.2,544.0 767.7,542.8 768.8,542.5"/>
<path d="M768.8,542.5C768.5,540.4 767.7,534.2 767.5,530.0C767.3,525.8 767.1,521.2 767.5,517.5C767.9,513.8 768.8,510.4 770.0,507.5C771.2,504.6 773.4,502.4 775.0,500.0C776.6,497.6 778.8,494.2 779.5,493.0"/>
<path d="M779.5,493.0C778.3,491.9 775.1,488.6 772.5,486.2C769.9,483.9 766.2,481.2 763.8,478.8C761.2,476.2 759.4,473.8 757.5,471.2C755.6,468.8 753.3,465.0 752.5,463.8"/>
<path d="M752.5,463.8C750.8,463.3 745.2,461.7 742.5,461.2C739.8,460.8 737.3,461.2 736.2,461.2"/>
<path d="M768.8,542.5C770.6,543.3 776.0,546.0 780.0,547.5C784.0,549.0 788.3,550.2 792.5,551.2C796.7,552.3 800.8,552.5 805.0,553.8C809.2,555.0 813.3,557.3 817.5,558.8C821.7,560.2 827.3,561.5 830.0,562.5C832.7,563.5 833.1,564.6 833.8,565.0"/>
<path d="M833.8,565.0C834.0,566.7 834.0,571.7 835.0,575.0C836.0,578.3 837.5,581.9 840.0,585.0C842.5,588.1 846.2,591.5 850.0,593.8C853.8,596.0 858.3,597.8 862.5,598.8C866.7,599.7 870.8,600.1 875.0,599.5C879.2,598.9 884.0,597.2 887.5,595.0C891.0,592.8 894.2,589.6 896.2,586.2C898.3,582.9 899.3,579.0 900.0,575.0C900.7,571.0 901.1,566.5 900.5,562.5C899.9,558.5 898.0,554.4 896.2,551.2C894.5,548.1 891.9,545.3 890.0,543.8C888.1,542.2 885.8,542.3 885.0,542.0"/>
<path d="M890.0,543.0C891.7,543.8 897.3,546.1 900.0,547.5C902.7,548.9 905.0,550.6 906.0,551.2"/>
<path d="M931.5,440.0C932.1,441.9 934.0,448.1 935.2,451.2C936.5,454.4 936.7,456.5 939.0,458.8C941.3,461.0 946.5,462.5 949.0,465.0C951.5,467.5 952.7,470.4 954.0,473.8C955.3,477.1 956.4,481.5 957.0,485.0C957.6,488.5 957.0,492.3 957.8,495.0C958.5,497.7 960.9,500.2 961.5,501.2"/>
<path d="M962.8,506.2C964.6,506.0 970.0,504.5 974.0,504.5C978.0,504.5 982.3,505.5 986.5,506.2C990.7,507.0 995.0,507.7 999.0,508.8C1003.0,509.8 1008.4,511.9 1010.2,512.5"/>
<path d="M1010.2,512.5C1012.1,512.2 1018.0,510.5 1021.5,510.5C1025.0,510.5 1029.0,511.8 1031.5,512.5C1034.0,513.2 1035.7,514.2 1036.5,514.5"/>
<path d="M962.8,506.2C962.3,508.5 961.1,515.2 960.2,520.0C959.4,524.8 958.7,530.0 957.8,535.0C956.8,540.0 955.5,546.3 954.5,550.0C953.5,553.7 952.4,555.8 952.0,557.0"/>
<path d="M952.0,557.0C949.8,557.2 943.7,558.1 939.0,558.0C934.3,557.9 928.6,556.8 924.0,556.2C919.4,555.8 915.0,556.0 911.5,555.0C908.0,554.0 905.7,551.9 902.8,550.0C899.8,548.1 896.9,545.2 894.0,543.8C891.1,542.3 886.7,541.7 885.2,541.2"/>
<path d="M952.0,557.0C953.2,558.3 956.2,562.6 959.0,565.0C961.8,567.4 965.2,569.8 969.0,571.2C972.8,572.7 977.8,574.0 981.5,573.8C985.2,573.5 988.6,571.2 991.5,570.0C994.4,568.8 996.9,567.1 999.0,566.2C1001.1,565.4 1003.2,565.2 1004.0,565.0"/>
<path d="M1004.0,565.0C1005.7,565.8 1010.7,568.7 1014.0,569.5C1017.3,570.3 1021.1,570.2 1024.0,570.0C1026.9,569.8 1030.2,568.3 1031.5,568.0"/>
<path d="M93.0,447.5C94.7,446.9 99.5,445.2 103.0,443.8C106.5,442.4 112.3,440.7 114.0,438.8C115.7,436.9 113.2,433.6 113.0,432.5"/>
<path d="M118.0,430.0C120.1,429.6 126.3,428.5 130.5,427.5C134.7,426.5 138.8,424.9 143.0,423.8C147.2,422.7 152.8,422.1 155.5,421.0C158.2,419.9 158.4,418.1 159.0,417.5"/>
<path d="M141.8,421.0 L140.5,416.0"/>
<path d="M154.0,407.5C154.7,408.3 155.7,411.2 158.0,412.5C160.3,413.8 166.3,414.6 168.0,415.0"/>
<path d="M151.8,396.5C152.7,397.0 154.8,398.8 157.0,399.5C159.2,400.2 163.7,400.8 165.0,401.0"/>
<path d="M176.8,410.0C178.7,409.8 184.1,409.2 188.0,408.8C191.9,408.4 196.3,407.3 200.5,407.5C204.7,407.7 208.8,409.2 213.0,410.0C217.2,410.8 221.3,411.7 225.5,412.5C229.7,413.3 234.7,413.6 238.0,415.0C241.3,416.4 243.7,419.8 245.5,421.0C247.3,422.2 248.4,422.2 249.0,422.5"/>
<path d="M245.5,421.0C246.8,420.6 250.9,419.6 253.0,418.8C255.1,418.0 257.2,416.5 258.0,416.0"/>
<path d="M258.8,414.4 L262.5,409.4"/>
<path d="M281.0,411.0 L286.0,410.0"/>
<path d="M291.0,415.0C291.8,416.0 294.3,418.9 296.0,421.0C297.7,423.1 299.1,425.4 301.0,427.5C302.9,429.6 305.2,431.8 307.5,433.8C309.8,435.8 312.5,437.9 315.0,439.4C317.5,440.9 320.0,442.0 322.5,443.0C325.0,444.0 326.9,444.5 330.0,445.6C333.1,446.7 337.3,448.3 341.0,449.5C344.7,450.7 348.2,452.2 352.0,453.0C355.8,453.8 362.0,454.2 364.0,454.5"/>
<path d="M136.0,408.0 L133.0,412.0"/>
<path d="M128.5,414.0 L133.0,419.0"/>
<path d="M729.5,287.5C730.4,286.1 732.8,281.7 735.0,279.0C737.2,276.3 740.2,272.2 743.0,271.5C745.8,270.8 749.2,273.4 752.0,275.0C754.8,276.6 757.8,279.3 760.0,281.0C762.2,282.7 764.2,284.3 765.0,285.0"/>
<path d="M621.5,450.5 L621.5,445.0"/>
<path d="M931.5,438.5 L931.5,440.0"/>
</g>
</g>
<g>
<polygon points="168.25,705.5 108.8,720 168.25,734.5" fill="#2d004b"/>
<rect x="168.25" y="705.5" width="83.55" height="29.0" fill="#542788"/>
<rect x="251.50" y="705.5" width="83.55" height="29.0" fill="#8073ac"/>
<rect x="334.75" y="705.5" width="83.55" height="29.0" fill="#b2abd2"/>
<rect x="418.00" y="705.5" width="83.55" height="29.0" fill="#d8daeb"/>
<rect x="501.25" y="705.5" width="83.55" height="29.0" fill="#ffffff"/>
<rect x="584.50" y="705.5" width="83.55" height="29.0" fill="#fee0b6"/>
<rect x="667.75" y="705.5" width="83.55" height="29.0" fill="#fdb863"/>
<rect x="751.00" y="705.5" width="83.55" height="29.0" fill="#e08214"/>
<rect x="834.25" y="705.5" width="83.55" height="29.0" fill="#b35806"/>
<polygon points="917.50,705.5 977,720 917.50,734.5" fill="#7f3b08"/>
<line x1="168.25" y1="705.5" x2="168.25" y2="734.5" stroke="#000" stroke-opacity="0.75" stroke-width="0.8"/>
<line x1="251.50" y1="705.5" x2="251.50" y2="734.5" stroke="#000" stroke-opacity="0.75" stroke-width="0.8"/>
<line x1="334.75" y1="705.5" x2="334.75" y2="734.5" stroke="#000" stroke-opacity="0.75" stroke-width="0.8"/>
<line x1="418.00" y1="705.5" x2="418.00" y2="734.5" stroke="#000" stroke-opacity="0.75" stroke-width="0.8"/>
<line x1="501.25" y1="705.5" x2="501.25" y2="734.5" stroke="#000" stroke-opacity="0.75" stroke-width="0.8"/>
<line x1="584.50" y1="705.5" x2="584.50" y2="734.5" stroke="#000" stroke-opacity="0.75" stroke-width="0.8"/>
<line x1="667.75" y1="705.5" x2="667.75" y2="734.5" stroke="#000" stroke-opacity="0.75" stroke-width="0.8"/>
<line x1="751.00" y1="705.5" x2="751.00" y2="734.5" stroke="#000" stroke-opacity="0.75" stroke-width="0.8"/>
<line x1="834.25" y1="705.5" x2="834.25" y2="734.5" stroke="#000" stroke-opacity="0.75" stroke-width="0.8"/>
<line x1="917.50" y1="705.5" x2="917.50" y2="734.5" stroke="#000" stroke-opacity="0.75" stroke-width="0.8"/>
<polygon points="108.8,720 168.25,705.5 917.50,705.5 977,720 917.50,734.5 168.25,734.5" fill="none" stroke="#000" stroke-width="1" stroke-linejoin="miter"/>
</g>
<g class="tx">
<g font-size="12.3">
<text x="280" y="170" textLength="31.0" lengthAdjust="spacingAndGlyphs">CNMI</text>
<text x="274.5" y="236" textLength="35.5" lengthAdjust="spacingAndGlyphs">Guam</text>
<text x="285" y="273.7" textLength="108.5" lengthAdjust="spacingAndGlyphs">Federated States</text>
<text x="297" y="288" textLength="84.0" lengthAdjust="spacingAndGlyphs">of Micronesia</text>
<text x="181" y="293.6" textLength="33.0" lengthAdjust="spacingAndGlyphs">Palau</text>
<text x="442" y="244" textLength="71.0" lengthAdjust="spacingAndGlyphs">Marshall Is.</text>
<text x="275" y="336.5" textLength="70.0" lengthAdjust="spacingAndGlyphs">Papua New</text>
<text x="289" y="351" textLength="43.5" lengthAdjust="spacingAndGlyphs">Guinea</text>
<text x="445" y="336.5" textLength="36.5" lengthAdjust="spacingAndGlyphs">Nauru</text>
<text x="489.5" y="356.5" textLength="43.5" lengthAdjust="spacingAndGlyphs">Kiribati</text>
<text x="611" y="373.2" textLength="43.5" lengthAdjust="spacingAndGlyphs">Kiribati</text>
<text x="756.5" y="373.2" textLength="43.0" lengthAdjust="spacingAndGlyphs">Kiribati</text>
<text x="536.5" y="402.5" textLength="42.0" lengthAdjust="spacingAndGlyphs">Tuvalu</text>
<text x="617" y="405.6" textLength="49.0" lengthAdjust="spacingAndGlyphs">Tokelau</text>
<text x="419" y="430.6" textLength="73.0" lengthAdjust="spacingAndGlyphs">Solomon Is.</text>
<text x="455" y="476" textLength="49.0" lengthAdjust="spacingAndGlyphs">Vanuatu</text>
<text x="400" y="528.7" textLength="95.0" lengthAdjust="spacingAndGlyphs">New Caledonia</text>
<text x="697" y="425.9" textLength="50.0" lengthAdjust="spacingAndGlyphs">Cook Is.</text>
<text x="614.5" y="442" textLength="42.0" lengthAdjust="spacingAndGlyphs">Samoa</text>
<text x="574" y="449.5" textLength="39.0" lengthAdjust="spacingAndGlyphs">W &amp; F</text>
<text x="645.5" y="459.5" textLength="59.0" lengthAdjust="spacingAndGlyphs">A. Samoa</text>
<text x="805.5" y="489.7" textLength="106.3" lengthAdjust="spacingAndGlyphs">French Polynesia</text>
<text x="540.8" y="500.8" textLength="15.7" lengthAdjust="spacingAndGlyphs">Fiji</text>
<text x="647" y="501.5" textLength="28.0" lengthAdjust="spacingAndGlyphs">Niue</text>
<text x="602" y="519.5" textLength="37.5" lengthAdjust="spacingAndGlyphs">Tonga</text>
<text x="975" y="547.2" textLength="46.5" lengthAdjust="spacingAndGlyphs">Pitcairn</text>
<text x="991.5" y="562" textLength="12.0" lengthAdjust="spacingAndGlyphs">Is.</text>
</g>
<text x="98.7" y="620.3" font-size="12.3" style="fill:#000;fill-opacity:0.46" textLength="484.5" lengthAdjust="spacingAndGlyphs">© Commonwealth of Australia 2025, Bureau of Meteorology, supported by COSPPac</text>
<text x="570" y="25.9" font-size="20.8" text-anchor="middle" textLength="681" lengthAdjust="spacingAndGlyphs">Difference from average outgoing longwave radiation forecast for</text>
<text x="570.3" y="48.8" font-size="20.8" text-anchor="middle" textLength="231.5" lengthAdjust="spacingAndGlyphs">February to April 2026</text>
<text x="11.5" y="55.2" font-size="12.5" textLength="137" lengthAdjust="spacingAndGlyphs">Base period: 1981-2018</text>
<text x="11.5" y="71.4" font-size="12.5" textLength="105" lengthAdjust="spacingAndGlyphs">Model: ACCESS-S2</text>
<text x="1074.2" y="54.7" font-size="12.5" text-anchor="end" textLength="129.7" lengthAdjust="spacingAndGlyphs">Model run: 15/11/2025</text>
<text x="1074.2" y="71.5" font-size="12.5" text-anchor="end" textLength="109.8" lengthAdjust="spacingAndGlyphs">Issued: 17/11/2025</text>
<text x="83" y="174.1" font-size="13.4" text-anchor="end" textLength="33.6" lengthAdjust="spacingAndGlyphs">20°N</text>
<text x="83" y="257.7" font-size="13.4" text-anchor="end" textLength="32.6" lengthAdjust="spacingAndGlyphs">10°N</text>
<text x="83" y="338.7" font-size="13.4" text-anchor="end" textLength="13" lengthAdjust="spacingAndGlyphs">0°</text>
<text x="83" y="419.7" font-size="13.4" text-anchor="end" textLength="32" lengthAdjust="spacingAndGlyphs">10°S</text>
<text x="83" y="503.3" font-size="13.4" text-anchor="end" textLength="33" lengthAdjust="spacingAndGlyphs">20°S</text>
<text x="83" y="592.3" font-size="13.4" text-anchor="end" textLength="33" lengthAdjust="spacingAndGlyphs">30°S</text>
<text x="94.5" y="657" font-size="13.4" text-anchor="middle" textLength="40" lengthAdjust="spacingAndGlyphs">120°E</text>
<text x="175.1" y="657" font-size="13.4" text-anchor="middle" textLength="40" lengthAdjust="spacingAndGlyphs">130°E</text>
<text x="255.7" y="657" font-size="13.4" text-anchor="middle" textLength="40" lengthAdjust="spacingAndGlyphs">140°E</text>
<text x="336.3" y="657" font-size="13.4" text-anchor="middle" textLength="40" lengthAdjust="spacingAndGlyphs">150°E</text>
<text x="416.9" y="657" font-size="13.4" text-anchor="middle" textLength="40" lengthAdjust="spacingAndGlyphs">160°E</text>
<text x="497.5" y="657" font-size="13.4" text-anchor="middle" textLength="40" lengthAdjust="spacingAndGlyphs">170°E</text>
<text x="578.0" y="657" font-size="13.4" text-anchor="middle" textLength="31.5" lengthAdjust="spacingAndGlyphs">180°</text>
<text x="658.6" y="657" font-size="13.4" text-anchor="middle" textLength="43" lengthAdjust="spacingAndGlyphs">170°W</text>
<text x="739.2" y="657" font-size="13.4" text-anchor="middle" textLength="43" lengthAdjust="spacingAndGlyphs">160°W</text>
<text x="819.8" y="657" font-size="13.4" text-anchor="middle" textLength="43" lengthAdjust="spacingAndGlyphs">150°W</text>
<text x="900.4" y="657" font-size="13.4" text-anchor="middle" textLength="43" lengthAdjust="spacingAndGlyphs">140°W</text>
<text x="981.0" y="657" font-size="13.4" text-anchor="middle" textLength="43" lengthAdjust="spacingAndGlyphs">130°W</text>
<text x="168.2" y="751" font-size="16.6" text-anchor="middle" textLength="23.5" lengthAdjust="spacingAndGlyphs">-25</text>
<text x="251.5" y="751" font-size="16.6" text-anchor="middle" textLength="23.5" lengthAdjust="spacingAndGlyphs">-15</text>
<text x="334.8" y="751" font-size="16.6" text-anchor="middle" textLength="23.5" lengthAdjust="spacingAndGlyphs">-10</text>
<text x="418.0" y="751" font-size="16.6" text-anchor="middle" textLength="13.7" lengthAdjust="spacingAndGlyphs">-5</text>
<text x="501.2" y="751" font-size="16.6" text-anchor="middle" textLength="13.7" lengthAdjust="spacingAndGlyphs">-2</text>
<text x="584.5" y="751" font-size="16.6" text-anchor="middle" textLength="8.5" lengthAdjust="spacingAndGlyphs">2</text>
<text x="667.8" y="751" font-size="16.6" text-anchor="middle" textLength="8.5" lengthAdjust="spacingAndGlyphs">5</text>
<text x="751.0" y="751" font-size="16.6" text-anchor="middle" textLength="17.5" lengthAdjust="spacingAndGlyphs">10</text>
<text x="834.2" y="751" font-size="16.6" text-anchor="middle" textLength="17.5" lengthAdjust="spacingAndGlyphs">15</text>
<text x="917.5" y="751" font-size="16.6" text-anchor="middle" textLength="17.5" lengthAdjust="spacingAndGlyphs">25</text>
<text x="542.7" y="778.2" font-size="18" text-anchor="middle" textLength="298" lengthAdjust="spacingAndGlyphs">Difference from average (W/m2)</text>
<text x="11" y="808.3" font-size="12.5" textLength="8" lengthAdjust="spacingAndGlyphs">--</text>
<text x="26.7" y="808.3" font-size="12.5" textLength="7.6" lengthAdjust="spacingAndGlyphs">--</text>
<text x="42.3" y="808.3" font-size="12.5" textLength="7.7" lengthAdjust="spacingAndGlyphs">--</text>
<text x="54.3" y="808.3" font-size="12.5" textLength="285.7" lengthAdjust="spacingAndGlyphs">EEZ border V11 (Flanders Marine Institute, 2019).</text>
</g>
</svg>
</body></html>
